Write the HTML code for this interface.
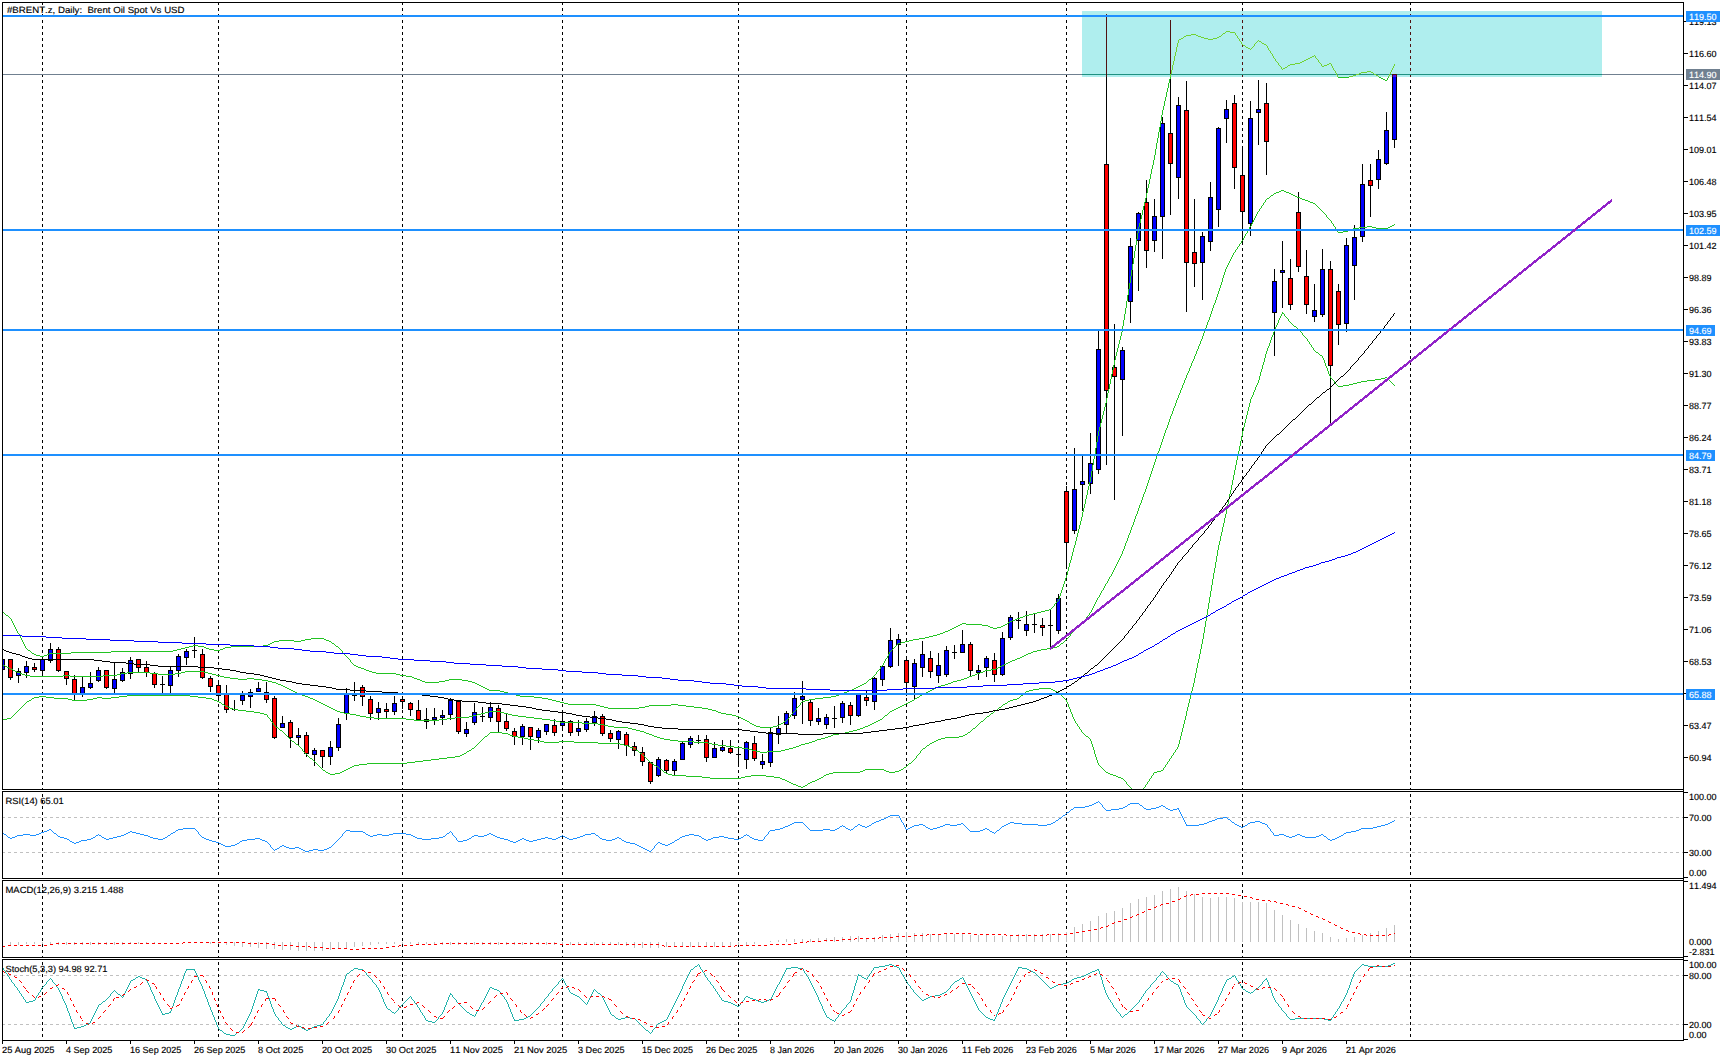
<!DOCTYPE html>
<html lang="en"><head><meta charset="utf-8"><title>#BRENT.z Daily</title>
<style>html,body{margin:0;padding:0;background:#fff;overflow:hidden}svg{display:block}text{white-space:pre}</style></head><body>
<svg width="1731" height="1061" viewBox="0 0 1731 1061" shape-rendering="crispEdges">
<rect x="0" y="0" width="1731" height="1061" fill="#FFFFFF"/>
<defs>
<clipPath id="cm"><rect x="3" y="3" width="1680" height="786"/></clipPath>
<clipPath id="cr"><rect x="1082" y="11" width="520" height="66"/></clipPath>
<clipPath id="c1"><rect x="3" y="792" width="1680" height="86"/></clipPath>
<clipPath id="c2"><rect x="3" y="881" width="1680" height="76"/></clipPath>
<clipPath id="c3"><rect x="3" y="960" width="1680" height="80"/></clipPath>
</defs>
<g clip-path="url(#cm)">
<line x1="42.5" y1="2" x2="42.5" y2="789" stroke="#000000" stroke-width="1" stroke-dasharray="3 3"/>
<line x1="218.5" y1="2" x2="218.5" y2="789" stroke="#000000" stroke-width="1" stroke-dasharray="3 3"/>
<line x1="402.5" y1="2" x2="402.5" y2="789" stroke="#000000" stroke-width="1" stroke-dasharray="3 3"/>
<line x1="562.5" y1="2" x2="562.5" y2="789" stroke="#000000" stroke-width="1" stroke-dasharray="3 3"/>
<line x1="738.5" y1="2" x2="738.5" y2="789" stroke="#000000" stroke-width="1" stroke-dasharray="3 3"/>
<line x1="906.5" y1="2" x2="906.5" y2="789" stroke="#000000" stroke-width="1" stroke-dasharray="3 3"/>
<line x1="1066.5" y1="2" x2="1066.5" y2="789" stroke="#000000" stroke-width="1" stroke-dasharray="3 3"/>
<line x1="1242.5" y1="2" x2="1242.5" y2="789" stroke="#000000" stroke-width="1" stroke-dasharray="3 3"/>
<line x1="1410.5" y1="2" x2="1410.5" y2="789" stroke="#000000" stroke-width="1" stroke-dasharray="3 3"/>
<rect x="3" y="74" width="1680" height="1" fill="#708090"/>
<rect x="2" y="657" width="1" height="16" fill="#000000"/>
<rect x="0" y="659" width="5" height="11" fill="#000000"/>
<rect x="1" y="660" width="3" height="9" fill="#0000FF"/>
<rect x="10" y="659" width="1" height="21" fill="#000000"/>
<rect x="8" y="659" width="5" height="19" fill="#000000"/>
<rect x="9" y="660" width="3" height="17" fill="#FF0000"/>
<rect x="18" y="668" width="1" height="15" fill="#000000"/>
<rect x="16" y="671" width="5" height="5" fill="#000000"/>
<rect x="17" y="672" width="3" height="3" fill="#0000FF"/>
<rect x="26" y="661" width="1" height="17" fill="#000000"/>
<rect x="24" y="666" width="5" height="7" fill="#000000"/>
<rect x="25" y="667" width="3" height="5" fill="#0000FF"/>
<rect x="34" y="663" width="1" height="9" fill="#000000"/>
<rect x="32" y="667" width="5" height="3" fill="#000000"/>
<rect x="33" y="668" width="3" height="1" fill="#FF0000"/>
<rect x="42" y="656" width="1" height="21" fill="#000000"/>
<rect x="40" y="659" width="5" height="12" fill="#000000"/>
<rect x="41" y="660" width="3" height="10" fill="#0000FF"/>
<rect x="50" y="643" width="1" height="20" fill="#000000"/>
<rect x="48" y="649" width="5" height="12" fill="#000000"/>
<rect x="49" y="650" width="3" height="10" fill="#0000FF"/>
<rect x="58" y="647" width="1" height="25" fill="#000000"/>
<rect x="56" y="649" width="5" height="22" fill="#000000"/>
<rect x="57" y="650" width="3" height="20" fill="#FF0000"/>
<rect x="66" y="671" width="1" height="14" fill="#000000"/>
<rect x="64" y="671" width="5" height="8" fill="#000000"/>
<rect x="65" y="672" width="3" height="6" fill="#FF0000"/>
<rect x="74" y="675" width="1" height="26" fill="#000000"/>
<rect x="72" y="679" width="5" height="15" fill="#000000"/>
<rect x="73" y="680" width="3" height="13" fill="#FF0000"/>
<rect x="82" y="676" width="1" height="21" fill="#000000"/>
<rect x="80" y="687" width="5" height="7" fill="#000000"/>
<rect x="81" y="688" width="3" height="5" fill="#0000FF"/>
<rect x="90" y="672" width="1" height="17" fill="#000000"/>
<rect x="88" y="683" width="5" height="5" fill="#000000"/>
<rect x="89" y="684" width="3" height="3" fill="#0000FF"/>
<rect x="98" y="667" width="1" height="15" fill="#000000"/>
<rect x="96" y="670" width="5" height="11" fill="#000000"/>
<rect x="97" y="671" width="3" height="9" fill="#0000FF"/>
<rect x="106" y="670" width="1" height="19" fill="#000000"/>
<rect x="104" y="670" width="5" height="18" fill="#000000"/>
<rect x="105" y="671" width="3" height="16" fill="#FF0000"/>
<rect x="114" y="662" width="1" height="32" fill="#000000"/>
<rect x="112" y="679" width="5" height="10" fill="#000000"/>
<rect x="113" y="680" width="3" height="8" fill="#0000FF"/>
<rect x="122" y="668" width="1" height="14" fill="#000000"/>
<rect x="120" y="672" width="5" height="9" fill="#000000"/>
<rect x="121" y="673" width="3" height="7" fill="#0000FF"/>
<rect x="130" y="657" width="1" height="22" fill="#000000"/>
<rect x="128" y="660" width="5" height="14" fill="#000000"/>
<rect x="129" y="661" width="3" height="12" fill="#0000FF"/>
<rect x="138" y="659" width="1" height="13" fill="#000000"/>
<rect x="136" y="659" width="5" height="9" fill="#000000"/>
<rect x="137" y="660" width="3" height="7" fill="#FF0000"/>
<rect x="146" y="661" width="1" height="16" fill="#000000"/>
<rect x="144" y="667" width="5" height="6" fill="#000000"/>
<rect x="145" y="668" width="3" height="4" fill="#FF0000"/>
<rect x="154" y="672" width="1" height="16" fill="#000000"/>
<rect x="152" y="673" width="5" height="12" fill="#000000"/>
<rect x="153" y="674" width="3" height="10" fill="#FF0000"/>
<rect x="162" y="676" width="1" height="18" fill="#000000"/>
<rect x="160" y="684" width="5" height="1" fill="#000000"/>
<rect x="170" y="666" width="1" height="28" fill="#000000"/>
<rect x="168" y="670" width="5" height="16" fill="#000000"/>
<rect x="169" y="671" width="3" height="14" fill="#0000FF"/>
<rect x="178" y="654" width="1" height="23" fill="#000000"/>
<rect x="176" y="656" width="5" height="15" fill="#000000"/>
<rect x="177" y="657" width="3" height="13" fill="#0000FF"/>
<rect x="186" y="649" width="1" height="16" fill="#000000"/>
<rect x="184" y="651" width="5" height="7" fill="#000000"/>
<rect x="185" y="652" width="3" height="5" fill="#0000FF"/>
<rect x="194" y="637" width="1" height="21" fill="#000000"/>
<rect x="192" y="650" width="5" height="1" fill="#000000"/>
<rect x="202" y="649" width="1" height="30" fill="#000000"/>
<rect x="200" y="654" width="5" height="24" fill="#000000"/>
<rect x="201" y="655" width="3" height="22" fill="#FF0000"/>
<rect x="210" y="676" width="1" height="16" fill="#000000"/>
<rect x="208" y="678" width="5" height="9" fill="#000000"/>
<rect x="209" y="679" width="3" height="7" fill="#FF0000"/>
<rect x="218" y="680" width="1" height="22" fill="#000000"/>
<rect x="216" y="685" width="5" height="11" fill="#000000"/>
<rect x="217" y="686" width="3" height="9" fill="#FF0000"/>
<rect x="226" y="685" width="1" height="28" fill="#000000"/>
<rect x="224" y="694" width="5" height="16" fill="#000000"/>
<rect x="225" y="695" width="3" height="14" fill="#FF0000"/>
<rect x="234" y="700" width="1" height="11" fill="#000000"/>
<rect x="232" y="709" width="5" height="1" fill="#000000"/>
<rect x="242" y="691" width="1" height="14" fill="#000000"/>
<rect x="240" y="695" width="5" height="6" fill="#000000"/>
<rect x="241" y="696" width="3" height="4" fill="#0000FF"/>
<rect x="250" y="689" width="1" height="19" fill="#000000"/>
<rect x="248" y="692" width="5" height="5" fill="#000000"/>
<rect x="249" y="693" width="3" height="3" fill="#0000FF"/>
<rect x="258" y="682" width="1" height="10" fill="#000000"/>
<rect x="256" y="688" width="5" height="4" fill="#000000"/>
<rect x="257" y="689" width="3" height="2" fill="#0000FF"/>
<rect x="266" y="682" width="1" height="21" fill="#000000"/>
<rect x="264" y="692" width="5" height="8" fill="#000000"/>
<rect x="265" y="693" width="3" height="6" fill="#FF0000"/>
<rect x="274" y="696" width="1" height="43" fill="#000000"/>
<rect x="272" y="698" width="5" height="40" fill="#000000"/>
<rect x="273" y="699" width="3" height="38" fill="#FF0000"/>
<rect x="282" y="716" width="1" height="12" fill="#000000"/>
<rect x="280" y="723" width="5" height="5" fill="#000000"/>
<rect x="281" y="724" width="3" height="3" fill="#0000FF"/>
<rect x="290" y="720" width="1" height="28" fill="#000000"/>
<rect x="288" y="722" width="5" height="16" fill="#000000"/>
<rect x="289" y="723" width="3" height="14" fill="#FF0000"/>
<rect x="298" y="728" width="1" height="17" fill="#000000"/>
<rect x="296" y="735" width="5" height="3" fill="#000000"/>
<rect x="297" y="736" width="3" height="1" fill="#0000FF"/>
<rect x="306" y="732" width="1" height="25" fill="#000000"/>
<rect x="304" y="735" width="5" height="19" fill="#000000"/>
<rect x="305" y="736" width="3" height="17" fill="#FF0000"/>
<rect x="314" y="748" width="1" height="18" fill="#000000"/>
<rect x="312" y="750" width="5" height="5" fill="#000000"/>
<rect x="313" y="751" width="3" height="3" fill="#0000FF"/>
<rect x="322" y="750" width="1" height="18" fill="#000000"/>
<rect x="320" y="750" width="5" height="7" fill="#000000"/>
<rect x="321" y="751" width="3" height="5" fill="#FF0000"/>
<rect x="330" y="741" width="1" height="24" fill="#000000"/>
<rect x="328" y="747" width="5" height="10" fill="#000000"/>
<rect x="329" y="748" width="3" height="8" fill="#0000FF"/>
<rect x="338" y="718" width="1" height="33" fill="#000000"/>
<rect x="336" y="724" width="5" height="24" fill="#000000"/>
<rect x="337" y="725" width="3" height="22" fill="#0000FF"/>
<rect x="346" y="688" width="1" height="32" fill="#000000"/>
<rect x="344" y="694" width="5" height="20" fill="#000000"/>
<rect x="345" y="695" width="3" height="18" fill="#0000FF"/>
<rect x="354" y="682" width="1" height="19" fill="#000000"/>
<rect x="352" y="695" width="5" height="1" fill="#000000"/>
<rect x="362" y="685" width="1" height="21" fill="#000000"/>
<rect x="360" y="687" width="5" height="10" fill="#000000"/>
<rect x="361" y="688" width="3" height="8" fill="#FF0000"/>
<rect x="370" y="696" width="1" height="24" fill="#000000"/>
<rect x="368" y="699" width="5" height="15" fill="#000000"/>
<rect x="369" y="700" width="3" height="13" fill="#FF0000"/>
<rect x="378" y="702" width="1" height="18" fill="#000000"/>
<rect x="376" y="708" width="5" height="5" fill="#000000"/>
<rect x="377" y="709" width="3" height="3" fill="#0000FF"/>
<rect x="386" y="703" width="1" height="16" fill="#000000"/>
<rect x="384" y="709" width="5" height="3" fill="#000000"/>
<rect x="385" y="710" width="3" height="1" fill="#FF0000"/>
<rect x="394" y="696" width="1" height="19" fill="#000000"/>
<rect x="392" y="703" width="5" height="9" fill="#000000"/>
<rect x="393" y="704" width="3" height="7" fill="#0000FF"/>
<rect x="402" y="696" width="1" height="13" fill="#000000"/>
<rect x="400" y="699" width="5" height="3" fill="#000000"/>
<rect x="401" y="700" width="3" height="1" fill="#FF0000"/>
<rect x="410" y="702" width="1" height="14" fill="#000000"/>
<rect x="408" y="703" width="5" height="7" fill="#000000"/>
<rect x="409" y="704" width="3" height="5" fill="#FF0000"/>
<rect x="418" y="700" width="1" height="21" fill="#000000"/>
<rect x="416" y="710" width="5" height="10" fill="#000000"/>
<rect x="417" y="711" width="3" height="8" fill="#FF0000"/>
<rect x="426" y="708" width="1" height="21" fill="#000000"/>
<rect x="424" y="719" width="5" height="3" fill="#000000"/>
<rect x="425" y="720" width="3" height="1" fill="#0000FF"/>
<rect x="434" y="708" width="1" height="17" fill="#000000"/>
<rect x="432" y="717" width="5" height="3" fill="#000000"/>
<rect x="433" y="718" width="3" height="1" fill="#0000FF"/>
<rect x="442" y="710" width="1" height="15" fill="#000000"/>
<rect x="440" y="715" width="5" height="3" fill="#000000"/>
<rect x="441" y="716" width="3" height="1" fill="#0000FF"/>
<rect x="450" y="698" width="1" height="22" fill="#000000"/>
<rect x="448" y="700" width="5" height="15" fill="#000000"/>
<rect x="449" y="701" width="3" height="13" fill="#0000FF"/>
<rect x="458" y="700" width="1" height="34" fill="#000000"/>
<rect x="456" y="701" width="5" height="31" fill="#000000"/>
<rect x="457" y="702" width="3" height="29" fill="#FF0000"/>
<rect x="466" y="722" width="1" height="15" fill="#000000"/>
<rect x="464" y="729" width="5" height="5" fill="#000000"/>
<rect x="465" y="730" width="3" height="3" fill="#0000FF"/>
<rect x="474" y="703" width="1" height="22" fill="#000000"/>
<rect x="472" y="712" width="5" height="11" fill="#000000"/>
<rect x="473" y="713" width="3" height="9" fill="#0000FF"/>
<rect x="482" y="707" width="1" height="15" fill="#000000"/>
<rect x="480" y="716" width="5" height="1" fill="#000000"/>
<rect x="490" y="702" width="1" height="20" fill="#000000"/>
<rect x="488" y="707" width="5" height="11" fill="#000000"/>
<rect x="489" y="708" width="3" height="9" fill="#0000FF"/>
<rect x="498" y="705" width="1" height="28" fill="#000000"/>
<rect x="496" y="708" width="5" height="14" fill="#000000"/>
<rect x="497" y="709" width="3" height="12" fill="#FF0000"/>
<rect x="506" y="713" width="1" height="18" fill="#000000"/>
<rect x="504" y="721" width="5" height="8" fill="#000000"/>
<rect x="505" y="722" width="3" height="6" fill="#FF0000"/>
<rect x="514" y="728" width="1" height="17" fill="#000000"/>
<rect x="512" y="731" width="5" height="6" fill="#000000"/>
<rect x="513" y="732" width="3" height="4" fill="#FF0000"/>
<rect x="522" y="724" width="1" height="21" fill="#000000"/>
<rect x="520" y="726" width="5" height="11" fill="#000000"/>
<rect x="521" y="727" width="3" height="9" fill="#0000FF"/>
<rect x="530" y="727" width="1" height="23" fill="#000000"/>
<rect x="528" y="727" width="5" height="10" fill="#000000"/>
<rect x="529" y="728" width="3" height="8" fill="#FF0000"/>
<rect x="538" y="728" width="1" height="15" fill="#000000"/>
<rect x="536" y="730" width="5" height="8" fill="#000000"/>
<rect x="537" y="731" width="3" height="6" fill="#0000FF"/>
<rect x="546" y="724" width="1" height="11" fill="#000000"/>
<rect x="544" y="724" width="5" height="8" fill="#000000"/>
<rect x="545" y="725" width="3" height="6" fill="#0000FF"/>
<rect x="554" y="719" width="1" height="17" fill="#000000"/>
<rect x="552" y="725" width="5" height="8" fill="#000000"/>
<rect x="553" y="726" width="3" height="6" fill="#FF0000"/>
<rect x="562" y="711" width="1" height="20" fill="#000000"/>
<rect x="560" y="721" width="5" height="5" fill="#000000"/>
<rect x="561" y="722" width="3" height="3" fill="#0000FF"/>
<rect x="570" y="720" width="1" height="16" fill="#000000"/>
<rect x="568" y="721" width="5" height="12" fill="#000000"/>
<rect x="569" y="722" width="3" height="10" fill="#FF0000"/>
<rect x="578" y="720" width="1" height="16" fill="#000000"/>
<rect x="576" y="728" width="5" height="4" fill="#000000"/>
<rect x="577" y="729" width="3" height="2" fill="#0000FF"/>
<rect x="586" y="718" width="1" height="14" fill="#000000"/>
<rect x="584" y="721" width="5" height="9" fill="#000000"/>
<rect x="585" y="722" width="3" height="7" fill="#0000FF"/>
<rect x="594" y="711" width="1" height="15" fill="#000000"/>
<rect x="592" y="716" width="5" height="7" fill="#000000"/>
<rect x="593" y="717" width="3" height="5" fill="#0000FF"/>
<rect x="602" y="714" width="1" height="22" fill="#000000"/>
<rect x="600" y="716" width="5" height="18" fill="#000000"/>
<rect x="601" y="717" width="3" height="16" fill="#FF0000"/>
<rect x="610" y="730" width="1" height="12" fill="#000000"/>
<rect x="608" y="733" width="5" height="6" fill="#000000"/>
<rect x="609" y="734" width="3" height="4" fill="#FF0000"/>
<rect x="618" y="730" width="1" height="19" fill="#000000"/>
<rect x="616" y="731" width="5" height="9" fill="#000000"/>
<rect x="617" y="732" width="3" height="7" fill="#0000FF"/>
<rect x="626" y="732" width="1" height="24" fill="#000000"/>
<rect x="624" y="734" width="5" height="12" fill="#000000"/>
<rect x="625" y="735" width="3" height="10" fill="#FF0000"/>
<rect x="634" y="742" width="1" height="14" fill="#000000"/>
<rect x="632" y="746" width="5" height="5" fill="#000000"/>
<rect x="633" y="747" width="3" height="3" fill="#FF0000"/>
<rect x="642" y="747" width="1" height="19" fill="#000000"/>
<rect x="640" y="752" width="5" height="10" fill="#000000"/>
<rect x="641" y="753" width="3" height="8" fill="#FF0000"/>
<rect x="650" y="762" width="1" height="22" fill="#000000"/>
<rect x="648" y="762" width="5" height="20" fill="#000000"/>
<rect x="649" y="763" width="3" height="18" fill="#FF0000"/>
<rect x="658" y="757" width="1" height="20" fill="#000000"/>
<rect x="656" y="759" width="5" height="17" fill="#000000"/>
<rect x="657" y="760" width="3" height="15" fill="#0000FF"/>
<rect x="666" y="759" width="1" height="14" fill="#000000"/>
<rect x="664" y="760" width="5" height="11" fill="#000000"/>
<rect x="665" y="761" width="3" height="9" fill="#FF0000"/>
<rect x="674" y="759" width="1" height="16" fill="#000000"/>
<rect x="672" y="761" width="5" height="10" fill="#000000"/>
<rect x="673" y="762" width="3" height="8" fill="#0000FF"/>
<rect x="682" y="742" width="1" height="18" fill="#000000"/>
<rect x="680" y="743" width="5" height="17" fill="#000000"/>
<rect x="681" y="744" width="3" height="15" fill="#0000FF"/>
<rect x="690" y="736" width="1" height="12" fill="#000000"/>
<rect x="688" y="738" width="5" height="7" fill="#000000"/>
<rect x="689" y="739" width="3" height="5" fill="#0000FF"/>
<rect x="698" y="735" width="1" height="9" fill="#000000"/>
<rect x="696" y="740" width="5" height="1" fill="#000000"/>
<rect x="706" y="735" width="1" height="27" fill="#000000"/>
<rect x="704" y="739" width="5" height="19" fill="#000000"/>
<rect x="705" y="740" width="3" height="17" fill="#FF0000"/>
<rect x="714" y="742" width="1" height="16" fill="#000000"/>
<rect x="712" y="748" width="5" height="10" fill="#000000"/>
<rect x="713" y="749" width="3" height="8" fill="#0000FF"/>
<rect x="722" y="740" width="1" height="12" fill="#000000"/>
<rect x="720" y="747" width="5" height="4" fill="#000000"/>
<rect x="721" y="748" width="3" height="2" fill="#0000FF"/>
<rect x="730" y="740" width="1" height="14" fill="#000000"/>
<rect x="728" y="748" width="5" height="5" fill="#000000"/>
<rect x="729" y="749" width="3" height="3" fill="#FF0000"/>
<rect x="738" y="747" width="1" height="20" fill="#000000"/>
<rect x="736" y="754" width="5" height="1" fill="#000000"/>
<rect x="746" y="741" width="1" height="28" fill="#000000"/>
<rect x="744" y="742" width="5" height="18" fill="#000000"/>
<rect x="745" y="743" width="3" height="16" fill="#0000FF"/>
<rect x="754" y="736" width="1" height="25" fill="#000000"/>
<rect x="752" y="743" width="5" height="16" fill="#000000"/>
<rect x="753" y="744" width="3" height="14" fill="#FF0000"/>
<rect x="762" y="754" width="1" height="15" fill="#000000"/>
<rect x="760" y="761" width="5" height="4" fill="#000000"/>
<rect x="761" y="762" width="3" height="2" fill="#0000FF"/>
<rect x="770" y="728" width="1" height="39" fill="#000000"/>
<rect x="768" y="732" width="5" height="31" fill="#000000"/>
<rect x="769" y="733" width="3" height="29" fill="#0000FF"/>
<rect x="778" y="716" width="1" height="28" fill="#000000"/>
<rect x="776" y="728" width="5" height="7" fill="#000000"/>
<rect x="777" y="729" width="3" height="5" fill="#0000FF"/>
<rect x="786" y="711" width="1" height="23" fill="#000000"/>
<rect x="784" y="713" width="5" height="12" fill="#000000"/>
<rect x="785" y="714" width="3" height="10" fill="#0000FF"/>
<rect x="794" y="692" width="1" height="27" fill="#000000"/>
<rect x="792" y="698" width="5" height="18" fill="#000000"/>
<rect x="793" y="699" width="3" height="16" fill="#0000FF"/>
<rect x="802" y="681" width="1" height="43" fill="#000000"/>
<rect x="800" y="696" width="5" height="4" fill="#000000"/>
<rect x="801" y="697" width="3" height="2" fill="#0000FF"/>
<rect x="810" y="700" width="1" height="26" fill="#000000"/>
<rect x="808" y="702" width="5" height="19" fill="#000000"/>
<rect x="809" y="703" width="3" height="17" fill="#FF0000"/>
<rect x="818" y="708" width="1" height="17" fill="#000000"/>
<rect x="816" y="718" width="5" height="4" fill="#000000"/>
<rect x="817" y="719" width="3" height="2" fill="#0000FF"/>
<rect x="826" y="714" width="1" height="15" fill="#000000"/>
<rect x="824" y="717" width="5" height="8" fill="#000000"/>
<rect x="825" y="718" width="3" height="6" fill="#0000FF"/>
<rect x="834" y="706" width="1" height="22" fill="#000000"/>
<rect x="832" y="718" width="5" height="1" fill="#000000"/>
<rect x="842" y="701" width="1" height="22" fill="#000000"/>
<rect x="840" y="703" width="5" height="15" fill="#000000"/>
<rect x="841" y="704" width="3" height="13" fill="#0000FF"/>
<rect x="850" y="702" width="1" height="23" fill="#000000"/>
<rect x="848" y="705" width="5" height="11" fill="#000000"/>
<rect x="849" y="706" width="3" height="9" fill="#FF0000"/>
<rect x="858" y="694" width="1" height="23" fill="#000000"/>
<rect x="856" y="694" width="5" height="22" fill="#000000"/>
<rect x="857" y="695" width="3" height="20" fill="#0000FF"/>
<rect x="866" y="691" width="1" height="15" fill="#000000"/>
<rect x="864" y="697" width="5" height="4" fill="#000000"/>
<rect x="865" y="698" width="3" height="2" fill="#FF0000"/>
<rect x="874" y="677" width="1" height="33" fill="#000000"/>
<rect x="872" y="678" width="5" height="24" fill="#000000"/>
<rect x="873" y="679" width="3" height="22" fill="#0000FF"/>
<rect x="882" y="665" width="1" height="21" fill="#000000"/>
<rect x="880" y="666" width="5" height="14" fill="#000000"/>
<rect x="881" y="667" width="3" height="12" fill="#0000FF"/>
<rect x="890" y="628" width="1" height="40" fill="#000000"/>
<rect x="888" y="640" width="5" height="27" fill="#000000"/>
<rect x="889" y="641" width="3" height="25" fill="#0000FF"/>
<rect x="898" y="634" width="1" height="32" fill="#000000"/>
<rect x="896" y="639" width="5" height="6" fill="#000000"/>
<rect x="897" y="640" width="3" height="4" fill="#0000FF"/>
<rect x="906" y="659" width="1" height="37" fill="#000000"/>
<rect x="904" y="660" width="5" height="23" fill="#000000"/>
<rect x="905" y="661" width="3" height="21" fill="#FF0000"/>
<rect x="914" y="659" width="1" height="41" fill="#000000"/>
<rect x="912" y="663" width="5" height="24" fill="#000000"/>
<rect x="913" y="664" width="3" height="22" fill="#0000FF"/>
<rect x="922" y="641" width="1" height="36" fill="#000000"/>
<rect x="920" y="654" width="5" height="14" fill="#000000"/>
<rect x="921" y="655" width="3" height="12" fill="#0000FF"/>
<rect x="930" y="651" width="1" height="27" fill="#000000"/>
<rect x="928" y="658" width="5" height="14" fill="#000000"/>
<rect x="929" y="659" width="3" height="12" fill="#FF0000"/>
<rect x="938" y="653" width="1" height="30" fill="#000000"/>
<rect x="936" y="665" width="5" height="11" fill="#000000"/>
<rect x="937" y="666" width="3" height="9" fill="#0000FF"/>
<rect x="946" y="646" width="1" height="31" fill="#000000"/>
<rect x="944" y="650" width="5" height="25" fill="#000000"/>
<rect x="945" y="651" width="3" height="23" fill="#0000FF"/>
<rect x="954" y="645" width="1" height="14" fill="#000000"/>
<rect x="952" y="652" width="5" height="1" fill="#000000"/>
<rect x="962" y="630" width="1" height="23" fill="#000000"/>
<rect x="960" y="644" width="5" height="9" fill="#000000"/>
<rect x="961" y="645" width="3" height="7" fill="#0000FF"/>
<rect x="970" y="642" width="1" height="35" fill="#000000"/>
<rect x="968" y="644" width="5" height="27" fill="#000000"/>
<rect x="969" y="645" width="3" height="25" fill="#FF0000"/>
<rect x="978" y="665" width="1" height="15" fill="#000000"/>
<rect x="976" y="670" width="5" height="3" fill="#000000"/>
<rect x="977" y="671" width="3" height="1" fill="#0000FF"/>
<rect x="986" y="656" width="1" height="21" fill="#000000"/>
<rect x="984" y="658" width="5" height="10" fill="#000000"/>
<rect x="985" y="659" width="3" height="8" fill="#0000FF"/>
<rect x="994" y="653" width="1" height="29" fill="#000000"/>
<rect x="992" y="660" width="5" height="15" fill="#000000"/>
<rect x="993" y="661" width="3" height="13" fill="#FF0000"/>
<rect x="1002" y="632" width="1" height="44" fill="#000000"/>
<rect x="1000" y="638" width="5" height="37" fill="#000000"/>
<rect x="1001" y="639" width="3" height="35" fill="#0000FF"/>
<rect x="1010" y="615" width="1" height="25" fill="#000000"/>
<rect x="1008" y="617" width="5" height="21" fill="#000000"/>
<rect x="1009" y="618" width="3" height="19" fill="#0000FF"/>
<rect x="1018" y="612" width="1" height="17" fill="#000000"/>
<rect x="1016" y="620" width="5" height="1" fill="#000000"/>
<rect x="1026" y="611" width="1" height="25" fill="#000000"/>
<rect x="1024" y="624" width="5" height="7" fill="#000000"/>
<rect x="1025" y="625" width="3" height="5" fill="#0000FF"/>
<rect x="1034" y="613" width="1" height="20" fill="#000000"/>
<rect x="1032" y="624" width="5" height="1" fill="#000000"/>
<rect x="1042" y="618" width="1" height="18" fill="#000000"/>
<rect x="1040" y="625" width="5" height="3" fill="#000000"/>
<rect x="1041" y="626" width="3" height="1" fill="#FF0000"/>
<rect x="1050" y="609" width="1" height="41" fill="#000000"/>
<rect x="1048" y="625" width="5" height="1" fill="#000000"/>
<rect x="1058" y="594" width="1" height="40" fill="#000000"/>
<rect x="1056" y="598" width="5" height="33" fill="#000000"/>
<rect x="1057" y="599" width="3" height="31" fill="#0000FF"/>
<rect x="1066" y="486" width="1" height="83" fill="#000000"/>
<rect x="1064" y="491" width="5" height="52" fill="#000000"/>
<rect x="1065" y="492" width="3" height="50" fill="#FF0000"/>
<rect x="1074" y="448" width="1" height="86" fill="#000000"/>
<rect x="1072" y="489" width="5" height="42" fill="#000000"/>
<rect x="1073" y="490" width="3" height="40" fill="#0000FF"/>
<rect x="1082" y="456" width="1" height="55" fill="#000000"/>
<rect x="1080" y="481" width="5" height="4" fill="#000000"/>
<rect x="1081" y="482" width="3" height="2" fill="#0000FF"/>
<rect x="1090" y="433" width="1" height="61" fill="#000000"/>
<rect x="1088" y="463" width="5" height="21" fill="#000000"/>
<rect x="1089" y="464" width="3" height="19" fill="#0000FF"/>
<rect x="1098" y="331" width="1" height="143" fill="#000000"/>
<rect x="1096" y="349" width="5" height="121" fill="#000000"/>
<rect x="1097" y="350" width="3" height="119" fill="#0000FF"/>
<rect x="1106" y="14" width="1" height="451" fill="#000000"/>
<rect x="1104" y="164" width="5" height="227" fill="#000000"/>
<rect x="1105" y="165" width="3" height="225" fill="#FF0000"/>
<rect x="1114" y="324" width="1" height="176" fill="#000000"/>
<rect x="1112" y="367" width="5" height="10" fill="#000000"/>
<rect x="1113" y="368" width="3" height="8" fill="#FF0000"/>
<rect x="1122" y="347" width="1" height="89" fill="#000000"/>
<rect x="1120" y="350" width="5" height="30" fill="#000000"/>
<rect x="1121" y="351" width="3" height="28" fill="#0000FF"/>
<rect x="1130" y="238" width="1" height="85" fill="#000000"/>
<rect x="1128" y="246" width="5" height="56" fill="#000000"/>
<rect x="1129" y="247" width="3" height="54" fill="#0000FF"/>
<rect x="1138" y="212" width="1" height="79" fill="#000000"/>
<rect x="1136" y="213" width="5" height="28" fill="#000000"/>
<rect x="1137" y="214" width="3" height="26" fill="#0000FF"/>
<rect x="1146" y="180" width="1" height="88" fill="#000000"/>
<rect x="1144" y="202" width="5" height="49" fill="#000000"/>
<rect x="1145" y="203" width="3" height="47" fill="#FF0000"/>
<rect x="1154" y="199" width="1" height="53" fill="#000000"/>
<rect x="1152" y="216" width="5" height="25" fill="#000000"/>
<rect x="1153" y="217" width="3" height="23" fill="#0000FF"/>
<rect x="1162" y="117" width="1" height="142" fill="#000000"/>
<rect x="1160" y="123" width="5" height="94" fill="#000000"/>
<rect x="1161" y="124" width="3" height="92" fill="#0000FF"/>
<rect x="1170" y="20" width="1" height="195" fill="#000000"/>
<rect x="1168" y="133" width="5" height="31" fill="#000000"/>
<rect x="1169" y="134" width="3" height="29" fill="#FF0000"/>
<rect x="1178" y="97" width="1" height="102" fill="#000000"/>
<rect x="1176" y="105" width="5" height="73" fill="#000000"/>
<rect x="1177" y="106" width="3" height="71" fill="#0000FF"/>
<rect x="1186" y="81" width="1" height="231" fill="#000000"/>
<rect x="1184" y="110" width="5" height="153" fill="#000000"/>
<rect x="1185" y="111" width="3" height="151" fill="#FF0000"/>
<rect x="1194" y="199" width="1" height="88" fill="#000000"/>
<rect x="1192" y="252" width="5" height="12" fill="#000000"/>
<rect x="1193" y="253" width="3" height="10" fill="#FF0000"/>
<rect x="1202" y="232" width="1" height="68" fill="#000000"/>
<rect x="1200" y="236" width="5" height="27" fill="#000000"/>
<rect x="1201" y="237" width="3" height="25" fill="#0000FF"/>
<rect x="1210" y="182" width="1" height="69" fill="#000000"/>
<rect x="1208" y="197" width="5" height="45" fill="#000000"/>
<rect x="1209" y="198" width="3" height="43" fill="#0000FF"/>
<rect x="1218" y="127" width="1" height="100" fill="#000000"/>
<rect x="1216" y="128" width="5" height="82" fill="#000000"/>
<rect x="1217" y="129" width="3" height="80" fill="#0000FF"/>
<rect x="1226" y="100" width="1" height="43" fill="#000000"/>
<rect x="1224" y="109" width="5" height="10" fill="#000000"/>
<rect x="1225" y="110" width="3" height="8" fill="#0000FF"/>
<rect x="1234" y="95" width="1" height="94" fill="#000000"/>
<rect x="1232" y="103" width="5" height="65" fill="#000000"/>
<rect x="1233" y="104" width="3" height="63" fill="#FF0000"/>
<rect x="1242" y="146" width="1" height="99" fill="#000000"/>
<rect x="1240" y="175" width="5" height="37" fill="#000000"/>
<rect x="1241" y="176" width="3" height="35" fill="#FF0000"/>
<rect x="1250" y="101" width="1" height="135" fill="#000000"/>
<rect x="1248" y="118" width="5" height="106" fill="#000000"/>
<rect x="1249" y="119" width="3" height="104" fill="#0000FF"/>
<rect x="1258" y="80" width="1" height="65" fill="#000000"/>
<rect x="1256" y="109" width="5" height="4" fill="#000000"/>
<rect x="1257" y="110" width="3" height="2" fill="#0000FF"/>
<rect x="1266" y="83" width="1" height="92" fill="#000000"/>
<rect x="1264" y="103" width="5" height="39" fill="#000000"/>
<rect x="1265" y="104" width="3" height="37" fill="#FF0000"/>
<rect x="1274" y="269" width="1" height="87" fill="#000000"/>
<rect x="1272" y="281" width="5" height="32" fill="#000000"/>
<rect x="1273" y="282" width="3" height="30" fill="#0000FF"/>
<rect x="1282" y="241" width="1" height="67" fill="#000000"/>
<rect x="1280" y="270" width="5" height="3" fill="#000000"/>
<rect x="1281" y="271" width="3" height="1" fill="#0000FF"/>
<rect x="1290" y="259" width="1" height="51" fill="#000000"/>
<rect x="1288" y="278" width="5" height="27" fill="#000000"/>
<rect x="1289" y="279" width="3" height="25" fill="#FF0000"/>
<rect x="1298" y="192" width="1" height="80" fill="#000000"/>
<rect x="1296" y="212" width="5" height="55" fill="#000000"/>
<rect x="1297" y="213" width="3" height="53" fill="#FF0000"/>
<rect x="1306" y="250" width="1" height="64" fill="#000000"/>
<rect x="1304" y="276" width="5" height="29" fill="#000000"/>
<rect x="1305" y="277" width="3" height="27" fill="#FF0000"/>
<rect x="1314" y="284" width="1" height="38" fill="#000000"/>
<rect x="1312" y="310" width="5" height="7" fill="#000000"/>
<rect x="1313" y="311" width="3" height="5" fill="#0000FF"/>
<rect x="1322" y="249" width="1" height="68" fill="#000000"/>
<rect x="1320" y="269" width="5" height="46" fill="#000000"/>
<rect x="1321" y="270" width="3" height="44" fill="#0000FF"/>
<rect x="1330" y="261" width="1" height="163" fill="#000000"/>
<rect x="1328" y="269" width="5" height="97" fill="#000000"/>
<rect x="1329" y="270" width="3" height="95" fill="#FF0000"/>
<rect x="1338" y="284" width="1" height="61" fill="#000000"/>
<rect x="1336" y="291" width="5" height="34" fill="#000000"/>
<rect x="1337" y="292" width="3" height="32" fill="#FF0000"/>
<rect x="1346" y="238" width="1" height="94" fill="#000000"/>
<rect x="1344" y="245" width="5" height="79" fill="#000000"/>
<rect x="1345" y="246" width="3" height="77" fill="#0000FF"/>
<rect x="1354" y="225" width="1" height="75" fill="#000000"/>
<rect x="1352" y="237" width="5" height="29" fill="#000000"/>
<rect x="1353" y="238" width="3" height="27" fill="#0000FF"/>
<rect x="1362" y="164" width="1" height="78" fill="#000000"/>
<rect x="1360" y="184" width="5" height="53" fill="#000000"/>
<rect x="1361" y="185" width="3" height="51" fill="#0000FF"/>
<rect x="1370" y="164" width="1" height="53" fill="#000000"/>
<rect x="1368" y="180" width="5" height="6" fill="#000000"/>
<rect x="1369" y="181" width="3" height="4" fill="#FF0000"/>
<rect x="1378" y="150" width="1" height="39" fill="#000000"/>
<rect x="1376" y="159" width="5" height="21" fill="#000000"/>
<rect x="1377" y="160" width="3" height="19" fill="#0000FF"/>
<rect x="1386" y="112" width="1" height="53" fill="#000000"/>
<rect x="1384" y="130" width="5" height="34" fill="#000000"/>
<rect x="1385" y="131" width="3" height="32" fill="#0000FF"/>
<rect x="1394" y="74" width="1" height="74" fill="#000000"/>
<rect x="1392" y="74" width="5" height="66" fill="#000000"/>
<rect x="1393" y="75" width="3" height="64" fill="#0000FF"/>
<path d="M2 611h1v1h-1zM1041 611h4v1h-4zM3 612h1v1h-1zM1037 612h4v1h-4zM4 613h1v1h-1zM1033 613h4v1h-4zM5 614h1v1h-1zM1029 614h4v1h-4zM6 615h2v1h-2zM1025 615h4v1h-4zM8 616h1v1h-1zM1023 616h2v1h-2zM9 617h1v1h-1zM1020 617h3v1h-3zM10 618h1v1h-1zM1017 618h3v1h-3zM11 619h1v1h-1zM1015 619h2v1h-2zM11 620h1v1h-1zM1012 620h3v1h-3zM12 621h1v1h-1zM1010 621h2v1h-2zM12 622h1v1h-1zM1008 622h2v1h-2zM13 623h1v1h-1zM962 623h4v1h-4zM1007 623h1v1h-1zM13 624h1v1h-1zM960 624h2v1h-2zM966 624h16v1h-16zM1005 624h2v1h-2zM14 625h1v1h-1zM958 625h2v1h-2zM982 625h6v1h-6zM1003 625h2v1h-2zM14 626h1v1h-1zM956 626h2v1h-2zM988 626h2v1h-2zM1001 626h2v1h-2zM15 627h1v1h-1zM954 627h2v1h-2zM990 627h3v1h-3zM997 627h4v1h-4zM15 628h1v1h-1zM952 628h2v1h-2zM993 628h4v1h-4zM16 629h1v1h-1zM950 629h2v1h-2zM16 630h1v1h-1zM948 630h2v1h-2zM17 631h1v1h-1zM945 631h3v1h-3zM17 632h1v1h-1zM943 632h2v1h-2zM18 633h1v1h-1zM940 633h3v1h-3zM19 634h1v1h-1zM937 634h3v1h-3zM19 635h1v1h-1zM933 635h4v1h-4zM20 636h1v1h-1zM929 636h4v1h-4zM20 637h1v1h-1zM925 637h4v1h-4zM21 638h1v1h-1zM311 638h13v1h-13zM919 638h6v1h-6zM21 639h1v1h-1zM305 639h6v1h-6zM324 639h2v1h-2zM913 639h6v1h-6zM22 640h1v1h-1zM279 640h15v1h-15zM301 640h4v1h-4zM326 640h3v1h-3zM909 640h4v1h-4zM22 641h1v1h-1zM274 641h5v1h-5zM294 641h7v1h-7zM329 641h2v1h-2zM905 641h4v1h-4zM23 642h1v1h-1zM272 642h2v1h-2zM331 642h1v1h-1zM901 642h4v1h-4zM23 643h1v1h-1zM270 643h2v1h-2zM332 643h2v1h-2zM898 643h3v1h-3zM24 644h1v1h-1zM268 644h2v1h-2zM334 644h1v1h-1zM897 644h1v1h-1zM24 645h1v1h-1zM193 645h5v1h-5zM263 645h5v1h-5zM335 645h1v1h-1zM896 645h1v1h-1zM25 646h1v1h-1zM189 646h4v1h-4zM198 646h6v1h-6zM231 646h32v1h-32zM336 646h2v1h-2zM895 646h1v1h-1zM25 647h1v1h-1zM185 647h4v1h-4zM204 647h2v1h-2zM225 647h6v1h-6zM338 647h1v1h-1zM894 647h1v1h-1zM26 648h1v1h-1zM181 648h4v1h-4zM206 648h3v1h-3zM223 648h2v1h-2zM339 648h1v1h-1zM893 648h1v1h-1zM27 649h1v1h-1zM177 649h4v1h-4zM209 649h5v1h-5zM220 649h3v1h-3zM340 649h1v1h-1zM892 649h1v1h-1zM28 650h2v1h-2zM173 650h4v1h-4zM214 650h6v1h-6zM341 650h1v1h-1zM891 650h1v1h-1zM30 651h1v1h-1zM111 651h62v1h-62zM342 651h1v1h-1zM890 651h1v1h-1zM31 652h1v1h-1zM71 652h40v1h-40zM342 652h1v1h-1zM889 652h1v1h-1zM32 653h2v1h-2zM49 653h22v1h-22zM343 653h1v1h-1zM889 653h1v1h-1zM34 654h2v1h-2zM47 654h2v1h-2zM344 654h1v1h-1zM888 654h1v1h-1zM36 655h4v1h-4zM44 655h3v1h-3zM345 655h1v1h-1zM888 655h1v1h-1zM40 656h4v1h-4zM346 656h1v1h-1zM887 656h1v1h-1zM347 657h1v1h-1zM887 657h1v1h-1zM348 658h1v1h-1zM886 658h1v1h-1zM349 659h1v1h-1zM885 659h1v1h-1zM350 660h1v1h-1zM885 660h1v1h-1zM350 661h1v1h-1zM884 661h1v1h-1zM351 662h1v1h-1zM884 662h1v1h-1zM352 663h1v1h-1zM883 663h1v1h-1zM353 664h1v1h-1zM883 664h1v1h-1zM354 665h2v1h-2zM882 665h1v1h-1zM356 666h2v1h-2zM881 666h1v1h-1zM358 667h3v1h-3zM880 667h1v1h-1zM361 668h3v1h-3zM880 668h1v1h-1zM364 669h2v1h-2zM879 669h1v1h-1zM366 670h3v1h-3zM878 670h1v1h-1zM369 671h3v1h-3zM877 671h1v1h-1zM372 672h4v1h-4zM876 672h1v1h-1zM376 673h20v1h-20zM876 673h1v1h-1zM396 674h4v1h-4zM875 674h1v1h-1zM400 675h6v1h-6zM874 675h1v1h-1zM406 676h6v1h-6zM873 676h1v1h-1zM412 677h2v1h-2zM872 677h1v1h-1zM414 678h3v1h-3zM871 678h1v1h-1zM417 679h3v1h-3zM449 679h13v1h-13zM869 679h2v1h-2zM420 680h2v1h-2zM445 680h4v1h-4zM462 680h6v1h-6zM868 680h1v1h-1zM422 681h3v1h-3zM439 681h6v1h-6zM468 681h4v1h-4zM867 681h1v1h-1zM425 682h14v1h-14zM472 682h3v1h-3zM866 682h1v1h-1zM475 683h2v1h-2zM864 683h2v1h-2zM477 684h2v1h-2zM862 684h2v1h-2zM479 685h2v1h-2zM860 685h2v1h-2zM481 686h2v1h-2zM858 686h2v1h-2zM483 687h2v1h-2zM856 687h2v1h-2zM485 688h2v1h-2zM854 688h2v1h-2zM487 689h2v1h-2zM852 689h2v1h-2zM489 690h11v1h-11zM849 690h3v1h-3zM500 691h4v1h-4zM847 691h2v1h-2zM504 692h4v1h-4zM844 692h3v1h-3zM508 693h4v1h-4zM841 693h3v1h-3zM512 694h4v1h-4zM839 694h2v1h-2zM516 695h4v1h-4zM836 695h3v1h-3zM520 696h14v1h-14zM831 696h5v1h-5zM534 697h8v1h-8zM823 697h8v1h-8zM542 698h6v1h-6zM815 698h8v1h-8zM548 699h4v1h-4zM809 699h6v1h-6zM552 700h4v1h-4zM805 700h4v1h-4zM556 701h4v1h-4zM802 701h3v1h-3zM560 702h4v1h-4zM801 702h1v1h-1zM564 703h4v1h-4zM800 703h1v1h-1zM568 704h28v1h-28zM671 704h7v1h-7zM800 704h1v1h-1zM596 705h4v1h-4zM649 705h22v1h-22zM678 705h8v1h-8zM799 705h1v1h-1zM600 706h4v1h-4zM645 706h4v1h-4zM686 706h8v1h-8zM798 706h1v1h-1zM604 707h4v1h-4zM639 707h6v1h-6zM694 707h8v1h-8zM797 707h1v1h-1zM608 708h31v1h-31zM702 708h6v1h-6zM796 708h1v1h-1zM708 709h4v1h-4zM796 709h1v1h-1zM712 710h4v1h-4zM795 710h1v1h-1zM716 711h2v1h-2zM794 711h1v1h-1zM718 712h3v1h-3zM793 712h1v1h-1zM721 713h5v1h-5zM792 713h1v1h-1zM726 714h6v1h-6zM791 714h1v1h-1zM732 715h4v1h-4zM790 715h1v1h-1zM736 716h3v1h-3zM790 716h1v1h-1zM739 717h2v1h-2zM789 717h1v1h-1zM741 718h2v1h-2zM788 718h1v1h-1zM743 719h2v1h-2zM787 719h1v1h-1zM745 720h2v1h-2zM786 720h1v1h-1zM747 721h2v1h-2zM784 721h2v1h-2zM749 722h1v1h-1zM783 722h1v1h-1zM750 723h2v1h-2zM781 723h2v1h-2zM752 724h2v1h-2zM779 724h2v1h-2zM754 725h2v1h-2zM777 725h2v1h-2zM756 726h4v1h-4zM773 726h4v1h-4zM760 727h13v1h-13zM1045 610h4v1h-4zM1049 609h2v1h-2zM1051 608h1v1h-1zM1052 607h1v1h-1zM1053 606h1v1h-1zM1054 605h1v1h-1zM1054 604h1v1h-1zM1055 603h1v1h-1zM1056 602h1v1h-1zM1057 601h1v1h-1zM1058 600h1v1h-1zM1058 599h1v1h-1zM1059 598h1v1h-1zM1059 597h1v1h-1zM1059 596h1v1h-1zM1060 595h1v1h-1zM1060 594h1v1h-1zM1060 593h1v1h-1zM1061 592h1v1h-1zM1061 591h1v1h-1zM1061 590h1v1h-1zM1062 589h1v1h-1zM1062 588h1v1h-1zM1062 587h1v1h-1zM1063 586h1v1h-1zM1063 585h1v1h-1zM1063 584h1v1h-1zM1064 583h1v1h-1zM1064 582h1v1h-1zM1064 581h1v1h-1zM1065 580h1v1h-1zM1065 579h1v1h-1zM1065 578h1v1h-1zM1066 577h1v1h-1zM1066 576h1v1h-1zM1066 575h1v1h-1zM1067 574h1v1h-1zM1067 573h1v1h-1zM1067 572h1v1h-1zM1067 571h1v1h-1zM1068 570h1v1h-1zM1068 569h1v1h-1zM1068 568h1v1h-1zM1068 567h1v1h-1zM1069 566h1v1h-1zM1069 565h1v1h-1zM1069 564h1v1h-1zM1069 563h1v1h-1zM1070 562h1v1h-1zM1070 561h1v1h-1zM1070 560h1v1h-1zM1071 559h1v1h-1zM1071 558h1v1h-1zM1071 557h1v1h-1zM1071 556h1v1h-1zM1072 555h1v1h-1zM1072 554h1v1h-1zM1072 553h1v1h-1zM1072 552h1v1h-1zM1073 551h1v1h-1zM1073 550h1v1h-1zM1073 549h1v1h-1zM1073 548h1v1h-1zM1074 547h1v1h-1zM1074 546h1v1h-1zM1074 545h1v1h-1zM1075 544h1v1h-1zM1075 543h1v1h-1zM1075 542h1v1h-1zM1075 541h1v1h-1zM1076 540h1v1h-1zM1076 539h1v1h-1zM1076 538h1v1h-1zM1076 537h1v1h-1zM1077 536h1v1h-1zM1077 535h1v1h-1zM1077 534h1v1h-1zM1077 533h1v1h-1zM1078 532h1v1h-1zM1078 531h1v1h-1zM1078 530h1v1h-1zM1078 529h1v1h-1zM1079 528h1v1h-1zM1079 527h1v1h-1zM1079 526h1v1h-1zM1079 525h1v1h-1zM1080 524h1v1h-1zM1080 523h1v1h-1zM1080 522h1v1h-1zM1080 521h1v1h-1zM1081 520h1v1h-1zM1081 519h1v1h-1zM1081 518h1v1h-1zM1081 517h1v1h-1zM1082 516h1v1h-1zM1082 515h1v1h-1zM1082 514h1v1h-1zM1082 513h1v1h-1zM1082 512h1v1h-1zM1083 511h1v1h-1zM1083 510h1v1h-1zM1083 509h1v1h-1zM1083 508h1v1h-1zM1084 507h1v1h-1zM1084 506h1v1h-1zM1084 505h1v1h-1zM1084 504h1v1h-1zM1085 503h1v1h-1zM1085 502h1v1h-1zM1085 501h1v1h-1zM1085 500h1v1h-1zM1085 499h1v1h-1zM1086 498h1v1h-1zM1086 497h1v1h-1zM1086 496h1v1h-1zM1086 495h1v1h-1zM1087 494h1v1h-1zM1087 493h1v1h-1zM1087 492h1v1h-1zM1087 491h1v1h-1zM1087 490h1v1h-1zM1088 489h1v1h-1zM1088 488h1v1h-1zM1088 487h1v1h-1zM1088 486h1v1h-1zM1089 485h1v1h-1zM1089 484h1v1h-1zM1089 483h1v1h-1zM1089 482h1v1h-1zM1090 481h1v1h-1zM1090 480h1v1h-1zM1090 479h1v1h-1zM1090 478h1v1h-1zM1090 477h1v1h-1zM1091 476h1v1h-1zM1091 475h1v1h-1zM1091 474h1v1h-1zM1091 473h1v1h-1zM1091 472h1v1h-1zM1091 471h1v1h-1zM1092 470h1v1h-1zM1092 469h1v1h-1zM1092 468h1v1h-1zM1092 467h1v1h-1zM1092 466h1v1h-1zM1092 465h1v1h-1zM1093 464h1v1h-1zM1093 463h1v1h-1zM1093 462h1v1h-1zM1093 461h1v1h-1zM1093 460h1v1h-1zM1093 459h1v1h-1zM1094 458h1v1h-1zM1094 457h1v1h-1zM1094 456h1v1h-1zM1094 455h1v1h-1zM1094 454h1v1h-1zM1095 453h1v1h-1zM1095 452h1v1h-1zM1095 451h1v1h-1zM1095 450h1v1h-1zM1095 449h1v1h-1zM1095 448h1v1h-1zM1096 447h1v1h-1zM1096 446h1v1h-1zM1096 445h1v1h-1zM1096 444h1v1h-1zM1096 443h1v1h-1zM1096 442h1v1h-1zM1097 441h1v1h-1zM1097 440h1v1h-1zM1097 439h1v1h-1zM1097 438h1v1h-1zM1097 437h1v1h-1zM1097 436h1v1h-1zM1098 435h1v1h-1zM1098 434h1v1h-1zM1098 433h1v1h-1zM1098 432h1v1h-1zM1098 431h1v1h-1zM1099 430h1v1h-1zM1099 429h1v1h-1zM1099 428h1v1h-1zM1099 427h1v1h-1zM1100 426h1v1h-1zM1100 425h1v1h-1zM1100 424h1v1h-1zM1100 423h1v1h-1zM1101 422h1v1h-1zM1101 421h1v1h-1zM1101 420h1v1h-1zM1101 419h1v1h-1zM1102 418h1v1h-1zM1102 417h1v1h-1zM1102 416h1v1h-1zM1102 415h1v1h-1zM1103 414h1v1h-1zM1103 413h1v1h-1zM1103 412h1v1h-1zM1103 411h1v1h-1zM1104 410h1v1h-1zM1104 409h1v1h-1zM1104 408h1v1h-1zM1104 407h1v1h-1zM1105 406h1v1h-1zM1105 405h1v1h-1zM1105 404h1v1h-1zM1105 403h1v1h-1zM1106 402h1v1h-1zM1106 401h1v1h-1zM1106 400h1v1h-1zM1106 399h1v1h-1zM1106 398h1v1h-1zM1107 397h1v1h-1zM1107 396h1v1h-1zM1107 395h1v1h-1zM1107 394h1v1h-1zM1107 393h1v1h-1zM1108 392h1v1h-1zM1108 391h1v1h-1zM1108 390h1v1h-1zM1108 389h1v1h-1zM1109 388h1v1h-1zM1109 387h1v1h-1zM1109 386h1v1h-1zM1109 385h1v1h-1zM1109 384h1v1h-1zM1110 383h1v1h-1zM1110 382h1v1h-1zM1110 381h1v1h-1zM1110 380h1v1h-1zM1110 379h1v1h-1zM1111 378h1v1h-1zM1111 377h1v1h-1zM1111 376h1v1h-1zM1111 375h1v1h-1zM1111 374h1v1h-1zM1112 373h1v1h-1zM1112 372h1v1h-1zM1112 371h1v1h-1zM1112 370h1v1h-1zM1113 369h1v1h-1zM1113 368h1v1h-1zM1113 367h1v1h-1zM1113 366h1v1h-1zM1113 365h1v1h-1zM1114 364h1v1h-1zM1114 363h1v1h-1zM1114 362h1v1h-1zM1114 361h1v1h-1zM1114 360h1v1h-1zM1115 359h1v1h-1zM1115 358h1v1h-1zM1115 357h1v1h-1zM1115 356h1v1h-1zM1116 355h1v1h-1zM1116 354h1v1h-1zM1116 353h1v1h-1zM1116 352h1v1h-1zM1117 351h1v1h-1zM1117 350h1v1h-1zM1117 349h1v1h-1zM1117 348h1v1h-1zM1118 347h1v1h-1zM1118 346h1v1h-1zM1118 345h1v1h-1zM1118 344h1v1h-1zM1119 343h1v1h-1zM1119 342h1v1h-1zM1119 341h1v1h-1zM1119 340h1v1h-1zM1120 339h1v1h-1zM1120 338h1v1h-1zM1120 337h1v1h-1zM1120 336h1v1h-1zM1121 335h1v1h-1zM1121 334h1v1h-1zM1121 333h1v1h-1zM1121 332h1v1h-1zM1122 331h1v1h-1zM1122 330h1v1h-1zM1122 329h1v1h-1zM1122 328h1v1h-1zM1122 327h1v1h-1zM1122 326h1v1h-1zM1123 325h1v1h-1zM1123 324h1v1h-1zM1123 323h1v1h-1zM1123 322h1v1h-1zM1123 321h1v1h-1zM1123 320h1v1h-1zM1124 319h1v1h-1zM1124 318h1v1h-1zM1124 317h1v1h-1zM1124 316h1v1h-1zM1124 315h1v1h-1zM1124 314h1v1h-1zM1125 313h1v1h-1zM1125 312h1v1h-1zM1125 311h1v1h-1zM1125 310h1v1h-1zM1125 309h1v1h-1zM1125 308h1v1h-1zM1126 307h1v1h-1zM1126 306h1v1h-1zM1126 305h1v1h-1zM1126 304h1v1h-1zM1126 303h1v1h-1zM1126 302h1v1h-1zM1126 301h1v1h-1zM1127 300h1v1h-1zM1127 299h1v1h-1zM1127 298h1v1h-1zM1127 297h1v1h-1zM1127 296h1v1h-1zM1127 295h1v1h-1zM1128 294h1v1h-1zM1128 293h1v1h-1zM1128 292h1v1h-1zM1128 291h1v1h-1zM1128 290h1v1h-1zM1128 289h1v1h-1zM1129 288h1v1h-1zM1129 287h1v1h-1zM1129 286h1v1h-1zM1129 285h1v1h-1zM1129 284h1v1h-1zM1129 283h1v1h-1zM1130 282h1v1h-1zM1130 281h1v1h-1zM1130 280h1v1h-1zM1130 279h1v1h-1zM1130 278h1v1h-1zM1130 277h1v1h-1zM1130 276h1v1h-1zM1131 275h1v1h-1zM1131 274h1v1h-1zM1131 273h1v1h-1zM1131 272h1v1h-1zM1131 271h1v1h-1zM1131 270h1v1h-1zM1132 269h1v1h-1zM1132 268h1v1h-1zM1132 267h1v1h-1zM1132 266h1v1h-1zM1132 265h1v1h-1zM1132 264h1v1h-1zM1133 263h1v1h-1zM1133 262h1v1h-1zM1133 261h1v1h-1zM1133 260h1v1h-1zM1133 259h1v1h-1zM1133 258h1v1h-1zM1134 257h1v1h-1zM1134 256h1v1h-1zM1134 255h1v1h-1zM1134 254h1v1h-1zM1134 253h1v1h-1zM1134 252h1v1h-1zM1134 251h1v1h-1zM1135 250h1v1h-1zM1135 249h1v1h-1zM1135 248h1v1h-1zM1135 247h1v1h-1zM1135 246h1v1h-1zM1135 245h1v1h-1zM1136 244h1v1h-1zM1136 243h1v1h-1zM1136 242h1v1h-1zM1136 241h1v1h-1zM1136 240h1v1h-1zM1136 239h1v1h-1zM1137 238h1v1h-1zM1137 237h1v1h-1zM1137 236h1v1h-1zM1137 235h1v1h-1zM1137 234h1v1h-1zM1137 233h1v1h-1zM1138 232h1v1h-1zM1138 231h1v1h-1zM1138 230h1v1h-1zM1138 229h1v1h-1zM1138 228h1v1h-1zM1138 227h1v1h-1zM1139 226h1v1h-1zM1139 225h1v1h-1zM1139 224h1v1h-1zM1139 223h1v1h-1zM1140 222h1v1h-1zM1140 221h1v1h-1zM1140 220h1v1h-1zM1140 219h1v1h-1zM1141 218h1v1h-1zM1141 217h1v1h-1zM1141 216h1v1h-1zM1141 215h1v1h-1zM1142 214h1v1h-1zM1142 213h1v1h-1zM1142 212h1v1h-1zM1142 211h1v1h-1zM1142 210h1v1h-1zM1143 209h1v1h-1zM1143 208h1v1h-1zM1143 207h1v1h-1zM1143 206h1v1h-1zM1144 205h1v1h-1zM1144 204h1v1h-1zM1144 203h1v1h-1zM1144 202h1v1h-1zM1145 201h1v1h-1zM1145 200h1v1h-1zM1145 199h1v1h-1zM1145 198h1v1h-1zM1146 197h1v1h-1zM1146 196h1v1h-1zM1146 195h1v1h-1zM1146 194h1v1h-1zM1146 193h1v1h-1zM1147 192h1v1h-1zM1147 191h1v1h-1zM1147 190h1v1h-1zM1147 189h1v1h-1zM1147 188h1v1h-1zM1148 187h1v1h-1zM1148 186h1v1h-1zM1148 185h1v1h-1zM1148 184h1v1h-1zM1149 183h1v1h-1zM1149 182h1v1h-1zM1149 181h1v1h-1zM1149 180h1v1h-1zM1149 179h1v1h-1zM1150 178h1v1h-1zM1150 177h1v1h-1zM1150 176h1v1h-1zM1150 175h1v1h-1zM1150 174h1v1h-1zM1151 173h1v1h-1zM1151 172h1v1h-1zM1151 171h1v1h-1zM1151 170h1v1h-1zM1151 169h1v1h-1zM1152 168h1v1h-1zM1152 167h1v1h-1zM1152 166h1v1h-1zM1152 165h1v1h-1zM1153 164h1v1h-1zM1153 163h1v1h-1zM1153 162h1v1h-1zM1153 161h1v1h-1zM1153 160h1v1h-1zM1154 159h1v1h-1zM1154 158h1v1h-1zM1154 157h1v1h-1zM1154 156h1v1h-1zM1154 155h1v1h-1zM1155 154h1v1h-1zM1155 153h1v1h-1zM1155 152h1v1h-1zM1155 151h1v1h-1zM1155 150h1v1h-1zM1155 149h1v1h-1zM1156 148h1v1h-1zM1156 147h1v1h-1zM1156 146h1v1h-1zM1156 145h1v1h-1zM1156 144h1v1h-1zM1156 143h1v1h-1zM1157 142h1v1h-1zM1157 141h1v1h-1zM1157 140h1v1h-1zM1157 139h1v1h-1zM1157 138h1v1h-1zM1158 137h1v1h-1zM1158 136h1v1h-1zM1158 135h1v1h-1zM1158 134h1v1h-1zM1158 133h1v1h-1zM1158 132h1v1h-1zM1159 131h1v1h-1zM1159 130h1v1h-1zM1159 129h1v1h-1zM1159 128h1v1h-1zM1159 127h1v1h-1zM1160 126h1v1h-1zM1160 125h1v1h-1zM1160 124h1v1h-1zM1160 123h1v1h-1zM1160 122h1v1h-1zM1160 121h1v1h-1zM1161 120h1v1h-1zM1161 119h1v1h-1zM1161 118h1v1h-1zM1161 117h1v1h-1zM1161 116h1v1h-1zM1161 115h1v1h-1zM1162 114h1v1h-1zM1162 113h1v1h-1zM1162 112h1v1h-1zM1162 111h1v1h-1zM1162 110h1v1h-1zM1163 109h1v1h-1zM1163 108h1v1h-1zM1163 107h1v1h-1zM1163 106h1v1h-1zM1164 105h1v1h-1zM1164 104h1v1h-1zM1164 103h1v1h-1zM1164 102h1v1h-1zM1164 101h1v1h-1zM1165 100h1v1h-1zM1165 99h1v1h-1zM1165 98h1v1h-1zM1165 97h1v1h-1zM1166 96h1v1h-1zM1166 95h1v1h-1zM1166 94h1v1h-1zM1166 93h1v1h-1zM1166 92h1v1h-1zM1167 91h1v1h-1zM1167 90h1v1h-1zM1167 89h1v1h-1zM1167 88h1v1h-1zM1168 87h1v1h-1zM1168 86h1v1h-1zM1168 85h1v1h-1zM1168 84h1v1h-1zM1168 83h1v1h-1zM1169 82h1v1h-1zM1169 81h1v1h-1zM1169 80h1v1h-1zM1385 80h2v1h-2zM1169 79h1v1h-1zM1383 79h2v1h-2zM1387 79h1v1h-1zM1170 78h1v1h-1zM1381 78h2v1h-2zM1387 78h1v1h-1zM1170 77h1v1h-1zM1338 77h11v1h-11zM1379 77h2v1h-2zM1388 77h1v1h-1zM1170 76h1v1h-1zM1337 76h1v1h-1zM1349 76h4v1h-4zM1378 76h1v1h-1zM1388 76h1v1h-1zM1170 75h1v1h-1zM1337 75h1v1h-1zM1353 75h3v1h-3zM1376 75h2v1h-2zM1389 75h1v1h-1zM1170 74h1v1h-1zM1336 74h1v1h-1zM1356 74h3v1h-3zM1374 74h2v1h-2zM1389 74h1v1h-1zM1171 73h1v1h-1zM1336 73h1v1h-1zM1359 73h2v1h-2zM1373 73h1v1h-1zM1390 73h1v1h-1zM1171 72h1v1h-1zM1335 72h1v1h-1zM1361 72h6v1h-6zM1371 72h2v1h-2zM1390 72h1v1h-1zM1171 71h1v1h-1zM1335 71h1v1h-1zM1367 71h4v1h-4zM1391 71h1v1h-1zM1171 70h1v1h-1zM1334 70h1v1h-1zM1391 70h1v1h-1zM1172 69h1v1h-1zM1282 69h1v1h-1zM1333 69h1v1h-1zM1392 69h1v1h-1zM1172 68h1v1h-1zM1281 68h1v1h-1zM1283 68h2v1h-2zM1333 68h1v1h-1zM1392 68h1v1h-1zM1172 67h1v1h-1zM1281 67h1v1h-1zM1285 67h2v1h-2zM1332 67h1v1h-1zM1393 67h1v1h-1zM1172 66h1v1h-1zM1280 66h1v1h-1zM1287 66h1v1h-1zM1322 66h2v1h-2zM1332 66h1v1h-1zM1393 66h1v1h-1zM1172 65h1v1h-1zM1279 65h1v1h-1zM1288 65h2v1h-2zM1321 65h1v1h-1zM1324 65h3v1h-3zM1331 65h1v1h-1zM1394 65h1v1h-1zM1173 64h1v1h-1zM1278 64h1v1h-1zM1290 64h5v1h-5zM1321 64h1v1h-1zM1327 64h2v1h-2zM1331 64h1v1h-1zM1394 64h1v1h-1zM1173 63h1v1h-1zM1278 63h1v1h-1zM1295 63h5v1h-5zM1320 63h1v1h-1zM1329 63h2v1h-2zM1173 62h1v1h-1zM1277 62h1v1h-1zM1300 62h2v1h-2zM1319 62h1v1h-1zM1173 61h1v1h-1zM1276 61h1v1h-1zM1302 61h2v1h-2zM1318 61h1v1h-1zM1174 60h1v1h-1zM1275 60h1v1h-1zM1304 60h2v1h-2zM1318 60h1v1h-1zM1174 59h1v1h-1zM1275 59h1v1h-1zM1306 59h2v1h-2zM1317 59h1v1h-1zM1174 58h1v1h-1zM1274 58h1v1h-1zM1308 58h2v1h-2zM1316 58h1v1h-1zM1174 57h1v1h-1zM1273 57h1v1h-1zM1310 57h2v1h-2zM1315 57h1v1h-1zM1174 56h1v1h-1zM1273 56h1v1h-1zM1312 56h2v1h-2zM1315 56h1v1h-1zM1175 55h1v1h-1zM1272 55h1v1h-1zM1314 55h1v1h-1zM1175 54h1v1h-1zM1272 54h1v1h-1zM1175 53h1v1h-1zM1271 53h1v1h-1zM1175 52h1v1h-1zM1270 52h1v1h-1zM1176 51h1v1h-1zM1270 51h1v1h-1zM1176 50h1v1h-1zM1269 50h1v1h-1zM1176 49h1v1h-1zM1250 49h1v1h-1zM1268 49h1v1h-1zM1176 48h1v1h-1zM1248 48h2v1h-2zM1251 48h1v1h-1zM1268 48h1v1h-1zM1176 47h1v1h-1zM1246 47h2v1h-2zM1252 47h1v1h-1zM1267 47h1v1h-1zM1177 46h1v1h-1zM1245 46h1v1h-1zM1253 46h1v1h-1zM1267 46h1v1h-1zM1177 45h1v1h-1zM1243 45h2v1h-2zM1254 45h1v1h-1zM1266 45h1v1h-1zM1177 44h1v1h-1zM1242 44h1v1h-1zM1254 44h1v1h-1zM1264 44h2v1h-2zM1177 43h1v1h-1zM1241 43h1v1h-1zM1255 43h1v1h-1zM1262 43h2v1h-2zM1178 42h1v1h-1zM1241 42h1v1h-1zM1256 42h1v1h-1zM1261 42h1v1h-1zM1178 41h1v1h-1zM1240 41h1v1h-1zM1257 41h1v1h-1zM1259 41h2v1h-2zM1178 40h1v1h-1zM1239 40h1v1h-1zM1258 40h1v1h-1zM1179 39h2v1h-2zM1208 39h5v1h-5zM1239 39h1v1h-1zM1181 38h2v1h-2zM1204 38h4v1h-4zM1213 38h4v1h-4zM1238 38h1v1h-1zM1183 37h1v1h-1zM1201 37h3v1h-3zM1217 37h2v1h-2zM1237 37h1v1h-1zM1184 36h2v1h-2zM1198 36h3v1h-3zM1219 36h2v1h-2zM1237 36h1v1h-1zM1186 35h5v1h-5zM1196 35h2v1h-2zM1221 35h1v1h-1zM1236 35h1v1h-1zM1191 34h5v1h-5zM1222 34h1v1h-1zM1235 34h1v1h-1zM1223 33h2v1h-2zM1235 33h1v1h-1zM1225 32h1v1h-1zM1230 32h5v1h-5zM1226 31h4v1h-4z" fill="#22C322"/>
<path d="M2 664h1v1h-1zM1004 664h2v1h-2zM3 665h2v1h-2zM1002 665h2v1h-2zM5 666h2v1h-2zM1000 666h2v1h-2zM7 667h2v1h-2zM998 667h2v1h-2zM9 668h2v1h-2zM996 668h2v1h-2zM11 669h2v1h-2zM991 669h5v1h-5zM13 670h2v1h-2zM985 670h6v1h-6zM15 671h2v1h-2zM185 671h19v1h-19zM983 671h2v1h-2zM17 672h3v1h-3zM127 672h23v1h-23zM181 672h4v1h-4zM204 672h4v1h-4zM980 672h3v1h-3zM20 673h2v1h-2zM121 673h6v1h-6zM150 673h8v1h-8zM175 673h6v1h-6zM208 673h4v1h-4zM977 673h3v1h-3zM22 674h3v1h-3zM117 674h4v1h-4zM158 674h17v1h-17zM212 674h4v1h-4zM975 674h2v1h-2zM25 675h5v1h-5zM63 675h7v1h-7zM103 675h14v1h-14zM216 675h4v1h-4zM972 675h3v1h-3zM30 676h33v1h-33zM70 676h33v1h-33zM220 676h4v1h-4zM969 676h3v1h-3zM224 677h6v1h-6zM967 677h2v1h-2zM230 678h8v1h-8zM247 678h7v1h-7zM964 678h3v1h-3zM238 679h9v1h-9zM254 679h8v1h-8zM961 679h3v1h-3zM262 680h6v1h-6zM957 680h4v1h-4zM268 681h4v1h-4zM953 681h4v1h-4zM272 682h4v1h-4zM951 682h2v1h-2zM276 683h2v1h-2zM948 683h3v1h-3zM278 684h3v1h-3zM945 684h3v1h-3zM281 685h2v1h-2zM941 685h4v1h-4zM283 686h2v1h-2zM938 686h3v1h-3zM285 687h2v1h-2zM936 687h2v1h-2zM287 688h2v1h-2zM934 688h2v1h-2zM289 689h2v1h-2zM932 689h2v1h-2zM291 690h2v1h-2zM930 690h2v1h-2zM293 691h2v1h-2zM928 691h2v1h-2zM295 692h2v1h-2zM926 692h2v1h-2zM297 693h3v1h-3zM924 693h2v1h-2zM300 694h2v1h-2zM922 694h2v1h-2zM302 695h3v1h-3zM920 695h2v1h-2zM305 696h3v1h-3zM919 696h1v1h-1zM308 697h2v1h-2zM917 697h2v1h-2zM310 698h3v1h-3zM915 698h2v1h-2zM313 699h2v1h-2zM914 699h1v1h-1zM315 700h2v1h-2zM912 700h2v1h-2zM317 701h2v1h-2zM910 701h2v1h-2zM319 702h2v1h-2zM908 702h2v1h-2zM321 703h2v1h-2zM906 703h2v1h-2zM323 704h2v1h-2zM904 704h2v1h-2zM325 705h2v1h-2zM902 705h2v1h-2zM327 706h2v1h-2zM900 706h2v1h-2zM329 707h2v1h-2zM898 707h2v1h-2zM331 708h2v1h-2zM896 708h2v1h-2zM333 709h2v1h-2zM894 709h2v1h-2zM335 710h2v1h-2zM892 710h2v1h-2zM337 711h3v1h-3zM489 711h11v1h-11zM890 711h2v1h-2zM340 712h4v1h-4zM485 712h4v1h-4zM500 712h4v1h-4zM889 712h1v1h-1zM344 713h6v1h-6zM481 713h4v1h-4zM504 713h4v1h-4zM888 713h1v1h-1zM350 714h6v1h-6zM477 714h4v1h-4zM508 714h4v1h-4zM887 714h1v1h-1zM356 715h4v1h-4zM473 715h4v1h-4zM512 715h6v1h-6zM885 715h2v1h-2zM360 716h6v1h-6zM469 716h4v1h-4zM518 716h8v1h-8zM884 716h1v1h-1zM366 717h8v1h-8zM455 717h14v1h-14zM526 717h8v1h-8zM883 717h1v1h-1zM374 718h32v1h-32zM447 718h8v1h-8zM534 718h8v1h-8zM882 718h1v1h-1zM406 719h8v1h-8zM439 719h8v1h-8zM542 719h8v1h-8zM880 719h2v1h-2zM414 720h25v1h-25zM550 720h6v1h-6zM878 720h2v1h-2zM556 721h4v1h-4zM876 721h2v1h-2zM560 722h22v1h-22zM874 722h2v1h-2zM582 723h16v1h-16zM872 723h2v1h-2zM598 724h6v1h-6zM870 724h2v1h-2zM604 725h4v1h-4zM868 725h2v1h-2zM608 726h6v1h-6zM865 726h3v1h-3zM614 727h14v1h-14zM863 727h2v1h-2zM628 728h4v1h-4zM860 728h3v1h-3zM632 729h4v1h-4zM857 729h3v1h-3zM636 730h4v1h-4zM853 730h4v1h-4zM640 731h4v1h-4zM849 731h4v1h-4zM644 732h2v1h-2zM845 732h4v1h-4zM646 733h3v1h-3zM839 733h6v1h-6zM649 734h3v1h-3zM833 734h6v1h-6zM652 735h2v1h-2zM831 735h2v1h-2zM654 736h3v1h-3zM828 736h3v1h-3zM657 737h3v1h-3zM825 737h3v1h-3zM660 738h4v1h-4zM821 738h4v1h-4zM664 739h6v1h-6zM817 739h4v1h-4zM670 740h8v1h-8zM815 740h2v1h-2zM678 741h16v1h-16zM812 741h3v1h-3zM694 742h14v1h-14zM809 742h3v1h-3zM708 743h4v1h-4zM805 743h4v1h-4zM712 744h6v1h-6zM801 744h4v1h-4zM718 745h8v1h-8zM799 745h2v1h-2zM726 746h8v1h-8zM796 746h3v1h-3zM734 747h8v1h-8zM793 747h3v1h-3zM742 748h6v1h-6zM789 748h4v1h-4zM748 749h4v1h-4zM785 749h4v1h-4zM752 750h4v1h-4zM781 750h4v1h-4zM756 751h4v1h-4zM767 751h14v1h-14zM760 752h7v1h-7zM1006 663h2v1h-2zM1008 662h2v1h-2zM1010 661h2v1h-2zM1012 660h3v1h-3zM1015 659h2v1h-2zM1017 658h3v1h-3zM1020 657h2v1h-2zM1022 656h2v1h-2zM1024 655h2v1h-2zM1026 654h2v1h-2zM1028 653h3v1h-3zM1031 652h2v1h-2zM1033 651h4v1h-4zM1037 650h4v1h-4zM1041 649h6v1h-6zM1047 648h6v1h-6zM1053 647h4v1h-4zM1057 646h2v1h-2zM1059 645h1v1h-1zM1060 644h1v1h-1zM1061 643h2v1h-2zM1063 642h1v1h-1zM1064 641h1v1h-1zM1065 640h1v1h-1zM1066 639h1v1h-1zM1067 638h1v1h-1zM1068 637h1v1h-1zM1069 636h1v1h-1zM1070 635h1v1h-1zM1070 634h1v1h-1zM1071 633h1v1h-1zM1072 632h1v1h-1zM1073 631h1v1h-1zM1074 630h1v1h-1zM1075 629h1v1h-1zM1076 628h1v1h-1zM1077 627h2v1h-2zM1079 626h1v1h-1zM1080 625h1v1h-1zM1081 624h1v1h-1zM1082 623h1v1h-1zM1083 622h1v1h-1zM1083 621h1v1h-1zM1084 620h1v1h-1zM1085 619h1v1h-1zM1086 618h1v1h-1zM1086 617h1v1h-1zM1087 616h1v1h-1zM1088 615h1v1h-1zM1089 614h1v1h-1zM1089 613h1v1h-1zM1090 612h1v1h-1zM1091 611h1v1h-1zM1091 610h1v1h-1zM1092 609h1v1h-1zM1092 608h1v1h-1zM1093 607h1v1h-1zM1093 606h1v1h-1zM1094 605h1v1h-1zM1094 604h1v1h-1zM1095 603h1v1h-1zM1095 602h1v1h-1zM1096 601h1v1h-1zM1096 600h1v1h-1zM1097 599h1v1h-1zM1097 598h1v1h-1zM1098 597h1v1h-1zM1099 596h1v1h-1zM1099 595h1v1h-1zM1100 594h1v1h-1zM1100 593h1v1h-1zM1101 592h1v1h-1zM1101 591h1v1h-1zM1102 590h1v1h-1zM1103 589h1v1h-1zM1103 588h1v1h-1zM1104 587h1v1h-1zM1104 586h1v1h-1zM1105 585h1v1h-1zM1105 584h1v1h-1zM1106 583h1v1h-1zM1107 582h1v1h-1zM1107 581h1v1h-1zM1108 580h1v1h-1zM1108 579h1v1h-1zM1109 578h1v1h-1zM1109 577h1v1h-1zM1110 576h1v1h-1zM1111 575h1v1h-1zM1111 574h1v1h-1zM1112 573h1v1h-1zM1112 572h1v1h-1zM1113 571h1v1h-1zM1113 570h1v1h-1zM1114 569h1v1h-1zM1114 568h1v1h-1zM1115 567h1v1h-1zM1115 566h1v1h-1zM1116 565h1v1h-1zM1116 564h1v1h-1zM1117 563h1v1h-1zM1117 562h1v1h-1zM1118 561h1v1h-1zM1118 560h1v1h-1zM1119 559h1v1h-1zM1119 558h1v1h-1zM1120 557h1v1h-1zM1120 556h1v1h-1zM1121 555h1v1h-1zM1121 554h1v1h-1zM1122 553h1v1h-1zM1122 552h1v1h-1zM1122 551h1v1h-1zM1123 550h1v1h-1zM1123 549h1v1h-1zM1124 548h1v1h-1zM1124 547h1v1h-1zM1124 546h1v1h-1zM1125 545h1v1h-1zM1125 544h1v1h-1zM1125 543h1v1h-1zM1126 542h1v1h-1zM1126 541h1v1h-1zM1127 540h1v1h-1zM1127 539h1v1h-1zM1127 538h1v1h-1zM1128 537h1v1h-1zM1128 536h1v1h-1zM1128 535h1v1h-1zM1129 534h1v1h-1zM1129 533h1v1h-1zM1130 532h1v1h-1zM1130 531h1v1h-1zM1130 530h1v1h-1zM1131 529h1v1h-1zM1131 528h1v1h-1zM1131 527h1v1h-1zM1132 526h1v1h-1zM1132 525h1v1h-1zM1133 524h1v1h-1zM1133 523h1v1h-1zM1133 522h1v1h-1zM1134 521h1v1h-1zM1134 520h1v1h-1zM1134 519h1v1h-1zM1135 518h1v1h-1zM1135 517h1v1h-1zM1135 516h1v1h-1zM1136 515h1v1h-1zM1136 514h1v1h-1zM1137 513h1v1h-1zM1137 512h1v1h-1zM1137 511h1v1h-1zM1138 510h1v1h-1zM1138 509h1v1h-1zM1138 508h1v1h-1zM1139 507h1v1h-1zM1139 506h1v1h-1zM1139 505h1v1h-1zM1140 504h1v1h-1zM1140 503h1v1h-1zM1141 502h1v1h-1zM1141 501h1v1h-1zM1141 500h1v1h-1zM1142 499h1v1h-1zM1142 498h1v1h-1zM1142 497h1v1h-1zM1143 496h1v1h-1zM1143 495h1v1h-1zM1143 494h1v1h-1zM1144 493h1v1h-1zM1144 492h1v1h-1zM1145 491h1v1h-1zM1145 490h1v1h-1zM1145 489h1v1h-1zM1146 488h1v1h-1zM1146 487h1v1h-1zM1146 486h1v1h-1zM1147 485h1v1h-1zM1147 484h1v1h-1zM1147 483h1v1h-1zM1148 482h1v1h-1zM1148 481h1v1h-1zM1148 480h1v1h-1zM1149 479h1v1h-1zM1149 478h1v1h-1zM1149 477h1v1h-1zM1150 476h1v1h-1zM1150 475h1v1h-1zM1150 474h1v1h-1zM1151 473h1v1h-1zM1151 472h1v1h-1zM1151 471h1v1h-1zM1152 470h1v1h-1zM1152 469h1v1h-1zM1152 468h1v1h-1zM1153 467h1v1h-1zM1153 466h1v1h-1zM1153 465h1v1h-1zM1154 464h1v1h-1zM1154 463h1v1h-1zM1154 462h1v1h-1zM1155 461h1v1h-1zM1155 460h1v1h-1zM1155 459h1v1h-1zM1156 458h1v1h-1zM1156 457h1v1h-1zM1156 456h1v1h-1zM1157 455h1v1h-1zM1157 454h1v1h-1zM1157 453h1v1h-1zM1158 452h1v1h-1zM1158 451h1v1h-1zM1159 450h1v1h-1zM1159 449h1v1h-1zM1159 448h1v1h-1zM1160 447h1v1h-1zM1160 446h1v1h-1zM1160 445h1v1h-1zM1161 444h1v1h-1zM1161 443h1v1h-1zM1161 442h1v1h-1zM1162 441h1v1h-1zM1162 440h1v1h-1zM1162 439h1v1h-1zM1163 438h1v1h-1zM1163 437h1v1h-1zM1163 436h1v1h-1zM1164 435h1v1h-1zM1164 434h1v1h-1zM1164 433h1v1h-1zM1165 432h1v1h-1zM1165 431h1v1h-1zM1165 430h1v1h-1zM1166 429h1v1h-1zM1166 428h1v1h-1zM1167 427h1v1h-1zM1167 426h1v1h-1zM1167 425h1v1h-1zM1168 424h1v1h-1zM1168 423h1v1h-1zM1168 422h1v1h-1zM1169 421h1v1h-1zM1169 420h1v1h-1zM1169 419h1v1h-1zM1170 418h1v1h-1zM1170 417h1v1h-1zM1170 416h1v1h-1zM1171 415h1v1h-1zM1171 414h1v1h-1zM1172 413h1v1h-1zM1172 412h1v1h-1zM1172 411h1v1h-1zM1173 410h1v1h-1zM1173 409h1v1h-1zM1173 408h1v1h-1zM1174 407h1v1h-1zM1174 406h1v1h-1zM1175 405h1v1h-1zM1175 404h1v1h-1zM1175 403h1v1h-1zM1176 402h1v1h-1zM1176 401h1v1h-1zM1176 400h1v1h-1zM1177 399h1v1h-1zM1177 398h1v1h-1zM1178 397h1v1h-1zM1178 396h1v1h-1zM1178 395h1v1h-1zM1179 394h1v1h-1zM1179 393h1v1h-1zM1180 392h1v1h-1zM1180 391h1v1h-1zM1180 390h1v1h-1zM1181 389h1v1h-1zM1181 388h1v1h-1zM1182 387h1v1h-1zM1182 386h1v1h-1zM1182 385h1v1h-1zM1183 384h1v1h-1zM1183 383h1v1h-1zM1184 382h1v1h-1zM1184 381h1v1h-1zM1184 380h1v1h-1zM1185 379h1v1h-1zM1185 378h1v1h-1zM1186 377h1v1h-1zM1186 376h1v1h-1zM1186 375h1v1h-1zM1187 374h1v1h-1zM1187 373h1v1h-1zM1188 372h1v1h-1zM1188 371h1v1h-1zM1189 370h1v1h-1zM1189 369h1v1h-1zM1189 368h1v1h-1zM1190 367h1v1h-1zM1190 366h1v1h-1zM1191 365h1v1h-1zM1191 364h1v1h-1zM1191 363h1v1h-1zM1192 362h1v1h-1zM1192 361h1v1h-1zM1193 360h1v1h-1zM1193 359h1v1h-1zM1194 358h1v1h-1zM1194 357h1v1h-1zM1194 356h1v1h-1zM1195 355h1v1h-1zM1195 354h1v1h-1zM1196 353h1v1h-1zM1196 352h1v1h-1zM1196 351h1v1h-1zM1197 350h1v1h-1zM1197 349h1v1h-1zM1198 348h1v1h-1zM1198 347h1v1h-1zM1198 346h1v1h-1zM1199 345h1v1h-1zM1199 344h1v1h-1zM1200 343h1v1h-1zM1200 342h1v1h-1zM1200 341h1v1h-1zM1201 340h1v1h-1zM1201 339h1v1h-1zM1202 338h1v1h-1zM1202 337h1v1h-1zM1202 336h1v1h-1zM1203 335h1v1h-1zM1203 334h1v1h-1zM1203 333h1v1h-1zM1204 332h1v1h-1zM1204 331h1v1h-1zM1205 330h1v1h-1zM1205 329h1v1h-1zM1205 328h1v1h-1zM1206 327h1v1h-1zM1206 326h1v1h-1zM1206 325h1v1h-1zM1207 324h1v1h-1zM1207 323h1v1h-1zM1207 322h1v1h-1zM1208 321h1v1h-1zM1208 320h1v1h-1zM1209 319h1v1h-1zM1209 318h1v1h-1zM1209 317h1v1h-1zM1210 316h1v1h-1zM1210 315h1v1h-1zM1210 314h1v1h-1zM1211 313h1v1h-1zM1211 312h1v1h-1zM1211 311h1v1h-1zM1212 310h1v1h-1zM1212 309h1v1h-1zM1212 308h1v1h-1zM1213 307h1v1h-1zM1213 306h1v1h-1zM1213 305h1v1h-1zM1214 304h1v1h-1zM1214 303h1v1h-1zM1215 302h1v1h-1zM1215 301h1v1h-1zM1215 300h1v1h-1zM1216 299h1v1h-1zM1216 298h1v1h-1zM1216 297h1v1h-1zM1217 296h1v1h-1zM1217 295h1v1h-1zM1217 294h1v1h-1zM1218 293h1v1h-1zM1218 292h1v1h-1zM1218 291h1v1h-1zM1219 290h1v1h-1zM1219 289h1v1h-1zM1219 288h1v1h-1zM1220 287h1v1h-1zM1220 286h1v1h-1zM1220 285h1v1h-1zM1221 284h1v1h-1zM1221 283h1v1h-1zM1221 282h1v1h-1zM1222 281h1v1h-1zM1222 280h1v1h-1zM1222 279h1v1h-1zM1222 278h1v1h-1zM1223 277h1v1h-1zM1223 276h1v1h-1zM1223 275h1v1h-1zM1224 274h1v1h-1zM1224 273h1v1h-1zM1224 272h1v1h-1zM1225 271h1v1h-1zM1225 270h1v1h-1zM1225 269h1v1h-1zM1226 268h1v1h-1zM1226 267h1v1h-1zM1227 266h1v1h-1zM1227 265h1v1h-1zM1228 264h1v1h-1zM1228 263h1v1h-1zM1229 262h1v1h-1zM1229 261h1v1h-1zM1230 260h1v1h-1zM1230 259h1v1h-1zM1231 258h1v1h-1zM1231 257h1v1h-1zM1232 256h1v1h-1zM1232 255h1v1h-1zM1233 254h1v1h-1zM1233 253h1v1h-1zM1234 252h1v1h-1zM1235 251h1v1h-1zM1235 250h1v1h-1zM1236 249h1v1h-1zM1237 248h1v1h-1zM1237 247h1v1h-1zM1238 246h1v1h-1zM1239 245h1v1h-1zM1239 244h1v1h-1zM1240 243h1v1h-1zM1241 242h1v1h-1zM1241 241h1v1h-1zM1242 240h1v1h-1zM1243 239h1v1h-1zM1243 238h1v1h-1zM1244 237h1v1h-1zM1244 236h1v1h-1zM1245 235h1v1h-1zM1245 234h1v1h-1zM1246 233h1v1h-1zM1247 232h1v1h-1zM1338 232h5v1h-5zM1247 231h1v1h-1zM1337 231h1v1h-1zM1343 231h5v1h-5zM1248 230h1v1h-1zM1337 230h1v1h-1zM1348 230h3v1h-3zM1248 229h1v1h-1zM1336 229h1v1h-1zM1351 229h2v1h-2zM1249 228h1v1h-1zM1335 228h1v1h-1zM1353 228h6v1h-6zM1376 228h12v1h-12zM1249 227h1v1h-1zM1335 227h1v1h-1zM1359 227h8v1h-8zM1372 227h4v1h-4zM1388 227h2v1h-2zM1250 226h1v1h-1zM1334 226h1v1h-1zM1367 226h5v1h-5zM1390 226h2v1h-2zM1251 225h1v1h-1zM1333 225h1v1h-1zM1392 225h2v1h-2zM1251 224h1v1h-1zM1333 224h1v1h-1zM1394 224h1v1h-1zM1252 223h1v1h-1zM1332 223h1v1h-1zM1252 222h1v1h-1zM1331 222h1v1h-1zM1253 221h1v1h-1zM1331 221h1v1h-1zM1253 220h1v1h-1zM1330 220h1v1h-1zM1254 219h1v1h-1zM1329 219h1v1h-1zM1254 218h1v1h-1zM1328 218h1v1h-1zM1255 217h1v1h-1zM1327 217h1v1h-1zM1255 216h1v1h-1zM1326 216h1v1h-1zM1256 215h1v1h-1zM1326 215h1v1h-1zM1256 214h1v1h-1zM1325 214h1v1h-1zM1257 213h1v1h-1zM1324 213h1v1h-1zM1257 212h1v1h-1zM1323 212h1v1h-1zM1258 211h1v1h-1zM1322 211h1v1h-1zM1259 210h1v1h-1zM1321 210h1v1h-1zM1259 209h1v1h-1zM1320 209h1v1h-1zM1260 208h1v1h-1zM1319 208h1v1h-1zM1261 207h1v1h-1zM1318 207h1v1h-1zM1261 206h1v1h-1zM1317 206h1v1h-1zM1262 205h1v1h-1zM1316 205h1v1h-1zM1263 204h1v1h-1zM1315 204h1v1h-1zM1263 203h1v1h-1zM1313 203h2v1h-2zM1264 202h1v1h-1zM1310 202h3v1h-3zM1265 201h1v1h-1zM1308 201h2v1h-2zM1265 200h1v1h-1zM1305 200h3v1h-3zM1266 199h1v1h-1zM1302 199h3v1h-3zM1267 198h2v1h-2zM1300 198h2v1h-2zM1269 197h1v1h-1zM1297 197h3v1h-3zM1270 196h1v1h-1zM1295 196h2v1h-2zM1271 195h2v1h-2zM1293 195h2v1h-2zM1273 194h1v1h-1zM1291 194h2v1h-2zM1274 193h2v1h-2zM1289 193h2v1h-2zM1276 192h3v1h-3zM1286 192h3v1h-3zM1279 191h2v1h-2zM1284 191h2v1h-2zM1281 190h3v1h-3z" fill="#22C322"/>
<path d="M2 719h5v1h-5zM270 719h1v1h-1zM984 719h1v1h-1zM1074 719h1v1h-1zM1185 719h1v1h-1zM7 718h4v1h-4zM269 718h1v1h-1zM985 718h1v1h-1zM1073 718h1v1h-1zM1185 718h1v1h-1zM11 717h1v1h-1zM268 717h1v1h-1zM986 717h1v1h-1zM1073 717h1v1h-1zM1185 717h1v1h-1zM12 716h1v1h-1zM267 716h1v1h-1zM987 716h2v1h-2zM1072 716h1v1h-1zM1185 716h1v1h-1zM13 715h1v1h-1zM267 715h1v1h-1zM989 715h1v1h-1zM1072 715h1v1h-1zM1186 715h1v1h-1zM14 714h1v1h-1zM264 714h3v1h-3zM990 714h1v1h-1zM1072 714h1v1h-1zM1186 714h1v1h-1zM15 713h1v1h-1zM260 713h4v1h-4zM991 713h2v1h-2zM1071 713h1v1h-1zM1186 713h1v1h-1zM16 712h1v1h-1zM254 712h6v1h-6zM993 712h1v1h-1zM1071 712h1v1h-1zM1186 712h1v1h-1zM17 711h1v1h-1zM246 711h8v1h-8zM994 711h1v1h-1zM1070 711h1v1h-1zM1186 711h1v1h-1zM18 710h1v1h-1zM238 710h8v1h-8zM995 710h2v1h-2zM1070 710h1v1h-1zM1187 710h1v1h-1zM19 709h1v1h-1zM233 709h5v1h-5zM997 709h1v1h-1zM1070 709h1v1h-1zM1187 709h1v1h-1zM20 708h1v1h-1zM230 708h3v1h-3zM998 708h1v1h-1zM1069 708h1v1h-1zM1187 708h1v1h-1zM21 707h1v1h-1zM228 707h2v1h-2zM999 707h2v1h-2zM1069 707h1v1h-1zM1187 707h1v1h-1zM22 706h1v1h-1zM226 706h2v1h-2zM1001 706h1v1h-1zM1068 706h1v1h-1zM1188 706h1v1h-1zM23 705h1v1h-1zM224 705h2v1h-2zM1002 705h1v1h-1zM1068 705h1v1h-1zM1188 705h1v1h-1zM24 704h1v1h-1zM222 704h2v1h-2zM1003 704h2v1h-2zM1068 704h1v1h-1zM1188 704h1v1h-1zM25 703h1v1h-1zM221 703h1v1h-1zM1005 703h2v1h-2zM1067 703h1v1h-1zM1188 703h1v1h-1zM26 702h1v1h-1zM219 702h2v1h-2zM1007 702h1v1h-1zM1067 702h1v1h-1zM1189 702h1v1h-1zM27 701h2v1h-2zM217 701h2v1h-2zM1008 701h2v1h-2zM1066 701h1v1h-1zM1189 701h1v1h-1zM29 700h2v1h-2zM72 700h15v1h-15zM214 700h3v1h-3zM1010 700h3v1h-3zM1066 700h1v1h-1zM1189 700h1v1h-1zM31 699h1v1h-1zM68 699h4v1h-4zM87 699h6v1h-6zM212 699h2v1h-2zM1013 699h4v1h-4zM1065 699h1v1h-1zM1189 699h1v1h-1zM32 698h2v1h-2zM54 698h14v1h-14zM93 698h4v1h-4zM102 698h9v1h-9zM206 698h6v1h-6zM1017 698h2v1h-2zM1064 698h1v1h-1zM1190 698h1v1h-1zM34 697h5v1h-5zM46 697h8v1h-8zM97 697h5v1h-5zM111 697h8v1h-8zM198 697h8v1h-8zM1019 697h1v1h-1zM1063 697h1v1h-1zM1190 697h1v1h-1zM39 696h7v1h-7zM119 696h8v1h-8zM190 696h8v1h-8zM1020 696h1v1h-1zM1062 696h1v1h-1zM1190 696h1v1h-1zM127 695h63v1h-63zM1021 695h2v1h-2zM1061 695h1v1h-1zM1190 695h1v1h-1zM270 720h1v1h-1zM983 720h1v1h-1zM1074 720h1v1h-1zM1184 720h1v1h-1zM271 721h1v1h-1zM981 721h2v1h-2zM1075 721h1v1h-1zM1184 721h1v1h-1zM272 722h1v1h-1zM980 722h1v1h-1zM1075 722h1v1h-1zM1184 722h1v1h-1zM273 723h1v1h-1zM979 723h1v1h-1zM1076 723h1v1h-1zM1184 723h1v1h-1zM273 724h1v1h-1zM978 724h1v1h-1zM1077 724h1v1h-1zM1183 724h1v1h-1zM274 725h1v1h-1zM977 725h1v1h-1zM1077 725h1v1h-1zM1183 725h1v1h-1zM275 726h1v1h-1zM976 726h1v1h-1zM1078 726h1v1h-1zM1183 726h1v1h-1zM276 727h2v1h-2zM975 727h1v1h-1zM1079 727h1v1h-1zM1183 727h1v1h-1zM278 728h1v1h-1zM973 728h2v1h-2zM1079 728h1v1h-1zM1182 728h1v1h-1zM279 729h1v1h-1zM972 729h1v1h-1zM1080 729h1v1h-1zM1182 729h1v1h-1zM280 730h2v1h-2zM971 730h1v1h-1zM1081 730h1v1h-1zM1182 730h1v1h-1zM282 731h1v1h-1zM970 731h1v1h-1zM1081 731h1v1h-1zM1182 731h1v1h-1zM283 732h1v1h-1zM490 732h12v1h-12zM968 732h2v1h-2zM1082 732h1v1h-1zM1181 732h1v1h-1zM284 733h1v1h-1zM489 733h1v1h-1zM502 733h6v1h-6zM967 733h1v1h-1zM1083 733h1v1h-1zM1181 733h1v1h-1zM285 734h1v1h-1zM488 734h1v1h-1zM508 734h2v1h-2zM965 734h2v1h-2zM1084 734h1v1h-1zM1181 734h1v1h-1zM286 735h1v1h-1zM487 735h1v1h-1zM510 735h3v1h-3zM963 735h2v1h-2zM1085 735h1v1h-1zM1181 735h1v1h-1zM287 736h1v1h-1zM485 736h2v1h-2zM513 736h5v1h-5zM959 736h4v1h-4zM1086 736h2v1h-2zM1180 736h1v1h-1zM288 737h1v1h-1zM484 737h1v1h-1zM518 737h6v1h-6zM945 737h14v1h-14zM1088 737h1v1h-1zM1180 737h1v1h-1zM289 738h1v1h-1zM483 738h1v1h-1zM524 738h4v1h-4zM941 738h4v1h-4zM1089 738h1v1h-1zM1180 738h1v1h-1zM290 739h1v1h-1zM482 739h1v1h-1zM528 739h6v1h-6zM938 739h3v1h-3zM1090 739h1v1h-1zM1180 739h1v1h-1zM291 740h1v1h-1zM481 740h1v1h-1zM534 740h6v1h-6zM936 740h2v1h-2zM1090 740h1v1h-1zM1179 740h1v1h-1zM292 741h2v1h-2zM480 741h1v1h-1zM540 741h4v1h-4zM559 741h15v1h-15zM934 741h2v1h-2zM1091 741h1v1h-1zM1179 741h1v1h-1zM294 742h1v1h-1zM479 742h1v1h-1zM544 742h15v1h-15zM574 742h24v1h-24zM932 742h2v1h-2zM1091 742h1v1h-1zM1179 742h1v1h-1zM295 743h1v1h-1zM478 743h1v1h-1zM598 743h22v1h-22zM930 743h2v1h-2zM1091 743h1v1h-1zM1179 743h1v1h-1zM296 744h2v1h-2zM477 744h1v1h-1zM620 744h4v1h-4zM929 744h1v1h-1zM1092 744h1v1h-1zM1178 744h1v1h-1zM298 745h1v1h-1zM476 745h1v1h-1zM624 745h4v1h-4zM927 745h2v1h-2zM1092 745h1v1h-1zM1178 745h1v1h-1zM299 746h1v1h-1zM475 746h1v1h-1zM628 746h2v1h-2zM926 746h1v1h-1zM1092 746h1v1h-1zM1178 746h1v1h-1zM300 747h1v1h-1zM474 747h1v1h-1zM630 747h3v1h-3zM925 747h1v1h-1zM1093 747h1v1h-1zM1177 747h1v1h-1zM301 748h1v1h-1zM472 748h2v1h-2zM633 748h2v1h-2zM923 748h2v1h-2zM1093 748h1v1h-1zM1177 748h1v1h-1zM302 749h1v1h-1zM471 749h1v1h-1zM635 749h1v1h-1zM922 749h1v1h-1zM1093 749h1v1h-1zM1176 749h1v1h-1zM302 750h1v1h-1zM469 750h2v1h-2zM636 750h2v1h-2zM921 750h1v1h-1zM1094 750h1v1h-1zM1175 750h1v1h-1zM303 751h1v1h-1zM467 751h2v1h-2zM638 751h1v1h-1zM920 751h1v1h-1zM1094 751h1v1h-1zM1175 751h1v1h-1zM304 752h1v1h-1zM466 752h1v1h-1zM639 752h1v1h-1zM920 752h1v1h-1zM1094 752h1v1h-1zM1174 752h1v1h-1zM305 753h1v1h-1zM464 753h2v1h-2zM640 753h2v1h-2zM919 753h1v1h-1zM1094 753h1v1h-1zM1173 753h1v1h-1zM306 754h1v1h-1zM462 754h2v1h-2zM642 754h1v1h-1zM918 754h1v1h-1zM1095 754h1v1h-1zM1173 754h1v1h-1zM307 755h1v1h-1zM460 755h2v1h-2zM643 755h1v1h-1zM917 755h1v1h-1zM1095 755h1v1h-1zM1172 755h1v1h-1zM308 756h1v1h-1zM455 756h5v1h-5zM644 756h1v1h-1zM916 756h1v1h-1zM1095 756h1v1h-1zM1171 756h1v1h-1zM309 757h1v1h-1zM447 757h8v1h-8zM645 757h1v1h-1zM916 757h1v1h-1zM1096 757h1v1h-1zM1171 757h1v1h-1zM310 758h2v1h-2zM439 758h8v1h-8zM646 758h1v1h-1zM915 758h1v1h-1zM1096 758h1v1h-1zM1170 758h1v1h-1zM312 759h1v1h-1zM431 759h8v1h-8zM647 759h1v1h-1zM914 759h1v1h-1zM1096 759h1v1h-1zM1169 759h1v1h-1zM313 760h1v1h-1zM423 760h8v1h-8zM648 760h1v1h-1zM913 760h1v1h-1zM1097 760h1v1h-1zM1169 760h1v1h-1zM314 761h1v1h-1zM415 761h8v1h-8zM649 761h1v1h-1zM912 761h1v1h-1zM1097 761h1v1h-1zM1168 761h1v1h-1zM315 762h1v1h-1zM407 762h8v1h-8zM650 762h1v1h-1zM911 762h1v1h-1zM1097 762h1v1h-1zM1167 762h1v1h-1zM316 763h1v1h-1zM367 763h40v1h-40zM651 763h2v1h-2zM909 763h2v1h-2zM1098 763h1v1h-1zM1167 763h1v1h-1zM317 764h1v1h-1zM359 764h8v1h-8zM653 764h1v1h-1zM908 764h1v1h-1zM1098 764h1v1h-1zM1166 764h1v1h-1zM318 765h1v1h-1zM354 765h5v1h-5zM654 765h2v1h-2zM907 765h1v1h-1zM1099 765h1v1h-1zM1165 765h1v1h-1zM319 766h1v1h-1zM352 766h2v1h-2zM656 766h2v1h-2zM906 766h1v1h-1zM1100 766h1v1h-1zM1165 766h1v1h-1zM320 767h1v1h-1zM350 767h2v1h-2zM658 767h1v1h-1zM904 767h2v1h-2zM1101 767h1v1h-1zM1164 767h1v1h-1zM321 768h1v1h-1zM348 768h2v1h-2zM659 768h1v1h-1zM903 768h1v1h-1zM1102 768h1v1h-1zM1163 768h1v1h-1zM322 769h1v1h-1zM346 769h2v1h-2zM660 769h2v1h-2zM865 769h19v1h-19zM901 769h2v1h-2zM1103 769h1v1h-1zM1163 769h1v1h-1zM323 770h2v1h-2zM344 770h2v1h-2zM662 770h1v1h-1zM863 770h2v1h-2zM884 770h2v1h-2zM899 770h2v1h-2zM1104 770h1v1h-1zM1161 770h2v1h-2zM325 771h1v1h-1zM342 771h2v1h-2zM663 771h1v1h-1zM860 771h3v1h-3zM886 771h3v1h-3zM895 771h4v1h-4zM1105 771h1v1h-1zM1157 771h4v1h-4zM326 772h2v1h-2zM340 772h2v1h-2zM664 772h2v1h-2zM833 772h27v1h-27zM889 772h6v1h-6zM1106 772h2v1h-2zM1154 772h3v1h-3zM328 773h2v1h-2zM335 773h5v1h-5zM666 773h2v1h-2zM829 773h4v1h-4zM1108 773h2v1h-2zM1153 773h1v1h-1zM330 774h5v1h-5zM668 774h4v1h-4zM826 774h3v1h-3zM1110 774h3v1h-3zM1153 774h1v1h-1zM672 775h14v1h-14zM751 775h15v1h-15zM824 775h2v1h-2zM1113 775h3v1h-3zM1152 775h1v1h-1zM686 776h16v1h-16zM745 776h6v1h-6zM766 776h8v1h-8zM823 776h1v1h-1zM1116 776h2v1h-2zM1151 776h1v1h-1zM702 777h8v1h-8zM741 777h4v1h-4zM774 777h6v1h-6zM821 777h2v1h-2zM1118 777h3v1h-3zM1151 777h1v1h-1zM710 778h31v1h-31zM780 778h2v1h-2zM819 778h2v1h-2zM1121 778h2v1h-2zM1150 778h1v1h-1zM782 779h3v1h-3zM817 779h2v1h-2zM1123 779h1v1h-1zM1149 779h1v1h-1zM785 780h2v1h-2zM815 780h2v1h-2zM1124 780h1v1h-1zM1149 780h1v1h-1zM787 781h2v1h-2zM812 781h3v1h-3zM1125 781h1v1h-1zM1148 781h1v1h-1zM789 782h2v1h-2zM810 782h2v1h-2zM1126 782h1v1h-1zM1147 782h1v1h-1zM791 783h2v1h-2zM808 783h2v1h-2zM1126 783h1v1h-1zM1147 783h1v1h-1zM793 784h3v1h-3zM807 784h1v1h-1zM1127 784h1v1h-1zM1146 784h1v1h-1zM796 785h2v1h-2zM805 785h2v1h-2zM1128 785h1v1h-1zM1145 785h1v1h-1zM798 786h3v1h-3zM803 786h2v1h-2zM1129 786h1v1h-1zM1145 786h1v1h-1zM801 787h2v1h-2zM1130 787h1v1h-1zM1144 787h1v1h-1zM1023 694h1v1h-1zM1060 694h1v1h-1zM1191 694h1v1h-1zM1024 693h1v1h-1zM1059 693h1v1h-1zM1191 693h1v1h-1zM1025 692h1v1h-1zM1057 692h2v1h-2zM1191 692h1v1h-1zM1026 691h3v1h-3zM1055 691h2v1h-2zM1191 691h1v1h-1zM1029 690h4v1h-4zM1053 690h2v1h-2zM1192 690h1v1h-1zM1033 689h6v1h-6zM1051 689h2v1h-2zM1192 689h1v1h-1zM1039 688h12v1h-12zM1192 688h1v1h-1zM1131 788h1v1h-1zM1143 788h1v1h-1zM1132 789h1v1h-1zM1142 789h1v1h-1zM1133 790h1v1h-1zM1142 790h1v1h-1zM1134 791h1v1h-1zM1141 791h1v1h-1zM1135 792h1v1h-1zM1140 792h1v1h-1zM1136 793h1v1h-1zM1139 793h1v1h-1zM1137 794h1v1h-1zM1139 794h1v1h-1zM1138 795h1v1h-1zM1192 687h1v1h-1zM1193 686h1v1h-1zM1193 685h1v1h-1zM1193 684h1v1h-1zM1193 683h1v1h-1zM1194 682h1v1h-1zM1194 681h1v1h-1zM1194 680h1v1h-1zM1194 679h1v1h-1zM1194 678h1v1h-1zM1195 677h1v1h-1zM1195 676h1v1h-1zM1195 675h1v1h-1zM1195 674h1v1h-1zM1195 673h1v1h-1zM1196 672h1v1h-1zM1196 671h1v1h-1zM1196 670h1v1h-1zM1196 669h1v1h-1zM1196 668h1v1h-1zM1197 667h1v1h-1zM1197 666h1v1h-1zM1197 665h1v1h-1zM1197 664h1v1h-1zM1197 663h1v1h-1zM1198 662h1v1h-1zM1198 661h1v1h-1zM1198 660h1v1h-1zM1198 659h1v1h-1zM1199 658h1v1h-1zM1199 657h1v1h-1zM1199 656h1v1h-1zM1199 655h1v1h-1zM1199 654h1v1h-1zM1200 653h1v1h-1zM1200 652h1v1h-1zM1200 651h1v1h-1zM1200 650h1v1h-1zM1200 649h1v1h-1zM1201 648h1v1h-1zM1201 647h1v1h-1zM1201 646h1v1h-1zM1201 645h1v1h-1zM1201 644h1v1h-1zM1202 643h1v1h-1zM1202 642h1v1h-1zM1202 641h1v1h-1zM1202 640h1v1h-1zM1202 639h1v1h-1zM1203 638h1v1h-1zM1203 637h1v1h-1zM1203 636h1v1h-1zM1203 635h1v1h-1zM1203 634h1v1h-1zM1203 633h1v1h-1zM1204 632h1v1h-1zM1204 631h1v1h-1zM1204 630h1v1h-1zM1204 629h1v1h-1zM1204 628h1v1h-1zM1204 627h1v1h-1zM1205 626h1v1h-1zM1205 625h1v1h-1zM1205 624h1v1h-1zM1205 623h1v1h-1zM1205 622h1v1h-1zM1205 621h1v1h-1zM1206 620h1v1h-1zM1206 619h1v1h-1zM1206 618h1v1h-1zM1206 617h1v1h-1zM1206 616h1v1h-1zM1206 615h1v1h-1zM1207 614h1v1h-1zM1207 613h1v1h-1zM1207 612h1v1h-1zM1207 611h1v1h-1zM1207 610h1v1h-1zM1207 609h1v1h-1zM1208 608h1v1h-1zM1208 607h1v1h-1zM1208 606h1v1h-1zM1208 605h1v1h-1zM1208 604h1v1h-1zM1208 603h1v1h-1zM1209 602h1v1h-1zM1209 601h1v1h-1zM1209 600h1v1h-1zM1209 599h1v1h-1zM1209 598h1v1h-1zM1209 597h1v1h-1zM1210 596h1v1h-1zM1210 595h1v1h-1zM1210 594h1v1h-1zM1210 593h1v1h-1zM1210 592h1v1h-1zM1210 591h1v1h-1zM1211 590h1v1h-1zM1211 589h1v1h-1zM1211 588h1v1h-1zM1211 587h1v1h-1zM1211 586h1v1h-1zM1211 585h1v1h-1zM1212 584h1v1h-1zM1212 583h1v1h-1zM1212 582h1v1h-1zM1212 581h1v1h-1zM1212 580h1v1h-1zM1212 579h1v1h-1zM1213 578h1v1h-1zM1213 577h1v1h-1zM1213 576h1v1h-1zM1213 575h1v1h-1zM1213 574h1v1h-1zM1213 573h1v1h-1zM1214 572h1v1h-1zM1214 571h1v1h-1zM1214 570h1v1h-1zM1214 569h1v1h-1zM1214 568h1v1h-1zM1215 567h1v1h-1zM1215 566h1v1h-1zM1215 565h1v1h-1zM1215 564h1v1h-1zM1215 563h1v1h-1zM1215 562h1v1h-1zM1216 561h1v1h-1zM1216 560h1v1h-1zM1216 559h1v1h-1zM1216 558h1v1h-1zM1216 557h1v1h-1zM1216 556h1v1h-1zM1217 555h1v1h-1zM1217 554h1v1h-1zM1217 553h1v1h-1zM1217 552h1v1h-1zM1217 551h1v1h-1zM1217 550h1v1h-1zM1218 549h1v1h-1zM1218 548h1v1h-1zM1218 547h1v1h-1zM1218 546h1v1h-1zM1218 545h1v1h-1zM1219 544h1v1h-1zM1219 543h1v1h-1zM1219 542h1v1h-1zM1219 541h1v1h-1zM1220 540h1v1h-1zM1220 539h1v1h-1zM1220 538h1v1h-1zM1220 537h1v1h-1zM1220 536h1v1h-1zM1221 535h1v1h-1zM1221 534h1v1h-1zM1221 533h1v1h-1zM1221 532h1v1h-1zM1222 531h1v1h-1zM1222 530h1v1h-1zM1222 529h1v1h-1zM1222 528h1v1h-1zM1222 527h1v1h-1zM1223 526h1v1h-1zM1223 525h1v1h-1zM1223 524h1v1h-1zM1223 523h1v1h-1zM1224 522h1v1h-1zM1224 521h1v1h-1zM1224 520h1v1h-1zM1224 519h1v1h-1zM1224 518h1v1h-1zM1225 517h1v1h-1zM1225 516h1v1h-1zM1225 515h1v1h-1zM1225 514h1v1h-1zM1226 513h1v1h-1zM1226 512h1v1h-1zM1226 511h1v1h-1zM1226 510h1v1h-1zM1226 509h1v1h-1zM1227 508h1v1h-1zM1227 507h1v1h-1zM1227 506h1v1h-1zM1227 505h1v1h-1zM1227 504h1v1h-1zM1228 503h1v1h-1zM1228 502h1v1h-1zM1228 501h1v1h-1zM1228 500h1v1h-1zM1228 499h1v1h-1zM1229 498h1v1h-1zM1229 497h1v1h-1zM1229 496h1v1h-1zM1229 495h1v1h-1zM1229 494h1v1h-1zM1230 493h1v1h-1zM1230 492h1v1h-1zM1230 491h1v1h-1zM1230 490h1v1h-1zM1231 489h1v1h-1zM1231 488h1v1h-1zM1231 487h1v1h-1zM1231 486h1v1h-1zM1231 485h1v1h-1zM1232 484h1v1h-1zM1232 483h1v1h-1zM1232 482h1v1h-1zM1232 481h1v1h-1zM1232 480h1v1h-1zM1233 479h1v1h-1zM1233 478h1v1h-1zM1233 477h1v1h-1zM1233 476h1v1h-1zM1233 475h1v1h-1zM1234 474h1v1h-1zM1234 473h1v1h-1zM1234 472h1v1h-1zM1234 471h1v1h-1zM1234 470h1v1h-1zM1235 469h1v1h-1zM1235 468h1v1h-1zM1235 467h1v1h-1zM1235 466h1v1h-1zM1235 465h1v1h-1zM1236 464h1v1h-1zM1236 463h1v1h-1zM1236 462h1v1h-1zM1236 461h1v1h-1zM1236 460h1v1h-1zM1237 459h1v1h-1zM1237 458h1v1h-1zM1237 457h1v1h-1zM1237 456h1v1h-1zM1237 455h1v1h-1zM1238 454h1v1h-1zM1238 453h1v1h-1zM1238 452h1v1h-1zM1238 451h1v1h-1zM1239 450h1v1h-1zM1239 449h1v1h-1zM1239 448h1v1h-1zM1239 447h1v1h-1zM1239 446h1v1h-1zM1240 445h1v1h-1zM1240 444h1v1h-1zM1240 443h1v1h-1zM1240 442h1v1h-1zM1240 441h1v1h-1zM1241 440h1v1h-1zM1241 439h1v1h-1zM1241 438h1v1h-1zM1241 437h1v1h-1zM1241 436h1v1h-1zM1242 435h1v1h-1zM1242 434h1v1h-1zM1242 433h1v1h-1zM1242 432h1v1h-1zM1242 431h1v1h-1zM1243 430h1v1h-1zM1243 429h1v1h-1zM1243 428h1v1h-1zM1243 427h1v1h-1zM1244 426h1v1h-1zM1244 425h1v1h-1zM1244 424h1v1h-1zM1244 423h1v1h-1zM1245 422h1v1h-1zM1245 421h1v1h-1zM1245 420h1v1h-1zM1245 419h1v1h-1zM1246 418h1v1h-1zM1246 417h1v1h-1zM1246 416h1v1h-1zM1246 415h1v1h-1zM1247 414h1v1h-1zM1247 413h1v1h-1zM1247 412h1v1h-1zM1247 411h1v1h-1zM1248 410h1v1h-1zM1248 409h1v1h-1zM1248 408h1v1h-1zM1248 407h1v1h-1zM1249 406h1v1h-1zM1249 405h1v1h-1zM1249 404h1v1h-1zM1249 403h1v1h-1zM1250 402h1v1h-1zM1250 401h1v1h-1zM1250 400h1v1h-1zM1250 399h1v1h-1zM1251 398h1v1h-1zM1251 397h1v1h-1zM1252 396h1v1h-1zM1252 395h1v1h-1zM1253 394h1v1h-1zM1253 393h1v1h-1zM1253 392h1v1h-1zM1254 391h1v1h-1zM1254 390h1v1h-1zM1255 389h1v1h-1zM1255 388h1v1h-1zM1255 387h1v1h-1zM1256 386h1v1h-1zM1338 386h5v1h-5zM1256 385h1v1h-1zM1337 385h1v1h-1zM1343 385h6v1h-6zM1394 385h1v1h-1zM1257 384h1v1h-1zM1336 384h1v1h-1zM1349 384h4v1h-4zM1393 384h1v1h-1zM1257 383h1v1h-1zM1335 383h1v1h-1zM1353 383h4v1h-4zM1392 383h1v1h-1zM1258 382h1v1h-1zM1334 382h1v1h-1zM1357 382h4v1h-4zM1391 382h1v1h-1zM1258 381h1v1h-1zM1334 381h1v1h-1zM1361 381h6v1h-6zM1390 381h1v1h-1zM1258 380h1v1h-1zM1333 380h1v1h-1zM1367 380h8v1h-8zM1389 380h1v1h-1zM1259 379h1v1h-1zM1332 379h1v1h-1zM1375 379h6v1h-6zM1388 379h1v1h-1zM1259 378h1v1h-1zM1331 378h1v1h-1zM1381 378h4v1h-4zM1387 378h1v1h-1zM1259 377h1v1h-1zM1330 377h1v1h-1zM1385 377h2v1h-2zM1259 376h1v1h-1zM1330 376h1v1h-1zM1260 375h1v1h-1zM1329 375h1v1h-1zM1260 374h1v1h-1zM1329 374h1v1h-1zM1260 373h1v1h-1zM1328 373h1v1h-1zM1260 372h1v1h-1zM1328 372h1v1h-1zM1261 371h1v1h-1zM1328 371h1v1h-1zM1261 370h1v1h-1zM1327 370h1v1h-1zM1261 369h1v1h-1zM1327 369h1v1h-1zM1262 368h1v1h-1zM1327 368h1v1h-1zM1262 367h1v1h-1zM1326 367h1v1h-1zM1262 366h1v1h-1zM1326 366h1v1h-1zM1262 365h1v1h-1zM1325 365h1v1h-1zM1263 364h1v1h-1zM1325 364h1v1h-1zM1263 363h1v1h-1zM1325 363h1v1h-1zM1263 362h1v1h-1zM1324 362h1v1h-1zM1264 361h1v1h-1zM1324 361h1v1h-1zM1264 360h1v1h-1zM1324 360h1v1h-1zM1264 359h1v1h-1zM1323 359h1v1h-1zM1264 358h1v1h-1zM1323 358h1v1h-1zM1265 357h1v1h-1zM1322 357h1v1h-1zM1265 356h1v1h-1zM1322 356h1v1h-1zM1265 355h1v1h-1zM1320 355h2v1h-2zM1265 354h1v1h-1zM1319 354h1v1h-1zM1266 353h1v1h-1zM1318 353h1v1h-1zM1266 352h1v1h-1zM1316 352h2v1h-2zM1266 351h1v1h-1zM1315 351h1v1h-1zM1267 350h1v1h-1zM1314 350h1v1h-1zM1267 349h1v1h-1zM1313 349h1v1h-1zM1267 348h1v1h-1zM1313 348h1v1h-1zM1268 347h1v1h-1zM1312 347h1v1h-1zM1268 346h1v1h-1zM1311 346h1v1h-1zM1269 345h1v1h-1zM1311 345h1v1h-1zM1269 344h1v1h-1zM1310 344h1v1h-1zM1269 343h1v1h-1zM1309 343h1v1h-1zM1270 342h1v1h-1zM1309 342h1v1h-1zM1270 341h1v1h-1zM1308 341h1v1h-1zM1270 340h1v1h-1zM1307 340h1v1h-1zM1271 339h1v1h-1zM1307 339h1v1h-1zM1271 338h1v1h-1zM1306 338h1v1h-1zM1271 337h1v1h-1zM1305 337h1v1h-1zM1272 336h1v1h-1zM1304 336h1v1h-1zM1272 335h1v1h-1zM1303 335h1v1h-1zM1273 334h1v1h-1zM1302 334h1v1h-1zM1273 333h1v1h-1zM1302 333h1v1h-1zM1273 332h1v1h-1zM1301 332h1v1h-1zM1274 331h1v1h-1zM1300 331h1v1h-1zM1274 330h1v1h-1zM1299 330h1v1h-1zM1274 329h1v1h-1zM1298 329h1v1h-1zM1275 328h1v1h-1zM1297 328h1v1h-1zM1275 327h1v1h-1zM1296 327h1v1h-1zM1276 326h1v1h-1zM1294 326h2v1h-2zM1276 325h1v1h-1zM1293 325h1v1h-1zM1277 324h1v1h-1zM1292 324h1v1h-1zM1277 323h1v1h-1zM1291 323h1v1h-1zM1278 322h1v1h-1zM1290 322h1v1h-1zM1278 321h1v1h-1zM1289 321h1v1h-1zM1278 320h1v1h-1zM1288 320h1v1h-1zM1279 319h1v1h-1zM1288 319h1v1h-1zM1279 318h1v1h-1zM1287 318h1v1h-1zM1280 317h1v1h-1zM1286 317h1v1h-1zM1280 316h1v1h-1zM1285 316h1v1h-1zM1281 315h1v1h-1zM1284 315h1v1h-1zM1281 314h1v1h-1zM1284 314h1v1h-1zM1282 313h2v1h-2zM1282 312h1v1h-1z" fill="#22C322"/>
<path d="M2 649h2v1h-2zM1112 649h1v1h-1zM4 650h2v1h-2zM1111 650h1v1h-1zM6 651h3v1h-3zM1110 651h1v1h-1zM9 652h3v1h-3zM1109 652h1v1h-1zM12 653h4v1h-4zM1108 653h1v1h-1zM16 654h4v1h-4zM1107 654h1v1h-1zM20 655h2v1h-2zM1106 655h1v1h-1zM22 656h3v1h-3zM1105 656h1v1h-1zM25 657h3v1h-3zM1104 657h1v1h-1zM28 658h4v1h-4zM1103 658h1v1h-1zM32 659h62v1h-62zM1102 659h1v1h-1zM94 660h8v1h-8zM1101 660h1v1h-1zM102 661h8v1h-8zM1100 661h1v1h-1zM110 662h16v1h-16zM1099 662h1v1h-1zM126 663h8v1h-8zM1098 663h1v1h-1zM134 664h16v1h-16zM1097 664h1v1h-1zM150 665h8v1h-8zM1095 665h2v1h-2zM158 666h40v1h-40zM1094 666h1v1h-1zM198 667h16v1h-16zM1093 667h1v1h-1zM214 668h8v1h-8zM1091 668h2v1h-2zM222 669h8v1h-8zM1090 669h1v1h-1zM230 670h6v1h-6zM1089 670h1v1h-1zM236 671h4v1h-4zM1088 671h1v1h-1zM240 672h6v1h-6zM1087 672h1v1h-1zM246 673h8v1h-8zM1085 673h2v1h-2zM254 674h6v1h-6zM1084 674h1v1h-1zM260 675h4v1h-4zM1083 675h1v1h-1zM264 676h4v1h-4zM1082 676h1v1h-1zM268 677h4v1h-4zM1081 677h1v1h-1zM272 678h4v1h-4zM1079 678h2v1h-2zM276 679h4v1h-4zM1078 679h1v1h-1zM280 680h6v1h-6zM1077 680h1v1h-1zM286 681h6v1h-6zM1075 681h2v1h-2zM292 682h4v1h-4zM1074 682h1v1h-1zM296 683h6v1h-6zM1072 683h2v1h-2zM302 684h8v1h-8zM1071 684h1v1h-1zM310 685h8v1h-8zM1069 685h2v1h-2zM318 686h8v1h-8zM1067 686h2v1h-2zM326 687h6v1h-6zM1066 687h1v1h-1zM332 688h4v1h-4zM1064 688h2v1h-2zM336 689h14v1h-14zM1062 689h2v1h-2zM350 690h16v1h-16zM1060 690h2v1h-2zM366 691h16v1h-16zM1058 691h2v1h-2zM382 692h16v1h-16zM1056 692h2v1h-2zM398 693h16v1h-16zM1054 693h2v1h-2zM414 694h8v1h-8zM1052 694h2v1h-2zM422 695h8v1h-8zM1049 695h3v1h-3zM430 696h8v1h-8zM1047 696h2v1h-2zM438 697h6v1h-6zM1044 697h3v1h-3zM444 698h4v1h-4zM1041 698h3v1h-3zM448 699h6v1h-6zM1039 699h2v1h-2zM454 700h8v1h-8zM1036 700h3v1h-3zM462 701h16v1h-16zM1033 701h3v1h-3zM478 702h8v1h-8zM1029 702h4v1h-4zM486 703h16v1h-16zM1025 703h4v1h-4zM502 704h8v1h-8zM1021 704h4v1h-4zM510 705h8v1h-8zM1017 705h4v1h-4zM518 706h8v1h-8zM1013 706h4v1h-4zM526 707h6v1h-6zM1009 707h4v1h-4zM532 708h4v1h-4zM1005 708h4v1h-4zM536 709h6v1h-6zM999 709h6v1h-6zM542 710h8v1h-8zM993 710h6v1h-6zM550 711h8v1h-8zM989 711h4v1h-4zM558 712h8v1h-8zM983 712h6v1h-6zM566 713h6v1h-6zM975 713h8v1h-8zM572 714h4v1h-4zM969 714h6v1h-6zM576 715h6v1h-6zM965 715h4v1h-4zM582 716h8v1h-8zM961 716h4v1h-4zM590 717h8v1h-8zM957 717h4v1h-4zM598 718h8v1h-8zM951 718h6v1h-6zM606 719h6v1h-6zM945 719h6v1h-6zM612 720h4v1h-4zM941 720h4v1h-4zM616 721h6v1h-6zM935 721h6v1h-6zM622 722h8v1h-8zM929 722h6v1h-6zM630 723h8v1h-8zM925 723h4v1h-4zM638 724h6v1h-6zM919 724h6v1h-6zM644 725h4v1h-4zM913 725h6v1h-6zM648 726h6v1h-6zM909 726h4v1h-4zM654 727h8v1h-8zM903 727h6v1h-6zM662 728h16v1h-16zM895 728h8v1h-8zM678 729h64v1h-64zM887 729h8v1h-8zM742 730h8v1h-8zM879 730h8v1h-8zM750 731h8v1h-8zM871 731h8v1h-8zM758 732h8v1h-8zM863 732h8v1h-8zM766 733h32v1h-32zM823 733h40v1h-40zM798 734h25v1h-25zM1113 648h1v1h-1zM1114 647h1v1h-1zM1115 646h1v1h-1zM1116 645h1v1h-1zM1117 644h1v1h-1zM1118 643h1v1h-1zM1119 642h1v1h-1zM1120 641h1v1h-1zM1121 640h1v1h-1zM1122 639h1v1h-1zM1123 638h1v1h-1zM1124 637h1v1h-1zM1124 636h1v1h-1zM1125 635h1v1h-1zM1126 634h1v1h-1zM1127 633h1v1h-1zM1128 632h1v1h-1zM1128 631h1v1h-1zM1129 630h1v1h-1zM1130 629h1v1h-1zM1131 628h1v1h-1zM1132 627h1v1h-1zM1132 626h1v1h-1zM1133 625h1v1h-1zM1134 624h1v1h-1zM1135 623h1v1h-1zM1136 622h1v1h-1zM1136 621h1v1h-1zM1137 620h1v1h-1zM1138 619h1v1h-1zM1139 618h1v1h-1zM1139 617h1v1h-1zM1140 616h1v1h-1zM1141 615h1v1h-1zM1142 614h1v1h-1zM1142 613h1v1h-1zM1143 612h1v1h-1zM1144 611h1v1h-1zM1145 610h1v1h-1zM1145 609h1v1h-1zM1146 608h1v1h-1zM1147 607h1v1h-1zM1147 606h1v1h-1zM1148 605h1v1h-1zM1149 604h1v1h-1zM1150 603h1v1h-1zM1150 602h1v1h-1zM1151 601h1v1h-1zM1152 600h1v1h-1zM1153 599h1v1h-1zM1153 598h1v1h-1zM1154 597h1v1h-1zM1155 596h1v1h-1zM1155 595h1v1h-1zM1156 594h1v1h-1zM1157 593h1v1h-1zM1157 592h1v1h-1zM1158 591h1v1h-1zM1159 590h1v1h-1zM1159 589h1v1h-1zM1160 588h1v1h-1zM1161 587h1v1h-1zM1161 586h1v1h-1zM1162 585h1v1h-1zM1163 584h1v1h-1zM1163 583h1v1h-1zM1164 582h1v1h-1zM1165 581h1v1h-1zM1166 580h1v1h-1zM1166 579h1v1h-1zM1167 578h1v1h-1zM1168 577h1v1h-1zM1169 576h1v1h-1zM1169 575h1v1h-1zM1170 574h1v1h-1zM1171 573h1v1h-1zM1171 572h1v1h-1zM1172 571h1v1h-1zM1173 570h1v1h-1zM1173 569h1v1h-1zM1174 568h1v1h-1zM1175 567h1v1h-1zM1175 566h1v1h-1zM1176 565h1v1h-1zM1177 564h1v1h-1zM1177 563h1v1h-1zM1178 562h1v1h-1zM1179 561h1v1h-1zM1180 560h1v1h-1zM1181 559h1v1h-1zM1182 558h1v1h-1zM1182 557h1v1h-1zM1183 556h1v1h-1zM1184 555h1v1h-1zM1185 554h1v1h-1zM1186 553h1v1h-1zM1187 552h1v1h-1zM1188 551h1v1h-1zM1188 550h1v1h-1zM1189 549h1v1h-1zM1190 548h1v1h-1zM1191 547h1v1h-1zM1192 546h1v1h-1zM1192 545h1v1h-1zM1193 544h1v1h-1zM1194 543h1v1h-1zM1195 542h1v1h-1zM1196 541h1v1h-1zM1197 540h1v1h-1zM1198 539h1v1h-1zM1198 538h1v1h-1zM1199 537h1v1h-1zM1200 536h1v1h-1zM1201 535h1v1h-1zM1202 534h1v1h-1zM1203 533h1v1h-1zM1204 532h1v1h-1zM1204 531h1v1h-1zM1205 530h1v1h-1zM1206 529h1v1h-1zM1207 528h1v1h-1zM1208 527h1v1h-1zM1208 526h1v1h-1zM1209 525h1v1h-1zM1210 524h1v1h-1zM1211 523h1v1h-1zM1211 522h1v1h-1zM1212 521h1v1h-1zM1213 520h1v1h-1zM1214 519h1v1h-1zM1214 518h1v1h-1zM1215 517h1v1h-1zM1216 516h1v1h-1zM1217 515h1v1h-1zM1217 514h1v1h-1zM1218 513h1v1h-1zM1219 512h1v1h-1zM1219 511h1v1h-1zM1220 510h1v1h-1zM1221 509h1v1h-1zM1222 508h1v1h-1zM1222 507h1v1h-1zM1223 506h1v1h-1zM1224 505h1v1h-1zM1225 504h1v1h-1zM1225 503h1v1h-1zM1226 502h1v1h-1zM1227 501h1v1h-1zM1227 500h1v1h-1zM1228 499h1v1h-1zM1229 498h1v1h-1zM1229 497h1v1h-1zM1230 496h1v1h-1zM1231 495h1v1h-1zM1231 494h1v1h-1zM1232 493h1v1h-1zM1233 492h1v1h-1zM1233 491h1v1h-1zM1234 490h1v1h-1zM1235 489h1v1h-1zM1235 488h1v1h-1zM1236 487h1v1h-1zM1237 486h1v1h-1zM1238 485h1v1h-1zM1238 484h1v1h-1zM1239 483h1v1h-1zM1240 482h1v1h-1zM1241 481h1v1h-1zM1241 480h1v1h-1zM1242 479h1v1h-1zM1243 478h1v1h-1zM1243 477h1v1h-1zM1244 476h1v1h-1zM1245 475h1v1h-1zM1246 474h1v1h-1zM1246 473h1v1h-1zM1247 472h1v1h-1zM1248 471h1v1h-1zM1249 470h1v1h-1zM1249 469h1v1h-1zM1250 468h1v1h-1zM1251 467h1v1h-1zM1251 466h1v1h-1zM1252 465h1v1h-1zM1253 464h1v1h-1zM1254 463h1v1h-1zM1254 462h1v1h-1zM1255 461h1v1h-1zM1256 460h1v1h-1zM1257 459h1v1h-1zM1257 458h1v1h-1zM1258 457h1v1h-1zM1259 456h1v1h-1zM1259 455h1v1h-1zM1260 454h1v1h-1zM1261 453h1v1h-1zM1261 452h1v1h-1zM1262 451h1v1h-1zM1263 450h1v1h-1zM1263 449h1v1h-1zM1264 448h1v1h-1zM1265 447h1v1h-1zM1265 446h1v1h-1zM1266 445h1v1h-1zM1267 444h1v1h-1zM1268 443h1v1h-1zM1269 442h1v1h-1zM1270 441h1v1h-1zM1271 440h1v1h-1zM1272 439h1v1h-1zM1273 438h1v1h-1zM1274 437h1v1h-1zM1275 436h1v1h-1zM1276 435h1v1h-1zM1277 434h2v1h-2zM1279 433h1v1h-1zM1280 432h1v1h-1zM1281 431h1v1h-1zM1282 430h1v1h-1zM1283 429h1v1h-1zM1284 428h1v1h-1zM1285 427h1v1h-1zM1286 426h1v1h-1zM1287 425h1v1h-1zM1288 424h1v1h-1zM1289 423h1v1h-1zM1290 422h1v1h-1zM1291 421h1v1h-1zM1292 420h1v1h-1zM1293 419h2v1h-2zM1295 418h1v1h-1zM1296 417h1v1h-1zM1297 416h1v1h-1zM1298 415h1v1h-1zM1299 414h1v1h-1zM1300 413h1v1h-1zM1301 412h1v1h-1zM1302 411h1v1h-1zM1303 410h1v1h-1zM1304 409h1v1h-1zM1305 408h1v1h-1zM1306 407h1v1h-1zM1307 406h1v1h-1zM1308 405h1v1h-1zM1309 404h2v1h-2zM1311 403h1v1h-1zM1312 402h1v1h-1zM1313 401h1v1h-1zM1314 400h1v1h-1zM1315 399h1v1h-1zM1316 398h1v1h-1zM1317 397h2v1h-2zM1319 396h1v1h-1zM1320 395h1v1h-1zM1321 394h1v1h-1zM1322 393h1v1h-1zM1323 392h2v1h-2zM1325 391h1v1h-1zM1326 390h1v1h-1zM1327 389h2v1h-2zM1329 388h1v1h-1zM1330 387h1v1h-1zM1331 386h1v1h-1zM1332 385h1v1h-1zM1333 384h1v1h-1zM1334 383h1v1h-1zM1335 382h1v1h-1zM1336 381h1v1h-1zM1337 380h1v1h-1zM1338 379h1v1h-1zM1339 378h1v1h-1zM1340 377h1v1h-1zM1341 376h2v1h-2zM1343 375h1v1h-1zM1344 374h1v1h-1zM1345 373h1v1h-1zM1346 372h1v1h-1zM1347 371h1v1h-1zM1348 370h1v1h-1zM1349 369h1v1h-1zM1350 368h1v1h-1zM1350 367h1v1h-1zM1351 366h1v1h-1zM1352 365h1v1h-1zM1353 364h1v1h-1zM1354 363h1v1h-1zM1355 362h1v1h-1zM1356 361h1v1h-1zM1357 360h1v1h-1zM1358 359h1v1h-1zM1358 358h1v1h-1zM1359 357h1v1h-1zM1360 356h1v1h-1zM1361 355h1v1h-1zM1362 354h1v1h-1zM1363 353h1v1h-1zM1364 352h1v1h-1zM1364 351h1v1h-1zM1365 350h1v1h-1zM1366 349h1v1h-1zM1367 348h1v1h-1zM1368 347h1v1h-1zM1368 346h1v1h-1zM1369 345h1v1h-1zM1370 344h1v1h-1zM1371 343h1v1h-1zM1372 342h1v1h-1zM1372 341h1v1h-1zM1373 340h1v1h-1zM1374 339h1v1h-1zM1375 338h1v1h-1zM1376 337h1v1h-1zM1376 336h1v1h-1zM1377 335h1v1h-1zM1378 334h1v1h-1zM1379 333h1v1h-1zM1380 332h1v1h-1zM1380 331h1v1h-1zM1381 330h1v1h-1zM1382 329h1v1h-1zM1383 328h1v1h-1zM1384 327h1v1h-1zM1384 326h1v1h-1zM1385 325h1v1h-1zM1386 324h1v1h-1zM1387 323h1v1h-1zM1387 322h1v1h-1zM1388 321h1v1h-1zM1389 320h1v1h-1zM1390 319h1v1h-1zM1390 318h1v1h-1zM1391 317h1v1h-1zM1392 316h1v1h-1zM1393 315h1v1h-1zM1393 314h1v1h-1zM1394 313h1v1h-1z" fill="#000000"/>
<path d="M2 635h20v1h-20zM1170 635h1v1h-1zM22 636h24v1h-24zM1168 636h2v1h-2zM46 637h16v1h-16zM1167 637h1v1h-1zM62 638h24v1h-24zM1165 638h2v1h-2zM86 639h24v1h-24zM1163 639h2v1h-2zM110 640h24v1h-24zM1162 640h1v1h-1zM134 641h24v1h-24zM1160 641h2v1h-2zM158 642h24v1h-24zM1159 642h1v1h-1zM182 643h24v1h-24zM1157 643h2v1h-2zM206 644h24v1h-24zM1155 644h2v1h-2zM230 645h24v1h-24zM1154 645h1v1h-1zM254 646h16v1h-16zM1152 646h2v1h-2zM270 647h8v1h-8zM1150 647h2v1h-2zM278 648h16v1h-16zM1148 648h2v1h-2zM294 649h8v1h-8zM1146 649h2v1h-2zM302 650h8v1h-8zM1144 650h2v1h-2zM310 651h16v1h-16zM1143 651h1v1h-1zM326 652h8v1h-8zM1141 652h2v1h-2zM334 653h16v1h-16zM1139 653h2v1h-2zM350 654h8v1h-8zM1138 654h1v1h-1zM358 655h8v1h-8zM1136 655h2v1h-2zM366 656h16v1h-16zM1134 656h2v1h-2zM382 657h8v1h-8zM1132 657h2v1h-2zM390 658h8v1h-8zM1129 658h3v1h-3zM398 659h16v1h-16zM1127 659h2v1h-2zM414 660h16v1h-16zM1124 660h3v1h-3zM430 661h16v1h-16zM1122 661h2v1h-2zM446 662h8v1h-8zM1120 662h2v1h-2zM454 663h16v1h-16zM1118 663h2v1h-2zM470 664h16v1h-16zM1116 664h2v1h-2zM486 665h16v1h-16zM1113 665h3v1h-3zM502 666h16v1h-16zM1111 666h2v1h-2zM518 667h8v1h-8zM1108 667h3v1h-3zM526 668h16v1h-16zM1105 668h3v1h-3zM542 669h16v1h-16zM1103 669h2v1h-2zM558 670h8v1h-8zM1100 670h3v1h-3zM566 671h16v1h-16zM1097 671h3v1h-3zM582 672h16v1h-16zM1095 672h2v1h-2zM598 673h8v1h-8zM1092 673h3v1h-3zM606 674h16v1h-16zM1089 674h3v1h-3zM622 675h16v1h-16zM1085 675h4v1h-4zM638 676h8v1h-8zM1081 676h4v1h-4zM646 677h16v1h-16zM1077 677h4v1h-4zM662 678h8v1h-8zM1073 678h4v1h-4zM670 679h8v1h-8zM1069 679h4v1h-4zM678 680h16v1h-16zM1063 680h6v1h-6zM694 681h8v1h-8zM1055 681h8v1h-8zM702 682h8v1h-8zM1039 682h16v1h-16zM710 683h16v1h-16zM1023 683h16v1h-16zM726 684h8v1h-8zM1007 684h16v1h-16zM734 685h8v1h-8zM983 685h24v1h-24zM742 686h16v1h-16zM967 686h16v1h-16zM758 687h8v1h-8zM935 687h32v1h-32zM766 688h40v1h-40zM903 688h32v1h-32zM806 689h24v1h-24zM887 689h16v1h-16zM830 690h57v1h-57zM1171 634h2v1h-2zM1173 633h2v1h-2zM1175 632h1v1h-1zM1176 631h2v1h-2zM1178 630h2v1h-2zM1180 629h2v1h-2zM1182 628h2v1h-2zM1184 627h2v1h-2zM1186 626h2v1h-2zM1188 625h2v1h-2zM1190 624h2v1h-2zM1192 623h2v1h-2zM1194 622h2v1h-2zM1196 621h2v1h-2zM1198 620h2v1h-2zM1200 619h2v1h-2zM1202 618h2v1h-2zM1204 617h2v1h-2zM1206 616h2v1h-2zM1208 615h2v1h-2zM1210 614h1v1h-1zM1211 613h2v1h-2zM1213 612h2v1h-2zM1215 611h1v1h-1zM1216 610h2v1h-2zM1218 609h2v1h-2zM1220 608h2v1h-2zM1222 607h2v1h-2zM1224 606h2v1h-2zM1226 605h1v1h-1zM1227 604h2v1h-2zM1229 603h2v1h-2zM1231 602h1v1h-1zM1232 601h2v1h-2zM1234 600h2v1h-2zM1236 599h2v1h-2zM1238 598h2v1h-2zM1240 597h2v1h-2zM1242 596h1v1h-1zM1243 595h2v1h-2zM1245 594h2v1h-2zM1247 593h1v1h-1zM1248 592h2v1h-2zM1250 591h2v1h-2zM1252 590h2v1h-2zM1254 589h2v1h-2zM1256 588h2v1h-2zM1258 587h2v1h-2zM1260 586h2v1h-2zM1262 585h2v1h-2zM1264 584h2v1h-2zM1266 583h2v1h-2zM1268 582h2v1h-2zM1270 581h2v1h-2zM1272 580h2v1h-2zM1274 579h2v1h-2zM1276 578h3v1h-3zM1279 577h2v1h-2zM1281 576h3v1h-3zM1284 575h3v1h-3zM1287 574h2v1h-2zM1289 573h3v1h-3zM1292 572h3v1h-3zM1295 571h2v1h-2zM1297 570h3v1h-3zM1300 569h3v1h-3zM1303 568h2v1h-2zM1305 567h4v1h-4zM1309 566h4v1h-4zM1313 565h3v1h-3zM1316 564h3v1h-3zM1319 563h2v1h-2zM1321 562h4v1h-4zM1325 561h4v1h-4zM1329 560h3v1h-3zM1332 559h3v1h-3zM1335 558h2v1h-2zM1337 557h4v1h-4zM1341 556h4v1h-4zM1345 555h3v1h-3zM1348 554h3v1h-3zM1351 553h2v1h-2zM1353 552h3v1h-3zM1356 551h2v1h-2zM1358 550h2v1h-2zM1360 549h2v1h-2zM1362 548h2v1h-2zM1364 547h2v1h-2zM1366 546h2v1h-2zM1368 545h2v1h-2zM1370 544h2v1h-2zM1372 543h2v1h-2zM1374 542h2v1h-2zM1376 541h2v1h-2zM1378 540h2v1h-2zM1380 539h2v1h-2zM1382 538h2v1h-2zM1384 537h2v1h-2zM1386 536h2v1h-2zM1388 535h2v1h-2zM1390 534h2v1h-2zM1392 533h2v1h-2zM1394 532h1v1h-1z" fill="#0000FF"/>
</g>
<g clip-path="url(#cr)">
<rect x="1082" y="11" width="520" height="66" fill="#AFEEEE"/>
<line x1="1242.5" y1="2" x2="1242.5" y2="789" stroke="#501111" stroke-width="1" stroke-dasharray="3 3"/>
<line x1="1410.5" y1="2" x2="1410.5" y2="789" stroke="#501111" stroke-width="1" stroke-dasharray="3 3"/>
<rect x="3" y="74" width="1680" height="1" fill="#209181"/>
<rect x="1106" y="14" width="1" height="451" fill="#501111"/>
<rect x="1104" y="164" width="5" height="227" fill="#501111"/>
<rect x="1105" y="165" width="3" height="225" fill="#AF1111"/>
<rect x="1170" y="20" width="1" height="195" fill="#501111"/>
<rect x="1168" y="133" width="5" height="31" fill="#501111"/>
<rect x="1169" y="134" width="3" height="29" fill="#AF1111"/>
<rect x="1394" y="74" width="1" height="74" fill="#501111"/>
<rect x="1392" y="74" width="5" height="66" fill="#501111"/>
<rect x="1393" y="75" width="3" height="64" fill="#5011EE"/>
<path d="M2 611h1v1h-1zM1041 611h4v1h-4zM3 612h1v1h-1zM1037 612h4v1h-4zM4 613h1v1h-1zM1033 613h4v1h-4zM5 614h1v1h-1zM1029 614h4v1h-4zM6 615h2v1h-2zM1025 615h4v1h-4zM8 616h1v1h-1zM1023 616h2v1h-2zM9 617h1v1h-1zM1020 617h3v1h-3zM10 618h1v1h-1zM1017 618h3v1h-3zM11 619h1v1h-1zM1015 619h2v1h-2zM11 620h1v1h-1zM1012 620h3v1h-3zM12 621h1v1h-1zM1010 621h2v1h-2zM12 622h1v1h-1zM1008 622h2v1h-2zM13 623h1v1h-1zM962 623h4v1h-4zM1007 623h1v1h-1zM13 624h1v1h-1zM960 624h2v1h-2zM966 624h16v1h-16zM1005 624h2v1h-2zM14 625h1v1h-1zM958 625h2v1h-2zM982 625h6v1h-6zM1003 625h2v1h-2zM14 626h1v1h-1zM956 626h2v1h-2zM988 626h2v1h-2zM1001 626h2v1h-2zM15 627h1v1h-1zM954 627h2v1h-2zM990 627h3v1h-3zM997 627h4v1h-4zM15 628h1v1h-1zM952 628h2v1h-2zM993 628h4v1h-4zM16 629h1v1h-1zM950 629h2v1h-2zM16 630h1v1h-1zM948 630h2v1h-2zM17 631h1v1h-1zM945 631h3v1h-3zM17 632h1v1h-1zM943 632h2v1h-2zM18 633h1v1h-1zM940 633h3v1h-3zM19 634h1v1h-1zM937 634h3v1h-3zM19 635h1v1h-1zM933 635h4v1h-4zM20 636h1v1h-1zM929 636h4v1h-4zM20 637h1v1h-1zM925 637h4v1h-4zM21 638h1v1h-1zM311 638h13v1h-13zM919 638h6v1h-6zM21 639h1v1h-1zM305 639h6v1h-6zM324 639h2v1h-2zM913 639h6v1h-6zM22 640h1v1h-1zM279 640h15v1h-15zM301 640h4v1h-4zM326 640h3v1h-3zM909 640h4v1h-4zM22 641h1v1h-1zM274 641h5v1h-5zM294 641h7v1h-7zM329 641h2v1h-2zM905 641h4v1h-4zM23 642h1v1h-1zM272 642h2v1h-2zM331 642h1v1h-1zM901 642h4v1h-4zM23 643h1v1h-1zM270 643h2v1h-2zM332 643h2v1h-2zM898 643h3v1h-3zM24 644h1v1h-1zM268 644h2v1h-2zM334 644h1v1h-1zM897 644h1v1h-1zM24 645h1v1h-1zM193 645h5v1h-5zM263 645h5v1h-5zM335 645h1v1h-1zM896 645h1v1h-1zM25 646h1v1h-1zM189 646h4v1h-4zM198 646h6v1h-6zM231 646h32v1h-32zM336 646h2v1h-2zM895 646h1v1h-1zM25 647h1v1h-1zM185 647h4v1h-4zM204 647h2v1h-2zM225 647h6v1h-6zM338 647h1v1h-1zM894 647h1v1h-1zM26 648h1v1h-1zM181 648h4v1h-4zM206 648h3v1h-3zM223 648h2v1h-2zM339 648h1v1h-1zM893 648h1v1h-1zM27 649h1v1h-1zM177 649h4v1h-4zM209 649h5v1h-5zM220 649h3v1h-3zM340 649h1v1h-1zM892 649h1v1h-1zM28 650h2v1h-2zM173 650h4v1h-4zM214 650h6v1h-6zM341 650h1v1h-1zM891 650h1v1h-1zM30 651h1v1h-1zM111 651h62v1h-62zM342 651h1v1h-1zM890 651h1v1h-1zM31 652h1v1h-1zM71 652h40v1h-40zM342 652h1v1h-1zM889 652h1v1h-1zM32 653h2v1h-2zM49 653h22v1h-22zM343 653h1v1h-1zM889 653h1v1h-1zM34 654h2v1h-2zM47 654h2v1h-2zM344 654h1v1h-1zM888 654h1v1h-1zM36 655h4v1h-4zM44 655h3v1h-3zM345 655h1v1h-1zM888 655h1v1h-1zM40 656h4v1h-4zM346 656h1v1h-1zM887 656h1v1h-1zM347 657h1v1h-1zM887 657h1v1h-1zM348 658h1v1h-1zM886 658h1v1h-1zM349 659h1v1h-1zM885 659h1v1h-1zM350 660h1v1h-1zM885 660h1v1h-1zM350 661h1v1h-1zM884 661h1v1h-1zM351 662h1v1h-1zM884 662h1v1h-1zM352 663h1v1h-1zM883 663h1v1h-1zM353 664h1v1h-1zM883 664h1v1h-1zM354 665h2v1h-2zM882 665h1v1h-1zM356 666h2v1h-2zM881 666h1v1h-1zM358 667h3v1h-3zM880 667h1v1h-1zM361 668h3v1h-3zM880 668h1v1h-1zM364 669h2v1h-2zM879 669h1v1h-1zM366 670h3v1h-3zM878 670h1v1h-1zM369 671h3v1h-3zM877 671h1v1h-1zM372 672h4v1h-4zM876 672h1v1h-1zM376 673h20v1h-20zM876 673h1v1h-1zM396 674h4v1h-4zM875 674h1v1h-1zM400 675h6v1h-6zM874 675h1v1h-1zM406 676h6v1h-6zM873 676h1v1h-1zM412 677h2v1h-2zM872 677h1v1h-1zM414 678h3v1h-3zM871 678h1v1h-1zM417 679h3v1h-3zM449 679h13v1h-13zM869 679h2v1h-2zM420 680h2v1h-2zM445 680h4v1h-4zM462 680h6v1h-6zM868 680h1v1h-1zM422 681h3v1h-3zM439 681h6v1h-6zM468 681h4v1h-4zM867 681h1v1h-1zM425 682h14v1h-14zM472 682h3v1h-3zM866 682h1v1h-1zM475 683h2v1h-2zM864 683h2v1h-2zM477 684h2v1h-2zM862 684h2v1h-2zM479 685h2v1h-2zM860 685h2v1h-2zM481 686h2v1h-2zM858 686h2v1h-2zM483 687h2v1h-2zM856 687h2v1h-2zM485 688h2v1h-2zM854 688h2v1h-2zM487 689h2v1h-2zM852 689h2v1h-2zM489 690h11v1h-11zM849 690h3v1h-3zM500 691h4v1h-4zM847 691h2v1h-2zM504 692h4v1h-4zM844 692h3v1h-3zM508 693h4v1h-4zM841 693h3v1h-3zM512 694h4v1h-4zM839 694h2v1h-2zM516 695h4v1h-4zM836 695h3v1h-3zM520 696h14v1h-14zM831 696h5v1h-5zM534 697h8v1h-8zM823 697h8v1h-8zM542 698h6v1h-6zM815 698h8v1h-8zM548 699h4v1h-4zM809 699h6v1h-6zM552 700h4v1h-4zM805 700h4v1h-4zM556 701h4v1h-4zM802 701h3v1h-3zM560 702h4v1h-4zM801 702h1v1h-1zM564 703h4v1h-4zM800 703h1v1h-1zM568 704h28v1h-28zM671 704h7v1h-7zM800 704h1v1h-1zM596 705h4v1h-4zM649 705h22v1h-22zM678 705h8v1h-8zM799 705h1v1h-1zM600 706h4v1h-4zM645 706h4v1h-4zM686 706h8v1h-8zM798 706h1v1h-1zM604 707h4v1h-4zM639 707h6v1h-6zM694 707h8v1h-8zM797 707h1v1h-1zM608 708h31v1h-31zM702 708h6v1h-6zM796 708h1v1h-1zM708 709h4v1h-4zM796 709h1v1h-1zM712 710h4v1h-4zM795 710h1v1h-1zM716 711h2v1h-2zM794 711h1v1h-1zM718 712h3v1h-3zM793 712h1v1h-1zM721 713h5v1h-5zM792 713h1v1h-1zM726 714h6v1h-6zM791 714h1v1h-1zM732 715h4v1h-4zM790 715h1v1h-1zM736 716h3v1h-3zM790 716h1v1h-1zM739 717h2v1h-2zM789 717h1v1h-1zM741 718h2v1h-2zM788 718h1v1h-1zM743 719h2v1h-2zM787 719h1v1h-1zM745 720h2v1h-2zM786 720h1v1h-1zM747 721h2v1h-2zM784 721h2v1h-2zM749 722h1v1h-1zM783 722h1v1h-1zM750 723h2v1h-2zM781 723h2v1h-2zM752 724h2v1h-2zM779 724h2v1h-2zM754 725h2v1h-2zM777 725h2v1h-2zM756 726h4v1h-4zM773 726h4v1h-4zM760 727h13v1h-13zM1045 610h4v1h-4zM1049 609h2v1h-2zM1051 608h1v1h-1zM1052 607h1v1h-1zM1053 606h1v1h-1zM1054 605h1v1h-1zM1054 604h1v1h-1zM1055 603h1v1h-1zM1056 602h1v1h-1zM1057 601h1v1h-1zM1058 600h1v1h-1zM1058 599h1v1h-1zM1059 598h1v1h-1zM1059 597h1v1h-1zM1059 596h1v1h-1zM1060 595h1v1h-1zM1060 594h1v1h-1zM1060 593h1v1h-1zM1061 592h1v1h-1zM1061 591h1v1h-1zM1061 590h1v1h-1zM1062 589h1v1h-1zM1062 588h1v1h-1zM1062 587h1v1h-1zM1063 586h1v1h-1zM1063 585h1v1h-1zM1063 584h1v1h-1zM1064 583h1v1h-1zM1064 582h1v1h-1zM1064 581h1v1h-1zM1065 580h1v1h-1zM1065 579h1v1h-1zM1065 578h1v1h-1zM1066 577h1v1h-1zM1066 576h1v1h-1zM1066 575h1v1h-1zM1067 574h1v1h-1zM1067 573h1v1h-1zM1067 572h1v1h-1zM1067 571h1v1h-1zM1068 570h1v1h-1zM1068 569h1v1h-1zM1068 568h1v1h-1zM1068 567h1v1h-1zM1069 566h1v1h-1zM1069 565h1v1h-1zM1069 564h1v1h-1zM1069 563h1v1h-1zM1070 562h1v1h-1zM1070 561h1v1h-1zM1070 560h1v1h-1zM1071 559h1v1h-1zM1071 558h1v1h-1zM1071 557h1v1h-1zM1071 556h1v1h-1zM1072 555h1v1h-1zM1072 554h1v1h-1zM1072 553h1v1h-1zM1072 552h1v1h-1zM1073 551h1v1h-1zM1073 550h1v1h-1zM1073 549h1v1h-1zM1073 548h1v1h-1zM1074 547h1v1h-1zM1074 546h1v1h-1zM1074 545h1v1h-1zM1075 544h1v1h-1zM1075 543h1v1h-1zM1075 542h1v1h-1zM1075 541h1v1h-1zM1076 540h1v1h-1zM1076 539h1v1h-1zM1076 538h1v1h-1zM1076 537h1v1h-1zM1077 536h1v1h-1zM1077 535h1v1h-1zM1077 534h1v1h-1zM1077 533h1v1h-1zM1078 532h1v1h-1zM1078 531h1v1h-1zM1078 530h1v1h-1zM1078 529h1v1h-1zM1079 528h1v1h-1zM1079 527h1v1h-1zM1079 526h1v1h-1zM1079 525h1v1h-1zM1080 524h1v1h-1zM1080 523h1v1h-1zM1080 522h1v1h-1zM1080 521h1v1h-1zM1081 520h1v1h-1zM1081 519h1v1h-1zM1081 518h1v1h-1zM1081 517h1v1h-1zM1082 516h1v1h-1zM1082 515h1v1h-1zM1082 514h1v1h-1zM1082 513h1v1h-1zM1082 512h1v1h-1zM1083 511h1v1h-1zM1083 510h1v1h-1zM1083 509h1v1h-1zM1083 508h1v1h-1zM1084 507h1v1h-1zM1084 506h1v1h-1zM1084 505h1v1h-1zM1084 504h1v1h-1zM1085 503h1v1h-1zM1085 502h1v1h-1zM1085 501h1v1h-1zM1085 500h1v1h-1zM1085 499h1v1h-1zM1086 498h1v1h-1zM1086 497h1v1h-1zM1086 496h1v1h-1zM1086 495h1v1h-1zM1087 494h1v1h-1zM1087 493h1v1h-1zM1087 492h1v1h-1zM1087 491h1v1h-1zM1087 490h1v1h-1zM1088 489h1v1h-1zM1088 488h1v1h-1zM1088 487h1v1h-1zM1088 486h1v1h-1zM1089 485h1v1h-1zM1089 484h1v1h-1zM1089 483h1v1h-1zM1089 482h1v1h-1zM1090 481h1v1h-1zM1090 480h1v1h-1zM1090 479h1v1h-1zM1090 478h1v1h-1zM1090 477h1v1h-1zM1091 476h1v1h-1zM1091 475h1v1h-1zM1091 474h1v1h-1zM1091 473h1v1h-1zM1091 472h1v1h-1zM1091 471h1v1h-1zM1092 470h1v1h-1zM1092 469h1v1h-1zM1092 468h1v1h-1zM1092 467h1v1h-1zM1092 466h1v1h-1zM1092 465h1v1h-1zM1093 464h1v1h-1zM1093 463h1v1h-1zM1093 462h1v1h-1zM1093 461h1v1h-1zM1093 460h1v1h-1zM1093 459h1v1h-1zM1094 458h1v1h-1zM1094 457h1v1h-1zM1094 456h1v1h-1zM1094 455h1v1h-1zM1094 454h1v1h-1zM1095 453h1v1h-1zM1095 452h1v1h-1zM1095 451h1v1h-1zM1095 450h1v1h-1zM1095 449h1v1h-1zM1095 448h1v1h-1zM1096 447h1v1h-1zM1096 446h1v1h-1zM1096 445h1v1h-1zM1096 444h1v1h-1zM1096 443h1v1h-1zM1096 442h1v1h-1zM1097 441h1v1h-1zM1097 440h1v1h-1zM1097 439h1v1h-1zM1097 438h1v1h-1zM1097 437h1v1h-1zM1097 436h1v1h-1zM1098 435h1v1h-1zM1098 434h1v1h-1zM1098 433h1v1h-1zM1098 432h1v1h-1zM1098 431h1v1h-1zM1099 430h1v1h-1zM1099 429h1v1h-1zM1099 428h1v1h-1zM1099 427h1v1h-1zM1100 426h1v1h-1zM1100 425h1v1h-1zM1100 424h1v1h-1zM1100 423h1v1h-1zM1101 422h1v1h-1zM1101 421h1v1h-1zM1101 420h1v1h-1zM1101 419h1v1h-1zM1102 418h1v1h-1zM1102 417h1v1h-1zM1102 416h1v1h-1zM1102 415h1v1h-1zM1103 414h1v1h-1zM1103 413h1v1h-1zM1103 412h1v1h-1zM1103 411h1v1h-1zM1104 410h1v1h-1zM1104 409h1v1h-1zM1104 408h1v1h-1zM1104 407h1v1h-1zM1105 406h1v1h-1zM1105 405h1v1h-1zM1105 404h1v1h-1zM1105 403h1v1h-1zM1106 402h1v1h-1zM1106 401h1v1h-1zM1106 400h1v1h-1zM1106 399h1v1h-1zM1106 398h1v1h-1zM1107 397h1v1h-1zM1107 396h1v1h-1zM1107 395h1v1h-1zM1107 394h1v1h-1zM1107 393h1v1h-1zM1108 392h1v1h-1zM1108 391h1v1h-1zM1108 390h1v1h-1zM1108 389h1v1h-1zM1109 388h1v1h-1zM1109 387h1v1h-1zM1109 386h1v1h-1zM1109 385h1v1h-1zM1109 384h1v1h-1zM1110 383h1v1h-1zM1110 382h1v1h-1zM1110 381h1v1h-1zM1110 380h1v1h-1zM1110 379h1v1h-1zM1111 378h1v1h-1zM1111 377h1v1h-1zM1111 376h1v1h-1zM1111 375h1v1h-1zM1111 374h1v1h-1zM1112 373h1v1h-1zM1112 372h1v1h-1zM1112 371h1v1h-1zM1112 370h1v1h-1zM1113 369h1v1h-1zM1113 368h1v1h-1zM1113 367h1v1h-1zM1113 366h1v1h-1zM1113 365h1v1h-1zM1114 364h1v1h-1zM1114 363h1v1h-1zM1114 362h1v1h-1zM1114 361h1v1h-1zM1114 360h1v1h-1zM1115 359h1v1h-1zM1115 358h1v1h-1zM1115 357h1v1h-1zM1115 356h1v1h-1zM1116 355h1v1h-1zM1116 354h1v1h-1zM1116 353h1v1h-1zM1116 352h1v1h-1zM1117 351h1v1h-1zM1117 350h1v1h-1zM1117 349h1v1h-1zM1117 348h1v1h-1zM1118 347h1v1h-1zM1118 346h1v1h-1zM1118 345h1v1h-1zM1118 344h1v1h-1zM1119 343h1v1h-1zM1119 342h1v1h-1zM1119 341h1v1h-1zM1119 340h1v1h-1zM1120 339h1v1h-1zM1120 338h1v1h-1zM1120 337h1v1h-1zM1120 336h1v1h-1zM1121 335h1v1h-1zM1121 334h1v1h-1zM1121 333h1v1h-1zM1121 332h1v1h-1zM1122 331h1v1h-1zM1122 330h1v1h-1zM1122 329h1v1h-1zM1122 328h1v1h-1zM1122 327h1v1h-1zM1122 326h1v1h-1zM1123 325h1v1h-1zM1123 324h1v1h-1zM1123 323h1v1h-1zM1123 322h1v1h-1zM1123 321h1v1h-1zM1123 320h1v1h-1zM1124 319h1v1h-1zM1124 318h1v1h-1zM1124 317h1v1h-1zM1124 316h1v1h-1zM1124 315h1v1h-1zM1124 314h1v1h-1zM1125 313h1v1h-1zM1125 312h1v1h-1zM1125 311h1v1h-1zM1125 310h1v1h-1zM1125 309h1v1h-1zM1125 308h1v1h-1zM1126 307h1v1h-1zM1126 306h1v1h-1zM1126 305h1v1h-1zM1126 304h1v1h-1zM1126 303h1v1h-1zM1126 302h1v1h-1zM1126 301h1v1h-1zM1127 300h1v1h-1zM1127 299h1v1h-1zM1127 298h1v1h-1zM1127 297h1v1h-1zM1127 296h1v1h-1zM1127 295h1v1h-1zM1128 294h1v1h-1zM1128 293h1v1h-1zM1128 292h1v1h-1zM1128 291h1v1h-1zM1128 290h1v1h-1zM1128 289h1v1h-1zM1129 288h1v1h-1zM1129 287h1v1h-1zM1129 286h1v1h-1zM1129 285h1v1h-1zM1129 284h1v1h-1zM1129 283h1v1h-1zM1130 282h1v1h-1zM1130 281h1v1h-1zM1130 280h1v1h-1zM1130 279h1v1h-1zM1130 278h1v1h-1zM1130 277h1v1h-1zM1130 276h1v1h-1zM1131 275h1v1h-1zM1131 274h1v1h-1zM1131 273h1v1h-1zM1131 272h1v1h-1zM1131 271h1v1h-1zM1131 270h1v1h-1zM1132 269h1v1h-1zM1132 268h1v1h-1zM1132 267h1v1h-1zM1132 266h1v1h-1zM1132 265h1v1h-1zM1132 264h1v1h-1zM1133 263h1v1h-1zM1133 262h1v1h-1zM1133 261h1v1h-1zM1133 260h1v1h-1zM1133 259h1v1h-1zM1133 258h1v1h-1zM1134 257h1v1h-1zM1134 256h1v1h-1zM1134 255h1v1h-1zM1134 254h1v1h-1zM1134 253h1v1h-1zM1134 252h1v1h-1zM1134 251h1v1h-1zM1135 250h1v1h-1zM1135 249h1v1h-1zM1135 248h1v1h-1zM1135 247h1v1h-1zM1135 246h1v1h-1zM1135 245h1v1h-1zM1136 244h1v1h-1zM1136 243h1v1h-1zM1136 242h1v1h-1zM1136 241h1v1h-1zM1136 240h1v1h-1zM1136 239h1v1h-1zM1137 238h1v1h-1zM1137 237h1v1h-1zM1137 236h1v1h-1zM1137 235h1v1h-1zM1137 234h1v1h-1zM1137 233h1v1h-1zM1138 232h1v1h-1zM1138 231h1v1h-1zM1138 230h1v1h-1zM1138 229h1v1h-1zM1138 228h1v1h-1zM1138 227h1v1h-1zM1139 226h1v1h-1zM1139 225h1v1h-1zM1139 224h1v1h-1zM1139 223h1v1h-1zM1140 222h1v1h-1zM1140 221h1v1h-1zM1140 220h1v1h-1zM1140 219h1v1h-1zM1141 218h1v1h-1zM1141 217h1v1h-1zM1141 216h1v1h-1zM1141 215h1v1h-1zM1142 214h1v1h-1zM1142 213h1v1h-1zM1142 212h1v1h-1zM1142 211h1v1h-1zM1142 210h1v1h-1zM1143 209h1v1h-1zM1143 208h1v1h-1zM1143 207h1v1h-1zM1143 206h1v1h-1zM1144 205h1v1h-1zM1144 204h1v1h-1zM1144 203h1v1h-1zM1144 202h1v1h-1zM1145 201h1v1h-1zM1145 200h1v1h-1zM1145 199h1v1h-1zM1145 198h1v1h-1zM1146 197h1v1h-1zM1146 196h1v1h-1zM1146 195h1v1h-1zM1146 194h1v1h-1zM1146 193h1v1h-1zM1147 192h1v1h-1zM1147 191h1v1h-1zM1147 190h1v1h-1zM1147 189h1v1h-1zM1147 188h1v1h-1zM1148 187h1v1h-1zM1148 186h1v1h-1zM1148 185h1v1h-1zM1148 184h1v1h-1zM1149 183h1v1h-1zM1149 182h1v1h-1zM1149 181h1v1h-1zM1149 180h1v1h-1zM1149 179h1v1h-1zM1150 178h1v1h-1zM1150 177h1v1h-1zM1150 176h1v1h-1zM1150 175h1v1h-1zM1150 174h1v1h-1zM1151 173h1v1h-1zM1151 172h1v1h-1zM1151 171h1v1h-1zM1151 170h1v1h-1zM1151 169h1v1h-1zM1152 168h1v1h-1zM1152 167h1v1h-1zM1152 166h1v1h-1zM1152 165h1v1h-1zM1153 164h1v1h-1zM1153 163h1v1h-1zM1153 162h1v1h-1zM1153 161h1v1h-1zM1153 160h1v1h-1zM1154 159h1v1h-1zM1154 158h1v1h-1zM1154 157h1v1h-1zM1154 156h1v1h-1zM1154 155h1v1h-1zM1155 154h1v1h-1zM1155 153h1v1h-1zM1155 152h1v1h-1zM1155 151h1v1h-1zM1155 150h1v1h-1zM1155 149h1v1h-1zM1156 148h1v1h-1zM1156 147h1v1h-1zM1156 146h1v1h-1zM1156 145h1v1h-1zM1156 144h1v1h-1zM1156 143h1v1h-1zM1157 142h1v1h-1zM1157 141h1v1h-1zM1157 140h1v1h-1zM1157 139h1v1h-1zM1157 138h1v1h-1zM1158 137h1v1h-1zM1158 136h1v1h-1zM1158 135h1v1h-1zM1158 134h1v1h-1zM1158 133h1v1h-1zM1158 132h1v1h-1zM1159 131h1v1h-1zM1159 130h1v1h-1zM1159 129h1v1h-1zM1159 128h1v1h-1zM1159 127h1v1h-1zM1160 126h1v1h-1zM1160 125h1v1h-1zM1160 124h1v1h-1zM1160 123h1v1h-1zM1160 122h1v1h-1zM1160 121h1v1h-1zM1161 120h1v1h-1zM1161 119h1v1h-1zM1161 118h1v1h-1zM1161 117h1v1h-1zM1161 116h1v1h-1zM1161 115h1v1h-1zM1162 114h1v1h-1zM1162 113h1v1h-1zM1162 112h1v1h-1zM1162 111h1v1h-1zM1162 110h1v1h-1zM1163 109h1v1h-1zM1163 108h1v1h-1zM1163 107h1v1h-1zM1163 106h1v1h-1zM1164 105h1v1h-1zM1164 104h1v1h-1zM1164 103h1v1h-1zM1164 102h1v1h-1zM1164 101h1v1h-1zM1165 100h1v1h-1zM1165 99h1v1h-1zM1165 98h1v1h-1zM1165 97h1v1h-1zM1166 96h1v1h-1zM1166 95h1v1h-1zM1166 94h1v1h-1zM1166 93h1v1h-1zM1166 92h1v1h-1zM1167 91h1v1h-1zM1167 90h1v1h-1zM1167 89h1v1h-1zM1167 88h1v1h-1zM1168 87h1v1h-1zM1168 86h1v1h-1zM1168 85h1v1h-1zM1168 84h1v1h-1zM1168 83h1v1h-1zM1169 82h1v1h-1zM1169 81h1v1h-1zM1169 80h1v1h-1zM1385 80h2v1h-2zM1169 79h1v1h-1zM1383 79h2v1h-2zM1387 79h1v1h-1zM1170 78h1v1h-1zM1381 78h2v1h-2zM1387 78h1v1h-1zM1170 77h1v1h-1zM1338 77h11v1h-11zM1379 77h2v1h-2zM1388 77h1v1h-1zM1170 76h1v1h-1zM1337 76h1v1h-1zM1349 76h4v1h-4zM1378 76h1v1h-1zM1388 76h1v1h-1zM1170 75h1v1h-1zM1337 75h1v1h-1zM1353 75h3v1h-3zM1376 75h2v1h-2zM1389 75h1v1h-1zM1170 74h1v1h-1zM1336 74h1v1h-1zM1356 74h3v1h-3zM1374 74h2v1h-2zM1389 74h1v1h-1zM1171 73h1v1h-1zM1336 73h1v1h-1zM1359 73h2v1h-2zM1373 73h1v1h-1zM1390 73h1v1h-1zM1171 72h1v1h-1zM1335 72h1v1h-1zM1361 72h6v1h-6zM1371 72h2v1h-2zM1390 72h1v1h-1zM1171 71h1v1h-1zM1335 71h1v1h-1zM1367 71h4v1h-4zM1391 71h1v1h-1zM1171 70h1v1h-1zM1334 70h1v1h-1zM1391 70h1v1h-1zM1172 69h1v1h-1zM1282 69h1v1h-1zM1333 69h1v1h-1zM1392 69h1v1h-1zM1172 68h1v1h-1zM1281 68h1v1h-1zM1283 68h2v1h-2zM1333 68h1v1h-1zM1392 68h1v1h-1zM1172 67h1v1h-1zM1281 67h1v1h-1zM1285 67h2v1h-2zM1332 67h1v1h-1zM1393 67h1v1h-1zM1172 66h1v1h-1zM1280 66h1v1h-1zM1287 66h1v1h-1zM1322 66h2v1h-2zM1332 66h1v1h-1zM1393 66h1v1h-1zM1172 65h1v1h-1zM1279 65h1v1h-1zM1288 65h2v1h-2zM1321 65h1v1h-1zM1324 65h3v1h-3zM1331 65h1v1h-1zM1394 65h1v1h-1zM1173 64h1v1h-1zM1278 64h1v1h-1zM1290 64h5v1h-5zM1321 64h1v1h-1zM1327 64h2v1h-2zM1331 64h1v1h-1zM1394 64h1v1h-1zM1173 63h1v1h-1zM1278 63h1v1h-1zM1295 63h5v1h-5zM1320 63h1v1h-1zM1329 63h2v1h-2zM1173 62h1v1h-1zM1277 62h1v1h-1zM1300 62h2v1h-2zM1319 62h1v1h-1zM1173 61h1v1h-1zM1276 61h1v1h-1zM1302 61h2v1h-2zM1318 61h1v1h-1zM1174 60h1v1h-1zM1275 60h1v1h-1zM1304 60h2v1h-2zM1318 60h1v1h-1zM1174 59h1v1h-1zM1275 59h1v1h-1zM1306 59h2v1h-2zM1317 59h1v1h-1zM1174 58h1v1h-1zM1274 58h1v1h-1zM1308 58h2v1h-2zM1316 58h1v1h-1zM1174 57h1v1h-1zM1273 57h1v1h-1zM1310 57h2v1h-2zM1315 57h1v1h-1zM1174 56h1v1h-1zM1273 56h1v1h-1zM1312 56h2v1h-2zM1315 56h1v1h-1zM1175 55h1v1h-1zM1272 55h1v1h-1zM1314 55h1v1h-1zM1175 54h1v1h-1zM1272 54h1v1h-1zM1175 53h1v1h-1zM1271 53h1v1h-1zM1175 52h1v1h-1zM1270 52h1v1h-1zM1176 51h1v1h-1zM1270 51h1v1h-1zM1176 50h1v1h-1zM1269 50h1v1h-1zM1176 49h1v1h-1zM1250 49h1v1h-1zM1268 49h1v1h-1zM1176 48h1v1h-1zM1248 48h2v1h-2zM1251 48h1v1h-1zM1268 48h1v1h-1zM1176 47h1v1h-1zM1246 47h2v1h-2zM1252 47h1v1h-1zM1267 47h1v1h-1zM1177 46h1v1h-1zM1245 46h1v1h-1zM1253 46h1v1h-1zM1267 46h1v1h-1zM1177 45h1v1h-1zM1243 45h2v1h-2zM1254 45h1v1h-1zM1266 45h1v1h-1zM1177 44h1v1h-1zM1242 44h1v1h-1zM1254 44h1v1h-1zM1264 44h2v1h-2zM1177 43h1v1h-1zM1241 43h1v1h-1zM1255 43h1v1h-1zM1262 43h2v1h-2zM1178 42h1v1h-1zM1241 42h1v1h-1zM1256 42h1v1h-1zM1261 42h1v1h-1zM1178 41h1v1h-1zM1240 41h1v1h-1zM1257 41h1v1h-1zM1259 41h2v1h-2zM1178 40h1v1h-1zM1239 40h1v1h-1zM1258 40h1v1h-1zM1179 39h2v1h-2zM1208 39h5v1h-5zM1239 39h1v1h-1zM1181 38h2v1h-2zM1204 38h4v1h-4zM1213 38h4v1h-4zM1238 38h1v1h-1zM1183 37h1v1h-1zM1201 37h3v1h-3zM1217 37h2v1h-2zM1237 37h1v1h-1zM1184 36h2v1h-2zM1198 36h3v1h-3zM1219 36h2v1h-2zM1237 36h1v1h-1zM1186 35h5v1h-5zM1196 35h2v1h-2zM1221 35h1v1h-1zM1236 35h1v1h-1zM1191 34h5v1h-5zM1222 34h1v1h-1zM1235 34h1v1h-1zM1223 33h2v1h-2zM1235 33h1v1h-1zM1225 32h1v1h-1zM1230 32h5v1h-5zM1226 31h4v1h-4z" fill="#72D233"/>
</g>
<g clip-path="url(#cm)">
<rect x="3" y="15" width="1680" height="2" fill="#1E90FF"/>
<rect x="3" y="229" width="1680" height="2" fill="#1E90FF"/>
<rect x="3" y="329" width="1680" height="2" fill="#1E90FF"/>
<rect x="3" y="454" width="1680" height="2" fill="#1E90FF"/>
<rect x="3" y="693" width="1680" height="2" fill="#1E90FF"/>
<path d="M1050 647h1v1h-1zM1051 646h1v1h-1zM1052 645h2v1h-2zM1054 644h1v1h-1zM1055 643h1v1h-1zM1056 642h1v1h-1zM1057 641h2v1h-2zM1059 640h1v1h-1zM1060 639h1v1h-1zM1061 638h1v1h-1zM1062 637h2v1h-2zM1064 636h1v1h-1zM1065 635h1v1h-1zM1066 634h1v1h-1zM1067 633h2v1h-2zM1069 632h1v1h-1zM1070 631h1v1h-1zM1071 630h1v1h-1zM1072 629h2v1h-2zM1074 628h1v1h-1zM1075 627h1v1h-1zM1076 626h1v1h-1zM1077 625h2v1h-2zM1079 624h1v1h-1zM1080 623h1v1h-1zM1081 622h1v1h-1zM1082 621h2v1h-2zM1084 620h1v1h-1zM1085 619h1v1h-1zM1086 618h1v1h-1zM1087 617h2v1h-2zM1089 616h1v1h-1zM1090 615h1v1h-1zM1091 614h1v1h-1zM1092 613h2v1h-2zM1094 612h1v1h-1zM1095 611h1v1h-1zM1096 610h1v1h-1zM1097 609h2v1h-2zM1099 608h1v1h-1zM1100 607h1v1h-1zM1101 606h1v1h-1zM1102 605h2v1h-2zM1104 604h1v1h-1zM1105 603h1v1h-1zM1106 602h1v1h-1zM1107 601h2v1h-2zM1109 600h1v1h-1zM1110 599h1v1h-1zM1111 598h1v1h-1zM1112 597h2v1h-2zM1114 596h1v1h-1zM1115 595h1v1h-1zM1116 594h1v1h-1zM1117 593h2v1h-2zM1119 592h1v1h-1zM1120 591h1v1h-1zM1121 590h2v1h-2zM1123 589h1v1h-1zM1124 588h1v1h-1zM1125 587h1v1h-1zM1126 586h2v1h-2zM1128 585h1v1h-1zM1129 584h1v1h-1zM1130 583h1v1h-1zM1131 582h2v1h-2zM1133 581h1v1h-1zM1134 580h1v1h-1zM1135 579h1v1h-1zM1136 578h2v1h-2zM1138 577h1v1h-1zM1139 576h1v1h-1zM1140 575h1v1h-1zM1141 574h2v1h-2zM1143 573h1v1h-1zM1144 572h1v1h-1zM1145 571h1v1h-1zM1146 570h2v1h-2zM1148 569h1v1h-1zM1149 568h1v1h-1zM1150 567h1v1h-1zM1151 566h2v1h-2zM1153 565h1v1h-1zM1154 564h1v1h-1zM1155 563h1v1h-1zM1156 562h2v1h-2zM1158 561h1v1h-1zM1159 560h1v1h-1zM1160 559h1v1h-1zM1161 558h2v1h-2zM1163 557h1v1h-1zM1164 556h1v1h-1zM1165 555h1v1h-1zM1166 554h2v1h-2zM1168 553h1v1h-1zM1169 552h1v1h-1zM1170 551h1v1h-1zM1171 550h2v1h-2zM1173 549h1v1h-1zM1174 548h1v1h-1zM1175 547h1v1h-1zM1176 546h2v1h-2zM1178 545h1v1h-1zM1179 544h1v1h-1zM1180 543h1v1h-1zM1181 542h2v1h-2zM1183 541h1v1h-1zM1184 540h1v1h-1zM1185 539h1v1h-1zM1186 538h2v1h-2zM1188 537h1v1h-1zM1189 536h1v1h-1zM1190 535h1v1h-1zM1191 534h2v1h-2zM1193 533h1v1h-1zM1194 532h1v1h-1zM1195 531h1v1h-1zM1196 530h2v1h-2zM1198 529h1v1h-1zM1199 528h1v1h-1zM1200 527h1v1h-1zM1201 526h2v1h-2zM1203 525h1v1h-1zM1204 524h1v1h-1zM1205 523h1v1h-1zM1206 522h2v1h-2zM1208 521h1v1h-1zM1209 520h1v1h-1zM1210 519h1v1h-1zM1211 518h2v1h-2zM1213 517h1v1h-1zM1214 516h1v1h-1zM1215 515h1v1h-1zM1216 514h2v1h-2zM1218 513h1v1h-1zM1219 512h1v1h-1zM1220 511h1v1h-1zM1221 510h2v1h-2zM1223 509h1v1h-1zM1224 508h1v1h-1zM1225 507h1v1h-1zM1226 506h2v1h-2zM1228 505h1v1h-1zM1229 504h1v1h-1zM1230 503h1v1h-1zM1231 502h2v1h-2zM1233 501h1v1h-1zM1234 500h1v1h-1zM1235 499h1v1h-1zM1236 498h2v1h-2zM1238 497h1v1h-1zM1239 496h1v1h-1zM1240 495h1v1h-1zM1241 494h2v1h-2zM1243 493h1v1h-1zM1244 492h1v1h-1zM1245 491h1v1h-1zM1246 490h2v1h-2zM1248 489h1v1h-1zM1249 488h1v1h-1zM1250 487h1v1h-1zM1251 486h2v1h-2zM1253 485h1v1h-1zM1254 484h1v1h-1zM1255 483h1v1h-1zM1256 482h2v1h-2zM1258 481h1v1h-1zM1259 480h1v1h-1zM1260 479h2v1h-2zM1262 478h1v1h-1zM1263 477h1v1h-1zM1264 476h1v1h-1zM1265 475h2v1h-2zM1267 474h1v1h-1zM1268 473h1v1h-1zM1269 472h1v1h-1zM1270 471h2v1h-2zM1272 470h1v1h-1zM1273 469h1v1h-1zM1274 468h1v1h-1zM1275 467h2v1h-2zM1277 466h1v1h-1zM1278 465h1v1h-1zM1279 464h1v1h-1zM1280 463h2v1h-2zM1282 462h1v1h-1zM1283 461h1v1h-1zM1284 460h1v1h-1zM1285 459h2v1h-2zM1287 458h1v1h-1zM1288 457h1v1h-1zM1289 456h1v1h-1zM1290 455h2v1h-2zM1292 454h1v1h-1zM1293 453h1v1h-1zM1294 452h1v1h-1zM1295 451h2v1h-2zM1297 450h1v1h-1zM1298 449h1v1h-1zM1299 448h1v1h-1zM1300 447h2v1h-2zM1302 446h1v1h-1zM1303 445h1v1h-1zM1304 444h1v1h-1zM1305 443h2v1h-2zM1307 442h1v1h-1zM1308 441h1v1h-1zM1309 440h1v1h-1zM1310 439h2v1h-2zM1312 438h1v1h-1zM1313 437h1v1h-1zM1314 436h1v1h-1zM1315 435h2v1h-2zM1317 434h1v1h-1zM1318 433h1v1h-1zM1319 432h1v1h-1zM1320 431h2v1h-2zM1322 430h1v1h-1zM1323 429h1v1h-1zM1324 428h1v1h-1zM1325 427h2v1h-2zM1327 426h1v1h-1zM1328 425h1v1h-1zM1329 424h1v1h-1zM1330 423h2v1h-2zM1332 422h1v1h-1zM1333 421h1v1h-1zM1334 420h1v1h-1zM1335 419h2v1h-2zM1337 418h1v1h-1zM1338 417h1v1h-1zM1339 416h1v1h-1zM1340 415h2v1h-2zM1342 414h1v1h-1zM1343 413h1v1h-1zM1344 412h1v1h-1zM1345 411h2v1h-2zM1347 410h1v1h-1zM1348 409h1v1h-1zM1349 408h1v1h-1zM1350 407h2v1h-2zM1352 406h1v1h-1zM1353 405h1v1h-1zM1354 404h1v1h-1zM1355 403h2v1h-2zM1357 402h1v1h-1zM1358 401h1v1h-1zM1359 400h1v1h-1zM1360 399h2v1h-2zM1362 398h1v1h-1zM1363 397h1v1h-1zM1364 396h1v1h-1zM1365 395h2v1h-2zM1367 394h1v1h-1zM1368 393h1v1h-1zM1369 392h1v1h-1zM1370 391h2v1h-2zM1372 390h1v1h-1zM1373 389h1v1h-1zM1374 388h1v1h-1zM1375 387h2v1h-2zM1377 386h1v1h-1zM1378 385h1v1h-1zM1379 384h1v1h-1zM1380 383h2v1h-2zM1382 382h1v1h-1zM1383 381h1v1h-1zM1384 380h1v1h-1zM1385 379h2v1h-2zM1387 378h1v1h-1zM1388 377h1v1h-1zM1389 376h1v1h-1zM1390 375h2v1h-2zM1392 374h1v1h-1zM1393 373h1v1h-1zM1394 372h1v1h-1zM1395 371h2v1h-2zM1397 370h1v1h-1zM1398 369h1v1h-1zM1399 368h1v1h-1zM1400 367h2v1h-2zM1402 366h1v1h-1zM1403 365h1v1h-1zM1404 364h2v1h-2zM1406 363h1v1h-1zM1407 362h1v1h-1zM1408 361h1v1h-1zM1409 360h2v1h-2zM1411 359h1v1h-1zM1412 358h1v1h-1zM1413 357h1v1h-1zM1414 356h2v1h-2zM1416 355h1v1h-1zM1417 354h1v1h-1zM1418 353h1v1h-1zM1419 352h2v1h-2zM1421 351h1v1h-1zM1422 350h1v1h-1zM1423 349h1v1h-1zM1424 348h2v1h-2zM1426 347h1v1h-1zM1427 346h1v1h-1zM1428 345h1v1h-1zM1429 344h2v1h-2zM1431 343h1v1h-1zM1432 342h1v1h-1zM1433 341h1v1h-1zM1434 340h2v1h-2zM1436 339h1v1h-1zM1437 338h1v1h-1zM1438 337h1v1h-1zM1439 336h2v1h-2zM1441 335h1v1h-1zM1442 334h1v1h-1zM1443 333h1v1h-1zM1444 332h2v1h-2zM1446 331h1v1h-1zM1447 330h1v1h-1zM1448 329h1v1h-1zM1449 328h2v1h-2zM1451 327h1v1h-1zM1452 326h1v1h-1zM1453 325h1v1h-1zM1454 324h2v1h-2zM1456 323h1v1h-1zM1457 322h1v1h-1zM1458 321h1v1h-1zM1459 320h2v1h-2zM1461 319h1v1h-1zM1462 318h1v1h-1zM1463 317h1v1h-1zM1464 316h2v1h-2zM1466 315h1v1h-1zM1467 314h1v1h-1zM1468 313h1v1h-1zM1469 312h2v1h-2zM1471 311h1v1h-1zM1472 310h1v1h-1zM1473 309h1v1h-1zM1474 308h2v1h-2zM1476 307h1v1h-1zM1477 306h1v1h-1zM1478 305h1v1h-1zM1479 304h2v1h-2zM1481 303h1v1h-1zM1482 302h1v1h-1zM1483 301h1v1h-1zM1484 300h2v1h-2zM1486 299h1v1h-1zM1487 298h1v1h-1zM1488 297h1v1h-1zM1489 296h2v1h-2zM1491 295h1v1h-1zM1492 294h1v1h-1zM1493 293h1v1h-1zM1494 292h2v1h-2zM1496 291h1v1h-1zM1497 290h1v1h-1zM1498 289h1v1h-1zM1499 288h2v1h-2zM1501 287h1v1h-1zM1502 286h1v1h-1zM1503 285h1v1h-1zM1504 284h2v1h-2zM1506 283h1v1h-1zM1507 282h1v1h-1zM1508 281h1v1h-1zM1509 280h2v1h-2zM1511 279h1v1h-1zM1512 278h1v1h-1zM1513 277h1v1h-1zM1514 276h2v1h-2zM1516 275h1v1h-1zM1517 274h1v1h-1zM1518 273h1v1h-1zM1519 272h2v1h-2zM1521 271h1v1h-1zM1522 270h1v1h-1zM1523 269h1v1h-1zM1524 268h2v1h-2zM1526 267h1v1h-1zM1527 266h1v1h-1zM1528 265h1v1h-1zM1529 264h2v1h-2zM1531 263h1v1h-1zM1532 262h1v1h-1zM1533 261h1v1h-1zM1534 260h2v1h-2zM1536 259h1v1h-1zM1537 258h1v1h-1zM1538 257h1v1h-1zM1539 256h2v1h-2zM1541 255h1v1h-1zM1542 254h1v1h-1zM1543 253h2v1h-2zM1545 252h1v1h-1zM1546 251h1v1h-1zM1547 250h1v1h-1zM1548 249h2v1h-2zM1550 248h1v1h-1zM1551 247h1v1h-1zM1552 246h1v1h-1zM1553 245h2v1h-2zM1555 244h1v1h-1zM1556 243h1v1h-1zM1557 242h1v1h-1zM1558 241h2v1h-2zM1560 240h1v1h-1zM1561 239h1v1h-1zM1562 238h1v1h-1zM1563 237h2v1h-2zM1565 236h1v1h-1zM1566 235h1v1h-1zM1567 234h1v1h-1zM1568 233h2v1h-2zM1570 232h1v1h-1zM1571 231h1v1h-1zM1572 230h1v1h-1zM1573 229h2v1h-2zM1575 228h1v1h-1zM1576 227h1v1h-1zM1577 226h1v1h-1zM1578 225h2v1h-2zM1580 224h1v1h-1zM1581 223h1v1h-1zM1582 222h1v1h-1zM1583 221h2v1h-2zM1585 220h1v1h-1zM1586 219h1v1h-1zM1587 218h1v1h-1zM1588 217h2v1h-2zM1590 216h1v1h-1zM1591 215h1v1h-1zM1592 214h1v1h-1zM1593 213h2v1h-2zM1595 212h1v1h-1zM1596 211h1v1h-1zM1597 210h1v1h-1zM1598 209h2v1h-2zM1600 208h1v1h-1zM1601 207h1v1h-1zM1602 206h1v1h-1zM1603 205h2v1h-2zM1605 204h1v1h-1zM1606 203h1v1h-1zM1607 202h1v1h-1zM1608 201h2v1h-2zM1610 200h1v1h-1zM1611 199h1v1h-1z" fill="#9122C8"/>
<path d="M1050 648h1v1h-1zM1051 647h1v1h-1zM1052 646h2v1h-2zM1054 645h1v1h-1zM1055 644h1v1h-1zM1056 643h1v1h-1zM1057 642h2v1h-2zM1059 641h1v1h-1zM1060 640h1v1h-1zM1061 639h1v1h-1zM1062 638h2v1h-2zM1064 637h1v1h-1zM1065 636h1v1h-1zM1066 635h1v1h-1zM1067 634h2v1h-2zM1069 633h1v1h-1zM1070 632h1v1h-1zM1071 631h1v1h-1zM1072 630h2v1h-2zM1074 629h1v1h-1zM1075 628h1v1h-1zM1076 627h1v1h-1zM1077 626h2v1h-2zM1079 625h1v1h-1zM1080 624h1v1h-1zM1081 623h1v1h-1zM1082 622h2v1h-2zM1084 621h1v1h-1zM1085 620h1v1h-1zM1086 619h1v1h-1zM1087 618h2v1h-2zM1089 617h1v1h-1zM1090 616h1v1h-1zM1091 615h1v1h-1zM1092 614h2v1h-2zM1094 613h1v1h-1zM1095 612h1v1h-1zM1096 611h1v1h-1zM1097 610h2v1h-2zM1099 609h1v1h-1zM1100 608h1v1h-1zM1101 607h1v1h-1zM1102 606h2v1h-2zM1104 605h1v1h-1zM1105 604h1v1h-1zM1106 603h1v1h-1zM1107 602h2v1h-2zM1109 601h1v1h-1zM1110 600h1v1h-1zM1111 599h1v1h-1zM1112 598h2v1h-2zM1114 597h1v1h-1zM1115 596h1v1h-1zM1116 595h1v1h-1zM1117 594h2v1h-2zM1119 593h1v1h-1zM1120 592h1v1h-1zM1121 591h2v1h-2zM1123 590h1v1h-1zM1124 589h1v1h-1zM1125 588h1v1h-1zM1126 587h2v1h-2zM1128 586h1v1h-1zM1129 585h1v1h-1zM1130 584h1v1h-1zM1131 583h2v1h-2zM1133 582h1v1h-1zM1134 581h1v1h-1zM1135 580h1v1h-1zM1136 579h2v1h-2zM1138 578h1v1h-1zM1139 577h1v1h-1zM1140 576h1v1h-1zM1141 575h2v1h-2zM1143 574h1v1h-1zM1144 573h1v1h-1zM1145 572h1v1h-1zM1146 571h2v1h-2zM1148 570h1v1h-1zM1149 569h1v1h-1zM1150 568h1v1h-1zM1151 567h2v1h-2zM1153 566h1v1h-1zM1154 565h1v1h-1zM1155 564h1v1h-1zM1156 563h2v1h-2zM1158 562h1v1h-1zM1159 561h1v1h-1zM1160 560h1v1h-1zM1161 559h2v1h-2zM1163 558h1v1h-1zM1164 557h1v1h-1zM1165 556h1v1h-1zM1166 555h2v1h-2zM1168 554h1v1h-1zM1169 553h1v1h-1zM1170 552h1v1h-1zM1171 551h2v1h-2zM1173 550h1v1h-1zM1174 549h1v1h-1zM1175 548h1v1h-1zM1176 547h2v1h-2zM1178 546h1v1h-1zM1179 545h1v1h-1zM1180 544h1v1h-1zM1181 543h2v1h-2zM1183 542h1v1h-1zM1184 541h1v1h-1zM1185 540h1v1h-1zM1186 539h2v1h-2zM1188 538h1v1h-1zM1189 537h1v1h-1zM1190 536h1v1h-1zM1191 535h2v1h-2zM1193 534h1v1h-1zM1194 533h1v1h-1zM1195 532h1v1h-1zM1196 531h2v1h-2zM1198 530h1v1h-1zM1199 529h1v1h-1zM1200 528h1v1h-1zM1201 527h2v1h-2zM1203 526h1v1h-1zM1204 525h1v1h-1zM1205 524h1v1h-1zM1206 523h2v1h-2zM1208 522h1v1h-1zM1209 521h1v1h-1zM1210 520h1v1h-1zM1211 519h2v1h-2zM1213 518h1v1h-1zM1214 517h1v1h-1zM1215 516h1v1h-1zM1216 515h2v1h-2zM1218 514h1v1h-1zM1219 513h1v1h-1zM1220 512h1v1h-1zM1221 511h2v1h-2zM1223 510h1v1h-1zM1224 509h1v1h-1zM1225 508h1v1h-1zM1226 507h2v1h-2zM1228 506h1v1h-1zM1229 505h1v1h-1zM1230 504h1v1h-1zM1231 503h2v1h-2zM1233 502h1v1h-1zM1234 501h1v1h-1zM1235 500h1v1h-1zM1236 499h2v1h-2zM1238 498h1v1h-1zM1239 497h1v1h-1zM1240 496h1v1h-1zM1241 495h2v1h-2zM1243 494h1v1h-1zM1244 493h1v1h-1zM1245 492h1v1h-1zM1246 491h2v1h-2zM1248 490h1v1h-1zM1249 489h1v1h-1zM1250 488h1v1h-1zM1251 487h2v1h-2zM1253 486h1v1h-1zM1254 485h1v1h-1zM1255 484h1v1h-1zM1256 483h2v1h-2zM1258 482h1v1h-1zM1259 481h1v1h-1zM1260 480h2v1h-2zM1262 479h1v1h-1zM1263 478h1v1h-1zM1264 477h1v1h-1zM1265 476h2v1h-2zM1267 475h1v1h-1zM1268 474h1v1h-1zM1269 473h1v1h-1zM1270 472h2v1h-2zM1272 471h1v1h-1zM1273 470h1v1h-1zM1274 469h1v1h-1zM1275 468h2v1h-2zM1277 467h1v1h-1zM1278 466h1v1h-1zM1279 465h1v1h-1zM1280 464h2v1h-2zM1282 463h1v1h-1zM1283 462h1v1h-1zM1284 461h1v1h-1zM1285 460h2v1h-2zM1287 459h1v1h-1zM1288 458h1v1h-1zM1289 457h1v1h-1zM1290 456h2v1h-2zM1292 455h1v1h-1zM1293 454h1v1h-1zM1294 453h1v1h-1zM1295 452h2v1h-2zM1297 451h1v1h-1zM1298 450h1v1h-1zM1299 449h1v1h-1zM1300 448h2v1h-2zM1302 447h1v1h-1zM1303 446h1v1h-1zM1304 445h1v1h-1zM1305 444h2v1h-2zM1307 443h1v1h-1zM1308 442h1v1h-1zM1309 441h1v1h-1zM1310 440h2v1h-2zM1312 439h1v1h-1zM1313 438h1v1h-1zM1314 437h1v1h-1zM1315 436h2v1h-2zM1317 435h1v1h-1zM1318 434h1v1h-1zM1319 433h1v1h-1zM1320 432h2v1h-2zM1322 431h1v1h-1zM1323 430h1v1h-1zM1324 429h1v1h-1zM1325 428h2v1h-2zM1327 427h1v1h-1zM1328 426h1v1h-1zM1329 425h1v1h-1zM1330 424h2v1h-2zM1332 423h1v1h-1zM1333 422h1v1h-1zM1334 421h1v1h-1zM1335 420h2v1h-2zM1337 419h1v1h-1zM1338 418h1v1h-1zM1339 417h1v1h-1zM1340 416h2v1h-2zM1342 415h1v1h-1zM1343 414h1v1h-1zM1344 413h1v1h-1zM1345 412h2v1h-2zM1347 411h1v1h-1zM1348 410h1v1h-1zM1349 409h1v1h-1zM1350 408h2v1h-2zM1352 407h1v1h-1zM1353 406h1v1h-1zM1354 405h1v1h-1zM1355 404h2v1h-2zM1357 403h1v1h-1zM1358 402h1v1h-1zM1359 401h1v1h-1zM1360 400h2v1h-2zM1362 399h1v1h-1zM1363 398h1v1h-1zM1364 397h1v1h-1zM1365 396h2v1h-2zM1367 395h1v1h-1zM1368 394h1v1h-1zM1369 393h1v1h-1zM1370 392h2v1h-2zM1372 391h1v1h-1zM1373 390h1v1h-1zM1374 389h1v1h-1zM1375 388h2v1h-2zM1377 387h1v1h-1zM1378 386h1v1h-1zM1379 385h1v1h-1zM1380 384h2v1h-2zM1382 383h1v1h-1zM1383 382h1v1h-1zM1384 381h1v1h-1zM1385 380h2v1h-2zM1387 379h1v1h-1zM1388 378h1v1h-1zM1389 377h1v1h-1zM1390 376h2v1h-2zM1392 375h1v1h-1zM1393 374h1v1h-1zM1394 373h1v1h-1zM1395 372h2v1h-2zM1397 371h1v1h-1zM1398 370h1v1h-1zM1399 369h1v1h-1zM1400 368h2v1h-2zM1402 367h1v1h-1zM1403 366h1v1h-1zM1404 365h2v1h-2zM1406 364h1v1h-1zM1407 363h1v1h-1zM1408 362h1v1h-1zM1409 361h2v1h-2zM1411 360h1v1h-1zM1412 359h1v1h-1zM1413 358h1v1h-1zM1414 357h2v1h-2zM1416 356h1v1h-1zM1417 355h1v1h-1zM1418 354h1v1h-1zM1419 353h2v1h-2zM1421 352h1v1h-1zM1422 351h1v1h-1zM1423 350h1v1h-1zM1424 349h2v1h-2zM1426 348h1v1h-1zM1427 347h1v1h-1zM1428 346h1v1h-1zM1429 345h2v1h-2zM1431 344h1v1h-1zM1432 343h1v1h-1zM1433 342h1v1h-1zM1434 341h2v1h-2zM1436 340h1v1h-1zM1437 339h1v1h-1zM1438 338h1v1h-1zM1439 337h2v1h-2zM1441 336h1v1h-1zM1442 335h1v1h-1zM1443 334h1v1h-1zM1444 333h2v1h-2zM1446 332h1v1h-1zM1447 331h1v1h-1zM1448 330h1v1h-1zM1449 329h2v1h-2zM1451 328h1v1h-1zM1452 327h1v1h-1zM1453 326h1v1h-1zM1454 325h2v1h-2zM1456 324h1v1h-1zM1457 323h1v1h-1zM1458 322h1v1h-1zM1459 321h2v1h-2zM1461 320h1v1h-1zM1462 319h1v1h-1zM1463 318h1v1h-1zM1464 317h2v1h-2zM1466 316h1v1h-1zM1467 315h1v1h-1zM1468 314h1v1h-1zM1469 313h2v1h-2zM1471 312h1v1h-1zM1472 311h1v1h-1zM1473 310h1v1h-1zM1474 309h2v1h-2zM1476 308h1v1h-1zM1477 307h1v1h-1zM1478 306h1v1h-1zM1479 305h2v1h-2zM1481 304h1v1h-1zM1482 303h1v1h-1zM1483 302h1v1h-1zM1484 301h2v1h-2zM1486 300h1v1h-1zM1487 299h1v1h-1zM1488 298h1v1h-1zM1489 297h2v1h-2zM1491 296h1v1h-1zM1492 295h1v1h-1zM1493 294h1v1h-1zM1494 293h2v1h-2zM1496 292h1v1h-1zM1497 291h1v1h-1zM1498 290h1v1h-1zM1499 289h2v1h-2zM1501 288h1v1h-1zM1502 287h1v1h-1zM1503 286h1v1h-1zM1504 285h2v1h-2zM1506 284h1v1h-1zM1507 283h1v1h-1zM1508 282h1v1h-1zM1509 281h2v1h-2zM1511 280h1v1h-1zM1512 279h1v1h-1zM1513 278h1v1h-1zM1514 277h2v1h-2zM1516 276h1v1h-1zM1517 275h1v1h-1zM1518 274h1v1h-1zM1519 273h2v1h-2zM1521 272h1v1h-1zM1522 271h1v1h-1zM1523 270h1v1h-1zM1524 269h2v1h-2zM1526 268h1v1h-1zM1527 267h1v1h-1zM1528 266h1v1h-1zM1529 265h2v1h-2zM1531 264h1v1h-1zM1532 263h1v1h-1zM1533 262h1v1h-1zM1534 261h2v1h-2zM1536 260h1v1h-1zM1537 259h1v1h-1zM1538 258h1v1h-1zM1539 257h2v1h-2zM1541 256h1v1h-1zM1542 255h1v1h-1zM1543 254h2v1h-2zM1545 253h1v1h-1zM1546 252h1v1h-1zM1547 251h1v1h-1zM1548 250h2v1h-2zM1550 249h1v1h-1zM1551 248h1v1h-1zM1552 247h1v1h-1zM1553 246h2v1h-2zM1555 245h1v1h-1zM1556 244h1v1h-1zM1557 243h1v1h-1zM1558 242h2v1h-2zM1560 241h1v1h-1zM1561 240h1v1h-1zM1562 239h1v1h-1zM1563 238h2v1h-2zM1565 237h1v1h-1zM1566 236h1v1h-1zM1567 235h1v1h-1zM1568 234h2v1h-2zM1570 233h1v1h-1zM1571 232h1v1h-1zM1572 231h1v1h-1zM1573 230h2v1h-2zM1575 229h1v1h-1zM1576 228h1v1h-1zM1577 227h1v1h-1zM1578 226h2v1h-2zM1580 225h1v1h-1zM1581 224h1v1h-1zM1582 223h1v1h-1zM1583 222h2v1h-2zM1585 221h1v1h-1zM1586 220h1v1h-1zM1587 219h1v1h-1zM1588 218h2v1h-2zM1590 217h1v1h-1zM1591 216h1v1h-1zM1592 215h1v1h-1zM1593 214h2v1h-2zM1595 213h1v1h-1zM1596 212h1v1h-1zM1597 211h1v1h-1zM1598 210h2v1h-2zM1600 209h1v1h-1zM1601 208h1v1h-1zM1602 207h1v1h-1zM1603 206h2v1h-2zM1605 205h1v1h-1zM1606 204h1v1h-1zM1607 203h1v1h-1zM1608 202h2v1h-2zM1610 201h1v1h-1zM1611 200h1v1h-1z" fill="#9122C8"/>
<path d="M1050 649h1v1h-1zM1051 648h1v1h-1zM1052 647h2v1h-2zM1054 646h1v1h-1zM1055 645h1v1h-1zM1056 644h1v1h-1zM1057 643h2v1h-2zM1059 642h1v1h-1zM1060 641h1v1h-1zM1061 640h1v1h-1zM1062 639h2v1h-2zM1064 638h1v1h-1zM1065 637h1v1h-1zM1066 636h1v1h-1zM1067 635h2v1h-2zM1069 634h1v1h-1zM1070 633h1v1h-1zM1071 632h1v1h-1zM1072 631h2v1h-2zM1074 630h1v1h-1zM1075 629h1v1h-1zM1076 628h1v1h-1zM1077 627h2v1h-2zM1079 626h1v1h-1zM1080 625h1v1h-1zM1081 624h1v1h-1zM1082 623h2v1h-2zM1084 622h1v1h-1zM1085 621h1v1h-1zM1086 620h1v1h-1zM1087 619h2v1h-2zM1089 618h1v1h-1zM1090 617h1v1h-1zM1091 616h1v1h-1zM1092 615h2v1h-2zM1094 614h1v1h-1zM1095 613h1v1h-1zM1096 612h1v1h-1zM1097 611h2v1h-2zM1099 610h1v1h-1zM1100 609h1v1h-1zM1101 608h1v1h-1zM1102 607h2v1h-2zM1104 606h1v1h-1zM1105 605h1v1h-1zM1106 604h1v1h-1zM1107 603h2v1h-2zM1109 602h1v1h-1zM1110 601h1v1h-1zM1111 600h1v1h-1zM1112 599h2v1h-2zM1114 598h1v1h-1zM1115 597h1v1h-1zM1116 596h1v1h-1zM1117 595h2v1h-2zM1119 594h1v1h-1zM1120 593h1v1h-1zM1121 592h2v1h-2zM1123 591h1v1h-1zM1124 590h1v1h-1zM1125 589h1v1h-1zM1126 588h2v1h-2zM1128 587h1v1h-1zM1129 586h1v1h-1zM1130 585h1v1h-1zM1131 584h2v1h-2zM1133 583h1v1h-1zM1134 582h1v1h-1zM1135 581h1v1h-1zM1136 580h2v1h-2zM1138 579h1v1h-1zM1139 578h1v1h-1zM1140 577h1v1h-1zM1141 576h2v1h-2zM1143 575h1v1h-1zM1144 574h1v1h-1zM1145 573h1v1h-1zM1146 572h2v1h-2zM1148 571h1v1h-1zM1149 570h1v1h-1zM1150 569h1v1h-1zM1151 568h2v1h-2zM1153 567h1v1h-1zM1154 566h1v1h-1zM1155 565h1v1h-1zM1156 564h2v1h-2zM1158 563h1v1h-1zM1159 562h1v1h-1zM1160 561h1v1h-1zM1161 560h2v1h-2zM1163 559h1v1h-1zM1164 558h1v1h-1zM1165 557h1v1h-1zM1166 556h2v1h-2zM1168 555h1v1h-1zM1169 554h1v1h-1zM1170 553h1v1h-1zM1171 552h2v1h-2zM1173 551h1v1h-1zM1174 550h1v1h-1zM1175 549h1v1h-1zM1176 548h2v1h-2zM1178 547h1v1h-1zM1179 546h1v1h-1zM1180 545h1v1h-1zM1181 544h2v1h-2zM1183 543h1v1h-1zM1184 542h1v1h-1zM1185 541h1v1h-1zM1186 540h2v1h-2zM1188 539h1v1h-1zM1189 538h1v1h-1zM1190 537h1v1h-1zM1191 536h2v1h-2zM1193 535h1v1h-1zM1194 534h1v1h-1zM1195 533h1v1h-1zM1196 532h2v1h-2zM1198 531h1v1h-1zM1199 530h1v1h-1zM1200 529h1v1h-1zM1201 528h2v1h-2zM1203 527h1v1h-1zM1204 526h1v1h-1zM1205 525h1v1h-1zM1206 524h2v1h-2zM1208 523h1v1h-1zM1209 522h1v1h-1zM1210 521h1v1h-1zM1211 520h2v1h-2zM1213 519h1v1h-1zM1214 518h1v1h-1zM1215 517h1v1h-1zM1216 516h2v1h-2zM1218 515h1v1h-1zM1219 514h1v1h-1zM1220 513h1v1h-1zM1221 512h2v1h-2zM1223 511h1v1h-1zM1224 510h1v1h-1zM1225 509h1v1h-1zM1226 508h2v1h-2zM1228 507h1v1h-1zM1229 506h1v1h-1zM1230 505h1v1h-1zM1231 504h2v1h-2zM1233 503h1v1h-1zM1234 502h1v1h-1zM1235 501h1v1h-1zM1236 500h2v1h-2zM1238 499h1v1h-1zM1239 498h1v1h-1zM1240 497h1v1h-1zM1241 496h2v1h-2zM1243 495h1v1h-1zM1244 494h1v1h-1zM1245 493h1v1h-1zM1246 492h2v1h-2zM1248 491h1v1h-1zM1249 490h1v1h-1zM1250 489h1v1h-1zM1251 488h2v1h-2zM1253 487h1v1h-1zM1254 486h1v1h-1zM1255 485h1v1h-1zM1256 484h2v1h-2zM1258 483h1v1h-1zM1259 482h1v1h-1zM1260 481h2v1h-2zM1262 480h1v1h-1zM1263 479h1v1h-1zM1264 478h1v1h-1zM1265 477h2v1h-2zM1267 476h1v1h-1zM1268 475h1v1h-1zM1269 474h1v1h-1zM1270 473h2v1h-2zM1272 472h1v1h-1zM1273 471h1v1h-1zM1274 470h1v1h-1zM1275 469h2v1h-2zM1277 468h1v1h-1zM1278 467h1v1h-1zM1279 466h1v1h-1zM1280 465h2v1h-2zM1282 464h1v1h-1zM1283 463h1v1h-1zM1284 462h1v1h-1zM1285 461h2v1h-2zM1287 460h1v1h-1zM1288 459h1v1h-1zM1289 458h1v1h-1zM1290 457h2v1h-2zM1292 456h1v1h-1zM1293 455h1v1h-1zM1294 454h1v1h-1zM1295 453h2v1h-2zM1297 452h1v1h-1zM1298 451h1v1h-1zM1299 450h1v1h-1zM1300 449h2v1h-2zM1302 448h1v1h-1zM1303 447h1v1h-1zM1304 446h1v1h-1zM1305 445h2v1h-2zM1307 444h1v1h-1zM1308 443h1v1h-1zM1309 442h1v1h-1zM1310 441h2v1h-2zM1312 440h1v1h-1zM1313 439h1v1h-1zM1314 438h1v1h-1zM1315 437h2v1h-2zM1317 436h1v1h-1zM1318 435h1v1h-1zM1319 434h1v1h-1zM1320 433h2v1h-2zM1322 432h1v1h-1zM1323 431h1v1h-1zM1324 430h1v1h-1zM1325 429h2v1h-2zM1327 428h1v1h-1zM1328 427h1v1h-1zM1329 426h1v1h-1zM1330 425h2v1h-2zM1332 424h1v1h-1zM1333 423h1v1h-1zM1334 422h1v1h-1zM1335 421h2v1h-2zM1337 420h1v1h-1zM1338 419h1v1h-1zM1339 418h1v1h-1zM1340 417h2v1h-2zM1342 416h1v1h-1zM1343 415h1v1h-1zM1344 414h1v1h-1zM1345 413h2v1h-2zM1347 412h1v1h-1zM1348 411h1v1h-1zM1349 410h1v1h-1zM1350 409h2v1h-2zM1352 408h1v1h-1zM1353 407h1v1h-1zM1354 406h1v1h-1zM1355 405h2v1h-2zM1357 404h1v1h-1zM1358 403h1v1h-1zM1359 402h1v1h-1zM1360 401h2v1h-2zM1362 400h1v1h-1zM1363 399h1v1h-1zM1364 398h1v1h-1zM1365 397h2v1h-2zM1367 396h1v1h-1zM1368 395h1v1h-1zM1369 394h1v1h-1zM1370 393h2v1h-2zM1372 392h1v1h-1zM1373 391h1v1h-1zM1374 390h1v1h-1zM1375 389h2v1h-2zM1377 388h1v1h-1zM1378 387h1v1h-1zM1379 386h1v1h-1zM1380 385h2v1h-2zM1382 384h1v1h-1zM1383 383h1v1h-1zM1384 382h1v1h-1zM1385 381h2v1h-2zM1387 380h1v1h-1zM1388 379h1v1h-1zM1389 378h1v1h-1zM1390 377h2v1h-2zM1392 376h1v1h-1zM1393 375h1v1h-1zM1394 374h1v1h-1zM1395 373h2v1h-2zM1397 372h1v1h-1zM1398 371h1v1h-1zM1399 370h1v1h-1zM1400 369h2v1h-2zM1402 368h1v1h-1zM1403 367h1v1h-1zM1404 366h2v1h-2zM1406 365h1v1h-1zM1407 364h1v1h-1zM1408 363h1v1h-1zM1409 362h2v1h-2zM1411 361h1v1h-1zM1412 360h1v1h-1zM1413 359h1v1h-1zM1414 358h2v1h-2zM1416 357h1v1h-1zM1417 356h1v1h-1zM1418 355h1v1h-1zM1419 354h2v1h-2zM1421 353h1v1h-1zM1422 352h1v1h-1zM1423 351h1v1h-1zM1424 350h2v1h-2zM1426 349h1v1h-1zM1427 348h1v1h-1zM1428 347h1v1h-1zM1429 346h2v1h-2zM1431 345h1v1h-1zM1432 344h1v1h-1zM1433 343h1v1h-1zM1434 342h2v1h-2zM1436 341h1v1h-1zM1437 340h1v1h-1zM1438 339h1v1h-1zM1439 338h2v1h-2zM1441 337h1v1h-1zM1442 336h1v1h-1zM1443 335h1v1h-1zM1444 334h2v1h-2zM1446 333h1v1h-1zM1447 332h1v1h-1zM1448 331h1v1h-1zM1449 330h2v1h-2zM1451 329h1v1h-1zM1452 328h1v1h-1zM1453 327h1v1h-1zM1454 326h2v1h-2zM1456 325h1v1h-1zM1457 324h1v1h-1zM1458 323h1v1h-1zM1459 322h2v1h-2zM1461 321h1v1h-1zM1462 320h1v1h-1zM1463 319h1v1h-1zM1464 318h2v1h-2zM1466 317h1v1h-1zM1467 316h1v1h-1zM1468 315h1v1h-1zM1469 314h2v1h-2zM1471 313h1v1h-1zM1472 312h1v1h-1zM1473 311h1v1h-1zM1474 310h2v1h-2zM1476 309h1v1h-1zM1477 308h1v1h-1zM1478 307h1v1h-1zM1479 306h2v1h-2zM1481 305h1v1h-1zM1482 304h1v1h-1zM1483 303h1v1h-1zM1484 302h2v1h-2zM1486 301h1v1h-1zM1487 300h1v1h-1zM1488 299h1v1h-1zM1489 298h2v1h-2zM1491 297h1v1h-1zM1492 296h1v1h-1zM1493 295h1v1h-1zM1494 294h2v1h-2zM1496 293h1v1h-1zM1497 292h1v1h-1zM1498 291h1v1h-1zM1499 290h2v1h-2zM1501 289h1v1h-1zM1502 288h1v1h-1zM1503 287h1v1h-1zM1504 286h2v1h-2zM1506 285h1v1h-1zM1507 284h1v1h-1zM1508 283h1v1h-1zM1509 282h2v1h-2zM1511 281h1v1h-1zM1512 280h1v1h-1zM1513 279h1v1h-1zM1514 278h2v1h-2zM1516 277h1v1h-1zM1517 276h1v1h-1zM1518 275h1v1h-1zM1519 274h2v1h-2zM1521 273h1v1h-1zM1522 272h1v1h-1zM1523 271h1v1h-1zM1524 270h2v1h-2zM1526 269h1v1h-1zM1527 268h1v1h-1zM1528 267h1v1h-1zM1529 266h2v1h-2zM1531 265h1v1h-1zM1532 264h1v1h-1zM1533 263h1v1h-1zM1534 262h2v1h-2zM1536 261h1v1h-1zM1537 260h1v1h-1zM1538 259h1v1h-1zM1539 258h2v1h-2zM1541 257h1v1h-1zM1542 256h1v1h-1zM1543 255h2v1h-2zM1545 254h1v1h-1zM1546 253h1v1h-1zM1547 252h1v1h-1zM1548 251h2v1h-2zM1550 250h1v1h-1zM1551 249h1v1h-1zM1552 248h1v1h-1zM1553 247h2v1h-2zM1555 246h1v1h-1zM1556 245h1v1h-1zM1557 244h1v1h-1zM1558 243h2v1h-2zM1560 242h1v1h-1zM1561 241h1v1h-1zM1562 240h1v1h-1zM1563 239h2v1h-2zM1565 238h1v1h-1zM1566 237h1v1h-1zM1567 236h1v1h-1zM1568 235h2v1h-2zM1570 234h1v1h-1zM1571 233h1v1h-1zM1572 232h1v1h-1zM1573 231h2v1h-2zM1575 230h1v1h-1zM1576 229h1v1h-1zM1577 228h1v1h-1zM1578 227h2v1h-2zM1580 226h1v1h-1zM1581 225h1v1h-1zM1582 224h1v1h-1zM1583 223h2v1h-2zM1585 222h1v1h-1zM1586 221h1v1h-1zM1587 220h1v1h-1zM1588 219h2v1h-2zM1590 218h1v1h-1zM1591 217h1v1h-1zM1592 216h1v1h-1zM1593 215h2v1h-2zM1595 214h1v1h-1zM1596 213h1v1h-1zM1597 212h1v1h-1zM1598 211h2v1h-2zM1600 210h1v1h-1zM1601 209h1v1h-1zM1602 208h1v1h-1zM1603 207h2v1h-2zM1605 206h1v1h-1zM1606 205h1v1h-1zM1607 204h1v1h-1zM1608 203h2v1h-2zM1610 202h1v1h-1zM1611 201h1v1h-1z" fill="#9122C8"/>
</g>
<g clip-path="url(#c1)">
<line x1="2" y1="817.5" x2="1683" y2="817.5" stroke="#C0C0C0" stroke-width="1" stroke-dasharray="3 3"/>
<line x1="2" y1="852.5" x2="1683" y2="852.5" stroke="#C0C0C0" stroke-width="1" stroke-dasharray="3 3"/>
</g>
<g clip-path="url(#c1)">
<line x1="42.5" y1="2" x2="42.5" y2="878" stroke="#000" stroke-width="1" stroke-dasharray="3 3"/>
<line x1="218.5" y1="2" x2="218.5" y2="878" stroke="#000" stroke-width="1" stroke-dasharray="3 3"/>
<line x1="402.5" y1="2" x2="402.5" y2="878" stroke="#000" stroke-width="1" stroke-dasharray="3 3"/>
<line x1="562.5" y1="2" x2="562.5" y2="878" stroke="#000" stroke-width="1" stroke-dasharray="3 3"/>
<line x1="738.5" y1="2" x2="738.5" y2="878" stroke="#000" stroke-width="1" stroke-dasharray="3 3"/>
<line x1="906.5" y1="2" x2="906.5" y2="878" stroke="#000" stroke-width="1" stroke-dasharray="3 3"/>
<line x1="1066.5" y1="2" x2="1066.5" y2="878" stroke="#000" stroke-width="1" stroke-dasharray="3 3"/>
<line x1="1242.5" y1="2" x2="1242.5" y2="878" stroke="#000" stroke-width="1" stroke-dasharray="3 3"/>
<line x1="1410.5" y1="2" x2="1410.5" y2="878" stroke="#000" stroke-width="1" stroke-dasharray="3 3"/>
</g>
<g clip-path="url(#c1)">
<path d="M2 832h1v1h-1zM41 832h3v1h-3zM53 832h1v1h-1zM128 832h2v1h-2zM132 832h4v1h-4zM173 832h2v1h-2zM198 832h1v1h-1zM344 832h1v1h-1zM363 832h2v1h-2zM449 832h1v1h-1zM451 832h1v1h-1zM768 832h1v1h-1zM992 832h2v1h-2zM995 832h1v1h-1zM1272 832h1v1h-1zM1346 832h5v1h-5zM3 833h1v1h-1zM39 833h2v1h-2zM54 833h2v1h-2zM126 833h2v1h-2zM136 833h4v1h-4zM171 833h2v1h-2zM198 833h1v1h-1zM343 833h1v1h-1zM365 833h1v1h-1zM393 833h13v1h-13zM447 833h2v1h-2zM452 833h1v1h-1zM489 833h2v1h-2zM591 833h4v1h-4zM768 833h1v1h-1zM994 833h1v1h-1zM1273 833h1v1h-1zM1344 833h2v1h-2zM4 834h2v1h-2zM23 834h7v1h-7zM36 834h3v1h-3zM56 834h1v1h-1zM98 834h1v1h-1zM124 834h2v1h-2zM140 834h4v1h-4zM170 834h1v1h-1zM199 834h1v1h-1zM342 834h1v1h-1zM366 834h2v1h-2zM377 834h5v1h-5zM389 834h4v1h-4zM406 834h5v1h-5zM446 834h1v1h-1zM452 834h1v1h-1zM487 834h2v1h-2zM491 834h2v1h-2zM585 834h6v1h-6zM595 834h1v1h-1zM689 834h5v1h-5zM746 834h1v1h-1zM767 834h1v1h-1zM1273 834h1v1h-1zM1279 834h5v1h-5zM1297 834h3v1h-3zM1321 834h2v1h-2zM1343 834h1v1h-1zM6 835h1v1h-1zM17 835h6v1h-6zM30 835h6v1h-6zM57 835h1v1h-1zM96 835h2v1h-2zM99 835h2v1h-2zM121 835h3v1h-3zM144 835h4v1h-4zM168 835h2v1h-2zM200 835h1v1h-1zM342 835h1v1h-1zM368 835h2v1h-2zM373 835h4v1h-4zM382 835h7v1h-7zM411 835h2v1h-2zM445 835h1v1h-1zM453 835h1v1h-1zM474 835h4v1h-4zM484 835h3v1h-3zM493 835h2v1h-2zM562 835h1v1h-1zM583 835h2v1h-2zM596 835h2v1h-2zM685 835h4v1h-4zM694 835h5v1h-5zM744 835h2v1h-2zM747 835h2v1h-2zM766 835h1v1h-1zM1274 835h5v1h-5zM1284 835h2v1h-2zM1295 835h2v1h-2zM1300 835h2v1h-2zM1319 835h2v1h-2zM1323 835h1v1h-1zM1341 835h2v1h-2zM7 836h1v1h-1zM15 836h2v1h-2zM58 836h2v1h-2zM95 836h1v1h-1zM101 836h1v1h-1zM117 836h4v1h-4zM148 836h2v1h-2zM167 836h1v1h-1zM201 836h1v1h-1zM341 836h1v1h-1zM370 836h3v1h-3zM413 836h2v1h-2zM443 836h2v1h-2zM454 836h1v1h-1zM472 836h2v1h-2zM478 836h6v1h-6zM495 836h2v1h-2zM560 836h2v1h-2zM563 836h2v1h-2zM580 836h3v1h-3zM598 836h1v1h-1zM682 836h3v1h-3zM699 836h2v1h-2zM719 836h5v1h-5zM743 836h1v1h-1zM749 836h1v1h-1zM765 836h1v1h-1zM1286 836h3v1h-3zM1292 836h3v1h-3zM1302 836h3v1h-3zM1316 836h3v1h-3zM1324 836h2v1h-2zM1339 836h2v1h-2zM8 837h2v1h-2zM12 837h3v1h-3zM60 837h4v1h-4zM93 837h2v1h-2zM102 837h2v1h-2zM113 837h4v1h-4zM150 837h3v1h-3zM165 837h2v1h-2zM202 837h2v1h-2zM340 837h1v1h-1zM415 837h2v1h-2zM439 837h4v1h-4zM455 837h1v1h-1zM471 837h1v1h-1zM497 837h3v1h-3zM545 837h3v1h-3zM558 837h2v1h-2zM565 837h2v1h-2zM577 837h3v1h-3zM599 837h1v1h-1zM617 837h2v1h-2zM680 837h2v1h-2zM701 837h1v1h-1zM713 837h6v1h-6zM724 837h4v1h-4zM741 837h2v1h-2zM750 837h2v1h-2zM764 837h1v1h-1zM1289 837h3v1h-3zM1305 837h11v1h-11zM1326 837h1v1h-1zM1337 837h2v1h-2zM10 838h2v1h-2zM64 838h3v1h-3zM91 838h2v1h-2zM104 838h2v1h-2zM109 838h4v1h-4zM153 838h5v1h-5zM163 838h2v1h-2zM204 838h2v1h-2zM255 838h5v1h-5zM339 838h1v1h-1zM417 838h5v1h-5zM431 838h8v1h-8zM456 838h1v1h-1zM469 838h2v1h-2zM500 838h4v1h-4zM522 838h2v1h-2zM541 838h4v1h-4zM548 838h4v1h-4zM556 838h2v1h-2zM567 838h2v1h-2zM573 838h4v1h-4zM600 838h2v1h-2zM615 838h2v1h-2zM619 838h2v1h-2zM679 838h1v1h-1zM702 838h2v1h-2zM711 838h2v1h-2zM728 838h6v1h-6zM739 838h2v1h-2zM752 838h2v1h-2zM764 838h1v1h-1zM1327 838h1v1h-1zM1335 838h2v1h-2zM44 831h3v1h-3zM52 831h1v1h-1zM130 831h2v1h-2zM175 831h1v1h-1zM197 831h1v1h-1zM345 831h1v1h-1zM350 831h13v1h-13zM450 831h1v1h-1zM769 831h1v1h-1zM970 831h10v1h-10zM990 831h2v1h-2zM996 831h1v1h-1zM1271 831h1v1h-1zM1351 831h5v1h-5zM47 830h2v1h-2zM51 830h1v1h-1zM176 830h2v1h-2zM196 830h1v1h-1zM346 830h4v1h-4zM770 830h5v1h-5zM810 830h13v1h-13zM830 830h5v1h-5zM850 830h1v1h-1zM969 830h1v1h-1zM980 830h3v1h-3zM989 830h1v1h-1zM997 830h2v1h-2zM1270 830h1v1h-1zM1356 830h3v1h-3zM49 829h2v1h-2zM178 829h5v1h-5zM195 829h1v1h-1zM775 829h5v1h-5zM809 829h1v1h-1zM823 829h7v1h-7zM835 829h2v1h-2zM848 829h2v1h-2zM851 829h2v1h-2zM906 829h2v1h-2zM930 829h3v1h-3zM968 829h1v1h-1zM983 829h2v1h-2zM987 829h2v1h-2zM999 829h1v1h-1zM1270 829h1v1h-1zM1359 829h2v1h-2zM67 839h2v1h-2zM87 839h4v1h-4zM106 839h3v1h-3zM158 839h5v1h-5zM206 839h3v1h-3zM247 839h8v1h-8zM260 839h2v1h-2zM338 839h1v1h-1zM422 839h9v1h-9zM456 839h1v1h-1zM467 839h2v1h-2zM504 839h4v1h-4zM520 839h2v1h-2zM524 839h2v1h-2zM537 839h4v1h-4zM552 839h4v1h-4zM569 839h4v1h-4zM602 839h4v1h-4zM612 839h3v1h-3zM621 839h1v1h-1zM677 839h2v1h-2zM704 839h2v1h-2zM708 839h3v1h-3zM734 839h5v1h-5zM754 839h4v1h-4zM763 839h1v1h-1zM1328 839h2v1h-2zM1332 839h3v1h-3zM69 840h1v1h-1zM81 840h6v1h-6zM209 840h3v1h-3zM242 840h5v1h-5zM262 840h3v1h-3zM337 840h1v1h-1zM457 840h1v1h-1zM463 840h4v1h-4zM508 840h2v1h-2zM518 840h2v1h-2zM526 840h3v1h-3zM533 840h4v1h-4zM606 840h6v1h-6zM622 840h2v1h-2zM675 840h2v1h-2zM706 840h2v1h-2zM758 840h5v1h-5zM1330 840h2v1h-2zM70 841h2v1h-2zM79 841h2v1h-2zM212 841h4v1h-4zM240 841h2v1h-2zM265 841h2v1h-2zM336 841h1v1h-1zM458 841h5v1h-5zM510 841h3v1h-3zM516 841h2v1h-2zM529 841h4v1h-4zM624 841h2v1h-2zM674 841h1v1h-1zM72 842h2v1h-2zM76 842h3v1h-3zM216 842h3v1h-3zM239 842h1v1h-1zM267 842h1v1h-1zM335 842h1v1h-1zM513 842h3v1h-3zM626 842h4v1h-4zM658 842h2v1h-2zM672 842h2v1h-2zM74 843h2v1h-2zM219 843h2v1h-2zM237 843h2v1h-2zM268 843h1v1h-1zM334 843h1v1h-1zM630 843h5v1h-5zM657 843h1v1h-1zM660 843h2v1h-2zM670 843h2v1h-2zM183 828h12v1h-12zM780 828h3v1h-3zM808 828h1v1h-1zM837 828h2v1h-2zM846 828h2v1h-2zM853 828h1v1h-1zM905 828h1v1h-1zM908 828h2v1h-2zM928 828h2v1h-2zM933 828h4v1h-4zM967 828h1v1h-1zM985 828h2v1h-2zM1000 828h1v1h-1zM1269 828h1v1h-1zM1361 828h12v1h-12zM221 844h2v1h-2zM235 844h2v1h-2zM269 844h1v1h-1zM333 844h1v1h-1zM635 844h2v1h-2zM656 844h1v1h-1zM662 844h3v1h-3zM668 844h2v1h-2zM223 845h2v1h-2zM231 845h4v1h-4zM270 845h1v1h-1zM282 845h2v1h-2zM332 845h1v1h-1zM637 845h2v1h-2zM655 845h1v1h-1zM665 845h3v1h-3zM225 846h6v1h-6zM270 846h1v1h-1zM280 846h2v1h-2zM284 846h2v1h-2zM331 846h1v1h-1zM639 846h2v1h-2zM654 846h1v1h-1zM271 847h1v1h-1zM279 847h1v1h-1zM286 847h3v1h-3zM295 847h4v1h-4zM329 847h2v1h-2zM641 847h2v1h-2zM654 847h1v1h-1zM272 848h1v1h-1zM277 848h2v1h-2zM289 848h6v1h-6zM299 848h2v1h-2zM327 848h2v1h-2zM643 848h2v1h-2zM653 848h1v1h-1zM273 849h1v1h-1zM275 849h2v1h-2zM301 849h2v1h-2zM313 849h5v1h-5zM324 849h3v1h-3zM645 849h2v1h-2zM652 849h1v1h-1zM274 850h1v1h-1zM303 850h2v1h-2zM309 850h4v1h-4zM318 850h6v1h-6zM647 850h2v1h-2zM651 850h1v1h-1zM305 851h4v1h-4zM649 851h2v1h-2zM783 827h2v1h-2zM807 827h1v1h-1zM839 827h1v1h-1zM845 827h1v1h-1zM854 827h1v1h-1zM865 827h2v1h-2zM905 827h1v1h-1zM910 827h2v1h-2zM926 827h2v1h-2zM937 827h3v1h-3zM966 827h1v1h-1zM1001 827h1v1h-1zM1241 827h2v1h-2zM1268 827h1v1h-1zM1373 827h4v1h-4zM785 826h3v1h-3zM806 826h1v1h-1zM840 826h2v1h-2zM843 826h2v1h-2zM855 826h2v1h-2zM862 826h3v1h-3zM867 826h2v1h-2zM904 826h1v1h-1zM912 826h2v1h-2zM925 826h1v1h-1zM940 826h3v1h-3zM965 826h1v1h-1zM1002 826h2v1h-2zM1239 826h2v1h-2zM1243 826h2v1h-2zM1267 826h1v1h-1zM1377 826h4v1h-4zM788 825h2v1h-2zM805 825h1v1h-1zM842 825h1v1h-1zM857 825h1v1h-1zM860 825h2v1h-2zM869 825h2v1h-2zM904 825h1v1h-1zM914 825h5v1h-5zM923 825h2v1h-2zM943 825h2v1h-2zM950 825h7v1h-7zM964 825h1v1h-1zM1004 825h2v1h-2zM1038 825h9v1h-9zM1186 825h13v1h-13zM1237 825h2v1h-2zM1245 825h2v1h-2zM1267 825h1v1h-1zM1381 825h4v1h-4zM790 824h2v1h-2zM804 824h1v1h-1zM858 824h2v1h-2zM871 824h1v1h-1zM903 824h1v1h-1zM919 824h4v1h-4zM945 824h5v1h-5zM957 824h4v1h-4zM963 824h1v1h-1zM1006 824h2v1h-2zM1022 824h16v1h-16zM1047 824h4v1h-4zM1186 824h1v1h-1zM1199 824h5v1h-5zM1235 824h2v1h-2zM1247 824h1v1h-1zM1265 824h2v1h-2zM1385 824h3v1h-3zM792 823h2v1h-2zM803 823h1v1h-1zM872 823h2v1h-2zM903 823h1v1h-1zM961 823h2v1h-2zM1008 823h2v1h-2zM1014 823h8v1h-8zM1051 823h2v1h-2zM1185 823h1v1h-1zM1204 823h3v1h-3zM1234 823h1v1h-1zM1248 823h2v1h-2zM1262 823h3v1h-3zM1388 823h2v1h-2zM794 822h9v1h-9zM874 822h2v1h-2zM902 822h1v1h-1zM1010 822h4v1h-4zM1053 822h2v1h-2zM1185 822h1v1h-1zM1207 822h2v1h-2zM1232 822h2v1h-2zM1250 822h5v1h-5zM1260 822h2v1h-2zM1390 822h2v1h-2zM876 821h3v1h-3zM901 821h1v1h-1zM1055 821h1v1h-1zM1184 821h1v1h-1zM1209 821h3v1h-3zM1231 821h1v1h-1zM1255 821h5v1h-5zM1392 821h2v1h-2zM879 820h2v1h-2zM901 820h1v1h-1zM1056 820h2v1h-2zM1184 820h1v1h-1zM1212 820h3v1h-3zM1230 820h1v1h-1zM1394 820h1v1h-1zM881 819h3v1h-3zM900 819h1v1h-1zM1058 819h1v1h-1zM1183 819h1v1h-1zM1215 819h2v1h-2zM1228 819h2v1h-2zM884 818h2v1h-2zM900 818h1v1h-1zM1059 818h2v1h-2zM1183 818h1v1h-1zM1217 818h6v1h-6zM1227 818h1v1h-1zM886 817h2v1h-2zM899 817h1v1h-1zM1061 817h1v1h-1zM1182 817h1v1h-1zM1223 817h4v1h-4zM888 816h2v1h-2zM899 816h1v1h-1zM1062 816h1v1h-1zM1182 816h1v1h-1zM890 815h9v1h-9zM1063 815h2v1h-2zM1181 815h1v1h-1zM1065 814h1v1h-1zM1181 814h1v1h-1zM1066 813h1v1h-1zM1180 813h1v1h-1zM1067 812h2v1h-2zM1180 812h1v1h-1zM1069 811h1v1h-1zM1179 811h1v1h-1zM1070 810h1v1h-1zM1106 810h5v1h-5zM1170 810h3v1h-3zM1179 810h1v1h-1zM1071 809h2v1h-2zM1105 809h1v1h-1zM1111 809h8v1h-8zM1146 809h5v1h-5zM1168 809h2v1h-2zM1173 809h4v1h-4zM1178 809h1v1h-1zM1073 808h1v1h-1zM1104 808h1v1h-1zM1119 808h4v1h-4zM1144 808h2v1h-2zM1151 808h5v1h-5zM1166 808h2v1h-2zM1177 808h2v1h-2zM1074 807h11v1h-11zM1103 807h1v1h-1zM1123 807h2v1h-2zM1143 807h1v1h-1zM1156 807h3v1h-3zM1165 807h1v1h-1zM1085 806h4v1h-4zM1102 806h1v1h-1zM1125 806h2v1h-2zM1142 806h1v1h-1zM1159 806h2v1h-2zM1163 806h2v1h-2zM1089 805h3v1h-3zM1102 805h1v1h-1zM1127 805h1v1h-1zM1140 805h2v1h-2zM1161 805h2v1h-2zM1092 804h2v1h-2zM1101 804h1v1h-1zM1128 804h2v1h-2zM1139 804h1v1h-1zM1094 803h2v1h-2zM1100 803h1v1h-1zM1130 803h9v1h-9zM1096 802h2v1h-2zM1099 802h1v1h-1zM1098 801h1v1h-1z" fill="#1E90FF"/>
</g>
<g clip-path="url(#c2)">
<line x1="42.5" y1="2" x2="42.5" y2="957" stroke="#000" stroke-width="1" stroke-dasharray="3 3"/>
<line x1="218.5" y1="2" x2="218.5" y2="957" stroke="#000" stroke-width="1" stroke-dasharray="3 3"/>
<line x1="402.5" y1="2" x2="402.5" y2="957" stroke="#000" stroke-width="1" stroke-dasharray="3 3"/>
<line x1="562.5" y1="2" x2="562.5" y2="957" stroke="#000" stroke-width="1" stroke-dasharray="3 3"/>
<line x1="738.5" y1="2" x2="738.5" y2="957" stroke="#000" stroke-width="1" stroke-dasharray="3 3"/>
<line x1="906.5" y1="2" x2="906.5" y2="957" stroke="#000" stroke-width="1" stroke-dasharray="3 3"/>
<line x1="1066.5" y1="2" x2="1066.5" y2="957" stroke="#000" stroke-width="1" stroke-dasharray="3 3"/>
<line x1="1242.5" y1="2" x2="1242.5" y2="957" stroke="#000" stroke-width="1" stroke-dasharray="3 3"/>
<line x1="1410.5" y1="2" x2="1410.5" y2="957" stroke="#000" stroke-width="1" stroke-dasharray="3 3"/>
</g>
<g clip-path="url(#c2)">
<rect x="2" y="942" width="1" height="4" fill="#C0C0C0"/>
<rect x="10" y="942" width="1" height="4" fill="#C0C0C0"/>
<rect x="18" y="942" width="1" height="3" fill="#C0C0C0"/>
<rect x="26" y="942" width="1" height="2" fill="#C0C0C0"/>
<rect x="34" y="942" width="1" height="2" fill="#C0C0C0"/>
<rect x="42" y="942" width="1" height="2" fill="#C0C0C0"/>
<rect x="50" y="942" width="1" height="2" fill="#C0C0C0"/>
<rect x="58" y="942" width="1" height="3" fill="#C0C0C0"/>
<rect x="66" y="942" width="1" height="3" fill="#C0C0C0"/>
<rect x="74" y="942" width="1" height="3" fill="#C0C0C0"/>
<rect x="82" y="942" width="1" height="3" fill="#C0C0C0"/>
<rect x="90" y="942" width="1" height="3" fill="#C0C0C0"/>
<rect x="98" y="942" width="1" height="3" fill="#C0C0C0"/>
<rect x="106" y="942" width="1" height="3" fill="#C0C0C0"/>
<rect x="114" y="942" width="1" height="3" fill="#C0C0C0"/>
<rect x="122" y="942" width="1" height="3" fill="#C0C0C0"/>
<rect x="130" y="942" width="1" height="2" fill="#C0C0C0"/>
<rect x="138" y="942" width="1" height="2" fill="#C0C0C0"/>
<rect x="146" y="942" width="1" height="2" fill="#C0C0C0"/>
<rect x="154" y="942" width="1" height="2" fill="#C0C0C0"/>
<rect x="210" y="942" width="1" height="2" fill="#C0C0C0"/>
<rect x="218" y="942" width="1" height="2" fill="#C0C0C0"/>
<rect x="226" y="942" width="1" height="3" fill="#C0C0C0"/>
<rect x="234" y="942" width="1" height="4" fill="#C0C0C0"/>
<rect x="242" y="942" width="1" height="5" fill="#C0C0C0"/>
<rect x="250" y="942" width="1" height="5" fill="#C0C0C0"/>
<rect x="258" y="942" width="1" height="6" fill="#C0C0C0"/>
<rect x="266" y="942" width="1" height="7" fill="#C0C0C0"/>
<rect x="274" y="942" width="1" height="7" fill="#C0C0C0"/>
<rect x="282" y="942" width="1" height="8" fill="#C0C0C0"/>
<rect x="290" y="942" width="1" height="8" fill="#C0C0C0"/>
<rect x="298" y="942" width="1" height="9" fill="#C0C0C0"/>
<rect x="306" y="942" width="1" height="9" fill="#C0C0C0"/>
<rect x="314" y="942" width="1" height="9" fill="#C0C0C0"/>
<rect x="322" y="942" width="1" height="9" fill="#C0C0C0"/>
<rect x="330" y="942" width="1" height="8" fill="#C0C0C0"/>
<rect x="338" y="942" width="1" height="7" fill="#C0C0C0"/>
<rect x="346" y="942" width="1" height="7" fill="#C0C0C0"/>
<rect x="354" y="942" width="1" height="5" fill="#C0C0C0"/>
<rect x="362" y="942" width="1" height="4" fill="#C0C0C0"/>
<rect x="370" y="942" width="1" height="3" fill="#C0C0C0"/>
<rect x="378" y="942" width="1" height="2" fill="#C0C0C0"/>
<rect x="386" y="942" width="1" height="2" fill="#C0C0C0"/>
<rect x="394" y="942" width="1" height="2" fill="#C0C0C0"/>
<rect x="402" y="942" width="1" height="2" fill="#C0C0C0"/>
<rect x="410" y="942" width="1" height="2" fill="#C0C0C0"/>
<rect x="418" y="942" width="1" height="2" fill="#C0C0C0"/>
<rect x="426" y="942" width="1" height="2" fill="#C0C0C0"/>
<rect x="434" y="942" width="1" height="2" fill="#C0C0C0"/>
<rect x="442" y="942" width="1" height="3" fill="#C0C0C0"/>
<rect x="450" y="942" width="1" height="3" fill="#C0C0C0"/>
<rect x="458" y="942" width="1" height="3" fill="#C0C0C0"/>
<rect x="466" y="942" width="1" height="3" fill="#C0C0C0"/>
<rect x="474" y="942" width="1" height="3" fill="#C0C0C0"/>
<rect x="482" y="942" width="1" height="3" fill="#C0C0C0"/>
<rect x="490" y="942" width="1" height="3" fill="#C0C0C0"/>
<rect x="498" y="942" width="1" height="3" fill="#C0C0C0"/>
<rect x="506" y="942" width="1" height="3" fill="#C0C0C0"/>
<rect x="514" y="942" width="1" height="3" fill="#C0C0C0"/>
<rect x="522" y="942" width="1" height="3" fill="#C0C0C0"/>
<rect x="530" y="942" width="1" height="3" fill="#C0C0C0"/>
<rect x="538" y="942" width="1" height="3" fill="#C0C0C0"/>
<rect x="546" y="942" width="1" height="3" fill="#C0C0C0"/>
<rect x="554" y="942" width="1" height="3" fill="#C0C0C0"/>
<rect x="562" y="942" width="1" height="3" fill="#C0C0C0"/>
<rect x="570" y="942" width="1" height="3" fill="#C0C0C0"/>
<rect x="578" y="942" width="1" height="3" fill="#C0C0C0"/>
<rect x="586" y="942" width="1" height="3" fill="#C0C0C0"/>
<rect x="594" y="942" width="1" height="3" fill="#C0C0C0"/>
<rect x="602" y="942" width="1" height="3" fill="#C0C0C0"/>
<rect x="610" y="942" width="1" height="3" fill="#C0C0C0"/>
<rect x="618" y="942" width="1" height="3" fill="#C0C0C0"/>
<rect x="626" y="942" width="1" height="4" fill="#C0C0C0"/>
<rect x="634" y="942" width="1" height="6" fill="#C0C0C0"/>
<rect x="642" y="942" width="1" height="6" fill="#C0C0C0"/>
<rect x="650" y="942" width="1" height="6" fill="#C0C0C0"/>
<rect x="658" y="942" width="1" height="6" fill="#C0C0C0"/>
<rect x="666" y="942" width="1" height="5" fill="#C0C0C0"/>
<rect x="674" y="942" width="1" height="5" fill="#C0C0C0"/>
<rect x="682" y="942" width="1" height="5" fill="#C0C0C0"/>
<rect x="690" y="942" width="1" height="5" fill="#C0C0C0"/>
<rect x="698" y="942" width="1" height="5" fill="#C0C0C0"/>
<rect x="706" y="942" width="1" height="5" fill="#C0C0C0"/>
<rect x="714" y="942" width="1" height="5" fill="#C0C0C0"/>
<rect x="722" y="942" width="1" height="4" fill="#C0C0C0"/>
<rect x="730" y="942" width="1" height="4" fill="#C0C0C0"/>
<rect x="738" y="942" width="1" height="3" fill="#C0C0C0"/>
<rect x="746" y="942" width="1" height="3" fill="#C0C0C0"/>
<rect x="754" y="942" width="1" height="2" fill="#C0C0C0"/>
<rect x="770" y="941" width="1" height="1" fill="#C0C0C0"/>
<rect x="778" y="940" width="1" height="2" fill="#C0C0C0"/>
<rect x="786" y="939" width="1" height="3" fill="#C0C0C0"/>
<rect x="794" y="939" width="1" height="3" fill="#C0C0C0"/>
<rect x="802" y="939" width="1" height="3" fill="#C0C0C0"/>
<rect x="810" y="939" width="1" height="3" fill="#C0C0C0"/>
<rect x="818" y="938" width="1" height="4" fill="#C0C0C0"/>
<rect x="826" y="938" width="1" height="4" fill="#C0C0C0"/>
<rect x="834" y="937" width="1" height="5" fill="#C0C0C0"/>
<rect x="842" y="937" width="1" height="5" fill="#C0C0C0"/>
<rect x="850" y="936" width="1" height="6" fill="#C0C0C0"/>
<rect x="858" y="936" width="1" height="6" fill="#C0C0C0"/>
<rect x="866" y="938" width="1" height="4" fill="#C0C0C0"/>
<rect x="874" y="937" width="1" height="5" fill="#C0C0C0"/>
<rect x="882" y="935" width="1" height="7" fill="#C0C0C0"/>
<rect x="890" y="934" width="1" height="8" fill="#C0C0C0"/>
<rect x="898" y="933" width="1" height="9" fill="#C0C0C0"/>
<rect x="906" y="932" width="1" height="10" fill="#C0C0C0"/>
<rect x="914" y="933" width="1" height="9" fill="#C0C0C0"/>
<rect x="922" y="933" width="1" height="9" fill="#C0C0C0"/>
<rect x="930" y="934" width="1" height="8" fill="#C0C0C0"/>
<rect x="938" y="934" width="1" height="8" fill="#C0C0C0"/>
<rect x="946" y="934" width="1" height="8" fill="#C0C0C0"/>
<rect x="954" y="934" width="1" height="8" fill="#C0C0C0"/>
<rect x="962" y="934" width="1" height="8" fill="#C0C0C0"/>
<rect x="970" y="935" width="1" height="7" fill="#C0C0C0"/>
<rect x="978" y="935" width="1" height="7" fill="#C0C0C0"/>
<rect x="986" y="935" width="1" height="7" fill="#C0C0C0"/>
<rect x="994" y="936" width="1" height="6" fill="#C0C0C0"/>
<rect x="1002" y="936" width="1" height="6" fill="#C0C0C0"/>
<rect x="1010" y="935" width="1" height="7" fill="#C0C0C0"/>
<rect x="1018" y="934" width="1" height="8" fill="#C0C0C0"/>
<rect x="1026" y="934" width="1" height="8" fill="#C0C0C0"/>
<rect x="1034" y="934" width="1" height="8" fill="#C0C0C0"/>
<rect x="1042" y="934" width="1" height="8" fill="#C0C0C0"/>
<rect x="1050" y="934" width="1" height="8" fill="#C0C0C0"/>
<rect x="1058" y="933" width="1" height="9" fill="#C0C0C0"/>
<rect x="1066" y="932" width="1" height="10" fill="#C0C0C0"/>
<rect x="1074" y="927" width="1" height="15" fill="#C0C0C0"/>
<rect x="1082" y="924" width="1" height="18" fill="#C0C0C0"/>
<rect x="1090" y="921" width="1" height="21" fill="#C0C0C0"/>
<rect x="1098" y="916" width="1" height="26" fill="#C0C0C0"/>
<rect x="1106" y="913" width="1" height="29" fill="#C0C0C0"/>
<rect x="1114" y="911" width="1" height="31" fill="#C0C0C0"/>
<rect x="1122" y="908" width="1" height="34" fill="#C0C0C0"/>
<rect x="1130" y="903" width="1" height="39" fill="#C0C0C0"/>
<rect x="1138" y="899" width="1" height="43" fill="#C0C0C0"/>
<rect x="1146" y="897" width="1" height="45" fill="#C0C0C0"/>
<rect x="1154" y="895" width="1" height="47" fill="#C0C0C0"/>
<rect x="1162" y="891" width="1" height="51" fill="#C0C0C0"/>
<rect x="1170" y="889" width="1" height="53" fill="#C0C0C0"/>
<rect x="1178" y="887" width="1" height="55" fill="#C0C0C0"/>
<rect x="1186" y="891" width="1" height="51" fill="#C0C0C0"/>
<rect x="1194" y="894" width="1" height="48" fill="#C0C0C0"/>
<rect x="1202" y="897" width="1" height="45" fill="#C0C0C0"/>
<rect x="1210" y="898" width="1" height="44" fill="#C0C0C0"/>
<rect x="1218" y="897" width="1" height="45" fill="#C0C0C0"/>
<rect x="1226" y="897" width="1" height="45" fill="#C0C0C0"/>
<rect x="1234" y="898" width="1" height="44" fill="#C0C0C0"/>
<rect x="1242" y="902" width="1" height="40" fill="#C0C0C0"/>
<rect x="1250" y="902" width="1" height="40" fill="#C0C0C0"/>
<rect x="1258" y="902" width="1" height="40" fill="#C0C0C0"/>
<rect x="1266" y="903" width="1" height="39" fill="#C0C0C0"/>
<rect x="1274" y="910" width="1" height="32" fill="#C0C0C0"/>
<rect x="1282" y="915" width="1" height="27" fill="#C0C0C0"/>
<rect x="1290" y="920" width="1" height="22" fill="#C0C0C0"/>
<rect x="1298" y="924" width="1" height="18" fill="#C0C0C0"/>
<rect x="1306" y="928" width="1" height="14" fill="#C0C0C0"/>
<rect x="1314" y="931" width="1" height="11" fill="#C0C0C0"/>
<rect x="1322" y="933" width="1" height="9" fill="#C0C0C0"/>
<rect x="1330" y="937" width="1" height="5" fill="#C0C0C0"/>
<rect x="1338" y="939" width="1" height="3" fill="#C0C0C0"/>
<rect x="1346" y="938" width="1" height="4" fill="#C0C0C0"/>
<rect x="1354" y="937" width="1" height="5" fill="#C0C0C0"/>
<rect x="1362" y="935" width="1" height="7" fill="#C0C0C0"/>
<rect x="1370" y="933" width="1" height="9" fill="#C0C0C0"/>
<rect x="1378" y="931" width="1" height="11" fill="#C0C0C0"/>
<rect x="1386" y="928" width="1" height="14" fill="#C0C0C0"/>
<rect x="1394" y="925" width="1" height="17" fill="#C0C0C0"/>
<path d="M2 946h3v1h-3zM296 946h3v1h-3zM302 946h3v1h-3zM308 946h2v1h-2zM392 946h3v1h-3zM398 946h1v1h-1zM664 946h1v1h-1zM668 946h3v1h-3zM674 946h3v1h-3zM680 946h3v1h-3zM686 946h3v1h-3zM692 946h3v1h-3zM698 946h3v1h-3zM704 946h3v1h-3zM710 946h3v1h-3zM716 946h3v1h-3zM722 946h3v1h-3zM728 946h3v1h-3zM734 946h1v1h-1zM8 945h3v1h-3zM14 945h3v1h-3zM20 945h3v1h-3zM26 945h3v1h-3zM32 945h3v1h-3zM38 945h3v1h-3zM44 945h3v1h-3zM278 945h3v1h-3zM284 945h3v1h-3zM290 945h3v1h-3zM399 945h2v1h-2zM404 945h3v1h-3zM410 945h3v1h-3zM662 945h2v1h-2zM735 945h2v1h-2zM740 945h3v1h-3zM746 945h3v1h-3zM752 945h3v1h-3zM758 945h3v1h-3zM764 945h3v1h-3zM50 944h3v1h-3zM272 944h3v1h-3zM416 944h3v1h-3zM422 944h3v1h-3zM428 944h3v1h-3zM434 944h3v1h-3zM560 944h3v1h-3zM566 944h3v1h-3zM572 944h3v1h-3zM578 944h3v1h-3zM584 944h3v1h-3zM590 944h3v1h-3zM596 944h3v1h-3zM602 944h3v1h-3zM608 944h3v1h-3zM614 944h3v1h-3zM620 944h3v1h-3zM626 944h3v1h-3zM632 944h3v1h-3zM638 944h3v1h-3zM644 944h3v1h-3zM650 944h3v1h-3zM656 944h3v1h-3zM770 944h3v1h-3zM776 944h3v1h-3zM782 944h3v1h-3zM788 944h3v1h-3zM56 943h3v1h-3zM62 943h3v1h-3zM68 943h3v1h-3zM74 943h3v1h-3zM80 943h3v1h-3zM86 943h3v1h-3zM92 943h3v1h-3zM98 943h3v1h-3zM104 943h3v1h-3zM110 943h3v1h-3zM116 943h3v1h-3zM122 943h3v1h-3zM128 943h3v1h-3zM134 943h3v1h-3zM140 943h3v1h-3zM146 943h3v1h-3zM152 943h3v1h-3zM158 943h3v1h-3zM164 943h3v1h-3zM170 943h3v1h-3zM176 943h3v1h-3zM182 943h1v1h-1zM248 943h3v1h-3zM254 943h3v1h-3zM260 943h3v1h-3zM266 943h3v1h-3zM440 943h3v1h-3zM446 943h3v1h-3zM452 943h3v1h-3zM458 943h3v1h-3zM464 943h3v1h-3zM470 943h3v1h-3zM476 943h3v1h-3zM482 943h3v1h-3zM488 943h3v1h-3zM494 943h3v1h-3zM500 943h3v1h-3zM506 943h3v1h-3zM512 943h3v1h-3zM518 943h3v1h-3zM524 943h3v1h-3zM530 943h3v1h-3zM536 943h3v1h-3zM542 943h3v1h-3zM548 943h3v1h-3zM554 943h3v1h-3zM794 943h3v1h-3zM183 942h2v1h-2zM188 942h3v1h-3zM194 942h3v1h-3zM200 942h3v1h-3zM206 942h3v1h-3zM212 942h3v1h-3zM218 942h3v1h-3zM224 942h3v1h-3zM230 942h3v1h-3zM236 942h3v1h-3zM242 942h3v1h-3zM800 942h3v1h-3zM806 942h1v1h-1zM310 947h1v1h-1zM314 947h3v1h-3zM320 947h3v1h-3zM386 947h3v1h-3zM326 948h3v1h-3zM332 948h3v1h-3zM338 948h3v1h-3zM344 948h3v1h-3zM362 948h3v1h-3zM368 948h3v1h-3zM374 948h3v1h-3zM380 948h3v1h-3zM350 949h3v1h-3zM356 949h3v1h-3zM807 941h2v1h-2zM812 941h3v1h-3zM818 941h3v1h-3zM824 940h3v1h-3zM830 940h3v1h-3zM836 940h3v1h-3zM842 939h3v1h-3zM848 939h3v1h-3zM854 939h1v1h-1zM855 938h2v1h-2zM860 938h3v1h-3zM866 938h3v1h-3zM872 938h3v1h-3zM878 938h1v1h-1zM879 937h2v1h-2zM884 937h3v1h-3zM890 937h3v1h-3zM896 936h3v1h-3zM902 936h3v1h-3zM908 936h3v1h-3zM914 935h3v1h-3zM920 935h3v1h-3zM926 935h1v1h-1zM1006 935h1v1h-1zM1010 935h3v1h-3zM1016 935h3v1h-3zM1022 935h3v1h-3zM1028 935h3v1h-3zM1034 935h3v1h-3zM1040 935h3v1h-3zM1046 935h1v1h-1zM1366 935h1v1h-1zM1370 935h3v1h-3zM1376 935h3v1h-3zM1382 935h3v1h-3zM1388 935h1v1h-1zM927 934h2v1h-2zM932 934h3v1h-3zM938 934h3v1h-3zM974 934h3v1h-3zM980 934h3v1h-3zM986 934h3v1h-3zM992 934h3v1h-3zM998 934h3v1h-3zM1004 934h2v1h-2zM1047 934h2v1h-2zM1052 934h3v1h-3zM1058 934h3v1h-3zM1064 934h3v1h-3zM1360 934h1v1h-1zM1364 934h2v1h-2zM1389 934h2v1h-2zM944 933h3v1h-3zM950 933h3v1h-3zM956 933h3v1h-3zM962 933h3v1h-3zM968 933h3v1h-3zM1070 933h3v1h-3zM1358 933h2v1h-2zM1394 933h1v1h-1zM1076 932h3v1h-3zM1352 932h3v1h-3zM1082 931h3v1h-3zM1348 931h1v1h-1zM1088 930h3v1h-3zM1346 930h2v1h-2zM1094 929h3v1h-3zM1100 928h1v1h-1zM1341 928h2v1h-2zM1101 927h2v1h-2zM1340 927h1v1h-1zM1106 926h2v1h-2zM1108 925h1v1h-1zM1335 925h2v1h-2zM1112 923h2v1h-2zM1114 922h1v1h-1zM1329 922h2v1h-2zM1118 921h3v1h-3zM1328 921h1v1h-1zM1124 919h3v1h-3zM1323 919h2v1h-2zM1130 917h2v1h-2zM1318 917h1v1h-1zM1132 916h1v1h-1zM1316 916h2v1h-2zM1136 915h1v1h-1zM1137 914h2v1h-2zM1311 914h2v1h-2zM1142 912h2v1h-2zM1144 911h1v1h-1zM1305 911h2v1h-2zM1148 909h3v1h-3zM1154 907h2v1h-2zM1298 907h1v1h-1zM1156 906h1v1h-1zM1292 906h3v1h-3zM1160 905h1v1h-1zM1288 905h1v1h-1zM1161 904h2v1h-2zM1286 904h2v1h-2zM1166 903h3v1h-3zM1280 903h3v1h-3zM1172 901h3v1h-3zM1270 901h1v1h-1zM1274 901h2v1h-2zM1178 899h2v1h-2zM1256 899h3v1h-3zM1180 898h1v1h-1zM1252 898h1v1h-1zM1184 896h2v1h-2zM1244 896h3v1h-3zM1186 895h1v1h-1zM1190 895h1v1h-1zM1238 895h3v1h-3zM1191 894h2v1h-2zM1196 894h3v1h-3zM1232 894h3v1h-3zM1202 893h3v1h-3zM1208 893h3v1h-3zM1214 893h3v1h-3zM1220 893h3v1h-3zM1226 893h3v1h-3zM1250 897h2v1h-2zM1262 900h3v1h-3zM1268 900h2v1h-2zM1276 902h1v1h-1zM1299 908h2v1h-2zM1304 910h1v1h-1zM1310 913h1v1h-1zM1322 918h1v1h-1zM1334 924h1v1h-1z" fill="#FF0000"/>
</g>
<g clip-path="url(#c3)">
<line x1="2" y1="975.5" x2="1683" y2="975.5" stroke="#C0C0C0" stroke-width="1" stroke-dasharray="3 3"/>
<line x1="2" y1="1024.5" x2="1683" y2="1024.5" stroke="#C0C0C0" stroke-width="1" stroke-dasharray="3 3"/>
</g>
<g clip-path="url(#c3)">
<line x1="42.5" y1="2" x2="42.5" y2="1040" stroke="#000" stroke-width="1" stroke-dasharray="3 3"/>
<line x1="218.5" y1="2" x2="218.5" y2="1040" stroke="#000" stroke-width="1" stroke-dasharray="3 3"/>
<line x1="402.5" y1="2" x2="402.5" y2="1040" stroke="#000" stroke-width="1" stroke-dasharray="3 3"/>
<line x1="562.5" y1="2" x2="562.5" y2="1040" stroke="#000" stroke-width="1" stroke-dasharray="3 3"/>
<line x1="738.5" y1="2" x2="738.5" y2="1040" stroke="#000" stroke-width="1" stroke-dasharray="3 3"/>
<line x1="906.5" y1="2" x2="906.5" y2="1040" stroke="#000" stroke-width="1" stroke-dasharray="3 3"/>
<line x1="1066.5" y1="2" x2="1066.5" y2="1040" stroke="#000" stroke-width="1" stroke-dasharray="3 3"/>
<line x1="1242.5" y1="2" x2="1242.5" y2="1040" stroke="#000" stroke-width="1" stroke-dasharray="3 3"/>
<line x1="1410.5" y1="2" x2="1410.5" y2="1040" stroke="#000" stroke-width="1" stroke-dasharray="3 3"/>
</g>
<g clip-path="url(#c3)">
<path d="M2 967h1v1h-1zM694 967h1v1h-1zM700 967h1v1h-1zM791 967h7v1h-7zM874 967h5v1h-5zM897 967h2v1h-2zM1018 967h4v1h-4zM1359 967h1v1h-1zM3 968h1v1h-1zM354 968h4v1h-4zM693 968h1v1h-1zM700 968h1v1h-1zM786 968h5v1h-5zM798 968h5v1h-5zM873 968h1v1h-1zM899 968h1v1h-1zM1018 968h1v1h-1zM1022 968h5v1h-5zM1358 968h1v1h-1zM3 969h1v1h-1zM186 969h9v1h-9zM353 969h1v1h-1zM358 969h5v1h-5zM691 969h2v1h-2zM701 969h1v1h-1zM786 969h1v1h-1zM803 969h1v1h-1zM873 969h1v1h-1zM899 969h1v1h-1zM1017 969h1v1h-1zM1027 969h2v1h-2zM1097 969h2v1h-2zM1357 969h1v1h-1zM4 970h1v1h-1zM186 970h1v1h-1zM194 970h1v1h-1zM351 970h2v1h-2zM363 970h1v1h-1zM690 970h1v1h-1zM702 970h1v1h-1zM785 970h1v1h-1zM803 970h1v1h-1zM872 970h1v1h-1zM900 970h1v1h-1zM1017 970h1v1h-1zM1029 970h2v1h-2zM1095 970h2v1h-2zM1098 970h1v1h-1zM1356 970h1v1h-1zM5 971h1v1h-1zM185 971h1v1h-1zM195 971h1v1h-1zM350 971h1v1h-1zM364 971h1v1h-1zM690 971h1v1h-1zM702 971h1v1h-1zM785 971h1v1h-1zM804 971h1v1h-1zM871 971h1v1h-1zM900 971h1v1h-1zM1016 971h1v1h-1zM1031 971h2v1h-2zM1092 971h3v1h-3zM1099 971h1v1h-1zM1162 971h1v1h-1zM1355 971h1v1h-1zM5 972h1v1h-1zM185 972h1v1h-1zM195 972h1v1h-1zM349 972h1v1h-1zM365 972h1v1h-1zM689 972h1v1h-1zM703 972h1v1h-1zM784 972h1v1h-1zM804 972h1v1h-1zM871 972h1v1h-1zM901 972h1v1h-1zM1016 972h1v1h-1zM1033 972h2v1h-2zM1090 972h2v1h-2zM1099 972h1v1h-1zM1161 972h1v1h-1zM1163 972h1v1h-1zM1354 972h1v1h-1zM6 973h1v1h-1zM184 973h1v1h-1zM196 973h1v1h-1zM347 973h2v1h-2zM366 973h1v1h-1zM689 973h1v1h-1zM704 973h1v1h-1zM784 973h1v1h-1zM805 973h1v1h-1zM870 973h1v1h-1zM901 973h1v1h-1zM1015 973h1v1h-1zM1035 973h1v1h-1zM1088 973h2v1h-2zM1099 973h1v1h-1zM1160 973h1v1h-1zM1164 973h1v1h-1zM1354 973h1v1h-1zM7 974h1v1h-1zM184 974h1v1h-1zM196 974h1v1h-1zM346 974h1v1h-1zM366 974h1v1h-1zM688 974h1v1h-1zM704 974h1v1h-1zM783 974h1v1h-1zM806 974h1v1h-1zM858 974h1v1h-1zM869 974h1v1h-1zM902 974h1v1h-1zM1015 974h1v1h-1zM1036 974h1v1h-1zM1086 974h2v1h-2zM1100 974h1v1h-1zM1160 974h1v1h-1zM1165 974h1v1h-1zM1353 974h1v1h-1zM7 975h1v1h-1zM184 975h1v1h-1zM197 975h1v1h-1zM346 975h1v1h-1zM367 975h1v1h-1zM688 975h1v1h-1zM705 975h1v1h-1zM783 975h1v1h-1zM806 975h1v1h-1zM858 975h3v1h-3zM869 975h1v1h-1zM903 975h1v1h-1zM1014 975h1v1h-1zM1037 975h1v1h-1zM1084 975h2v1h-2zM1100 975h1v1h-1zM1159 975h1v1h-1zM1166 975h1v1h-1zM1234 975h1v1h-1zM1353 975h1v1h-1zM8 976h1v1h-1zM138 976h2v1h-2zM183 976h1v1h-1zM197 976h1v1h-1zM345 976h1v1h-1zM368 976h1v1h-1zM687 976h1v1h-1zM705 976h1v1h-1zM782 976h1v1h-1zM807 976h1v1h-1zM857 976h1v1h-1zM861 976h1v1h-1zM868 976h1v1h-1zM903 976h1v1h-1zM1014 976h1v1h-1zM1038 976h1v1h-1zM1081 976h3v1h-3zM1100 976h1v1h-1zM1158 976h1v1h-1zM1166 976h1v1h-1zM1232 976h2v1h-2zM1235 976h1v1h-1zM1353 976h1v1h-1zM9 977h1v1h-1zM136 977h2v1h-2zM140 977h2v1h-2zM183 977h1v1h-1zM198 977h1v1h-1zM345 977h1v1h-1zM369 977h1v1h-1zM687 977h1v1h-1zM706 977h1v1h-1zM782 977h1v1h-1zM808 977h1v1h-1zM857 977h1v1h-1zM862 977h2v1h-2zM867 977h1v1h-1zM904 977h1v1h-1zM962 977h1v1h-1zM1013 977h1v1h-1zM1039 977h1v1h-1zM1077 977h4v1h-4zM1101 977h1v1h-1zM1157 977h1v1h-1zM1167 977h1v1h-1zM1231 977h1v1h-1zM1235 977h1v1h-1zM1352 977h1v1h-1zM9 978h1v1h-1zM50 978h1v1h-1zM135 978h1v1h-1zM142 978h3v1h-3zM183 978h1v1h-1zM198 978h1v1h-1zM345 978h1v1h-1zM370 978h1v1h-1zM562 978h1v1h-1zM686 978h1v1h-1zM707 978h1v1h-1zM781 978h1v1h-1zM808 978h1v1h-1zM857 978h1v1h-1zM864 978h2v1h-2zM867 978h1v1h-1zM904 978h1v1h-1zM960 978h2v1h-2zM963 978h1v1h-1zM1013 978h1v1h-1zM1040 978h1v1h-1zM1074 978h3v1h-3zM1101 978h1v1h-1zM1156 978h1v1h-1zM1168 978h1v1h-1zM1229 978h2v1h-2zM1236 978h1v1h-1zM1266 978h1v1h-1zM1352 978h1v1h-1zM10 979h1v1h-1zM49 979h1v1h-1zM51 979h1v1h-1zM133 979h2v1h-2zM145 979h2v1h-2zM182 979h1v1h-1zM198 979h1v1h-1zM344 979h1v1h-1zM371 979h1v1h-1zM561 979h1v1h-1zM563 979h1v1h-1zM686 979h1v1h-1zM707 979h1v1h-1zM781 979h1v1h-1zM809 979h1v1h-1zM857 979h1v1h-1zM866 979h1v1h-1zM905 979h1v1h-1zM959 979h1v1h-1zM963 979h1v1h-1zM1012 979h1v1h-1zM1041 979h1v1h-1zM1072 979h2v1h-2zM1101 979h1v1h-1zM1156 979h1v1h-1zM1169 979h1v1h-1zM1227 979h2v1h-2zM1236 979h1v1h-1zM1265 979h2v1h-2zM1351 979h1v1h-1zM11 980h1v1h-1zM48 980h1v1h-1zM52 980h1v1h-1zM131 980h2v1h-2zM146 980h1v1h-1zM182 980h1v1h-1zM199 980h1v1h-1zM344 980h1v1h-1zM372 980h1v1h-1zM560 980h1v1h-1zM563 980h1v1h-1zM685 980h1v1h-1zM708 980h1v1h-1zM780 980h1v1h-1zM809 980h1v1h-1zM856 980h1v1h-1zM905 980h1v1h-1zM957 980h2v1h-2zM964 980h1v1h-1zM1012 980h1v1h-1zM1042 980h1v1h-1zM1071 980h1v1h-1zM1102 980h1v1h-1zM1155 980h1v1h-1zM1170 980h1v1h-1zM1226 980h1v1h-1zM1237 980h1v1h-1zM1264 980h1v1h-1zM1267 980h1v1h-1zM1351 980h1v1h-1zM11 981h1v1h-1zM47 981h1v1h-1zM52 981h1v1h-1zM130 981h1v1h-1zM147 981h1v1h-1zM181 981h1v1h-1zM199 981h1v1h-1zM344 981h1v1h-1zM372 981h1v1h-1zM559 981h1v1h-1zM564 981h1v1h-1zM685 981h1v1h-1zM709 981h1v1h-1zM780 981h1v1h-1zM810 981h1v1h-1zM856 981h1v1h-1zM906 981h1v1h-1zM955 981h2v1h-2zM964 981h1v1h-1zM1011 981h1v1h-1zM1043 981h1v1h-1zM1069 981h2v1h-2zM1102 981h1v1h-1zM1154 981h1v1h-1zM1171 981h2v1h-2zM1226 981h1v1h-1zM1238 981h1v1h-1zM1263 981h1v1h-1zM1267 981h1v1h-1zM1351 981h1v1h-1zM12 982h1v1h-1zM46 982h1v1h-1zM53 982h1v1h-1zM130 982h1v1h-1zM147 982h1v1h-1zM181 982h1v1h-1zM200 982h1v1h-1zM343 982h1v1h-1zM373 982h1v1h-1zM558 982h1v1h-1zM564 982h1v1h-1zM684 982h1v1h-1zM710 982h1v1h-1zM779 982h1v1h-1zM810 982h1v1h-1zM856 982h1v1h-1zM907 982h1v1h-1zM954 982h1v1h-1zM965 982h1v1h-1zM1011 982h1v1h-1zM1044 982h1v1h-1zM1067 982h2v1h-2zM1102 982h1v1h-1zM1153 982h1v1h-1zM1173 982h1v1h-1zM1225 982h1v1h-1zM1238 982h1v1h-1zM1262 982h1v1h-1zM1268 982h1v1h-1zM1350 982h1v1h-1zM13 983h1v1h-1zM46 983h1v1h-1zM54 983h1v1h-1zM129 983h1v1h-1zM148 983h1v1h-1zM181 983h1v1h-1zM200 983h1v1h-1zM343 983h1v1h-1zM374 983h1v1h-1zM558 983h1v1h-1zM565 983h1v1h-1zM684 983h1v1h-1zM710 983h1v1h-1zM779 983h1v1h-1zM811 983h1v1h-1zM855 983h1v1h-1zM907 983h1v1h-1zM953 983h1v1h-1zM965 983h1v1h-1zM1010 983h1v1h-1zM1045 983h1v1h-1zM1063 983h4v1h-4zM1102 983h1v1h-1zM1152 983h1v1h-1zM1174 983h2v1h-2zM1225 983h1v1h-1zM1239 983h1v1h-1zM1262 983h1v1h-1zM1268 983h1v1h-1zM1350 983h1v1h-1zM14 984h1v1h-1zM45 984h1v1h-1zM55 984h1v1h-1zM129 984h1v1h-1zM148 984h1v1h-1zM180 984h1v1h-1zM201 984h1v1h-1zM343 984h1v1h-1zM375 984h1v1h-1zM557 984h1v1h-1zM565 984h1v1h-1zM683 984h1v1h-1zM711 984h1v1h-1zM778 984h1v1h-1zM811 984h1v1h-1zM855 984h1v1h-1zM908 984h1v1h-1zM952 984h1v1h-1zM966 984h1v1h-1zM1010 984h1v1h-1zM1046 984h1v1h-1zM1058 984h5v1h-5zM1103 984h1v1h-1zM1151 984h1v1h-1zM1176 984h2v1h-2zM1224 984h1v1h-1zM1240 984h1v1h-1zM1261 984h1v1h-1zM1268 984h1v1h-1zM1350 984h1v1h-1zM14 985h1v1h-1zM44 985h1v1h-1zM56 985h1v1h-1zM128 985h1v1h-1zM149 985h1v1h-1zM180 985h1v1h-1zM201 985h1v1h-1zM342 985h1v1h-1zM376 985h1v1h-1zM556 985h1v1h-1zM566 985h1v1h-1zM683 985h1v1h-1zM712 985h1v1h-1zM777 985h1v1h-1zM812 985h1v1h-1zM855 985h1v1h-1zM909 985h1v1h-1zM951 985h1v1h-1zM966 985h1v1h-1zM1009 985h1v1h-1zM1047 985h1v1h-1zM1056 985h2v1h-2zM1103 985h1v1h-1zM1150 985h1v1h-1zM1178 985h1v1h-1zM1224 985h1v1h-1zM1240 985h1v1h-1zM1260 985h1v1h-1zM1269 985h1v1h-1zM1349 985h1v1h-1zM15 986h1v1h-1zM43 986h1v1h-1zM56 986h1v1h-1zM128 986h1v1h-1zM149 986h1v1h-1zM180 986h1v1h-1zM202 986h1v1h-1zM342 986h1v1h-1zM376 986h1v1h-1zM555 986h1v1h-1zM567 986h1v1h-1zM682 986h1v1h-1zM713 986h1v1h-1zM777 986h1v1h-1zM812 986h1v1h-1zM854 986h1v1h-1zM910 986h1v1h-1zM950 986h1v1h-1zM967 986h1v1h-1zM1009 986h1v1h-1zM1048 986h1v1h-1zM1054 986h2v1h-2zM1103 986h1v1h-1zM1150 986h1v1h-1zM1178 986h1v1h-1zM1223 986h1v1h-1zM1241 986h1v1h-1zM1259 986h1v1h-1zM1269 986h1v1h-1zM1349 986h1v1h-1zM16 987h1v1h-1zM42 987h1v1h-1zM57 987h1v1h-1zM127 987h1v1h-1zM150 987h1v1h-1zM179 987h1v1h-1zM202 987h1v1h-1zM341 987h1v1h-1zM377 987h1v1h-1zM490 987h2v1h-2zM554 987h1v1h-1zM567 987h1v1h-1zM682 987h1v1h-1zM713 987h1v1h-1zM776 987h1v1h-1zM813 987h1v1h-1zM854 987h1v1h-1zM910 987h1v1h-1zM950 987h1v1h-1zM967 987h1v1h-1zM1008 987h1v1h-1zM1049 987h1v1h-1zM1052 987h2v1h-2zM1104 987h1v1h-1zM1149 987h1v1h-1zM1179 987h1v1h-1zM1223 987h1v1h-1zM1241 987h1v1h-1zM1258 987h1v1h-1zM1269 987h1v1h-1zM1349 987h1v1h-1zM17 988h1v1h-1zM41 988h1v1h-1zM58 988h1v1h-1zM127 988h1v1h-1zM150 988h1v1h-1zM179 988h1v1h-1zM202 988h1v1h-1zM341 988h1v1h-1zM378 988h1v1h-1zM489 988h1v1h-1zM492 988h2v1h-2zM553 988h1v1h-1zM568 988h1v1h-1zM682 988h1v1h-1zM714 988h1v1h-1zM776 988h1v1h-1zM813 988h1v1h-1zM854 988h1v1h-1zM911 988h1v1h-1zM949 988h1v1h-1zM968 988h1v1h-1zM1008 988h1v1h-1zM1050 988h2v1h-2zM1104 988h1v1h-1zM1148 988h1v1h-1zM1179 988h1v1h-1zM1222 988h1v1h-1zM1242 988h1v1h-1zM1257 988h1v1h-1zM1270 988h1v1h-1zM1348 988h1v1h-1zM17 989h1v1h-1zM41 989h1v1h-1zM58 989h1v1h-1zM126 989h1v1h-1zM150 989h1v1h-1zM178 989h1v1h-1zM203 989h1v1h-1zM258 989h2v1h-2zM341 989h1v1h-1zM378 989h1v1h-1zM489 989h1v1h-1zM494 989h3v1h-3zM552 989h1v1h-1zM568 989h1v1h-1zM594 989h1v1h-1zM681 989h1v1h-1zM715 989h1v1h-1zM775 989h1v1h-1zM814 989h1v1h-1zM854 989h1v1h-1zM912 989h1v1h-1zM948 989h1v1h-1zM968 989h1v1h-1zM1007 989h1v1h-1zM1104 989h1v1h-1zM1147 989h1v1h-1zM1180 989h1v1h-1zM1222 989h1v1h-1zM1243 989h2v1h-2zM1255 989h2v1h-2zM1270 989h1v1h-1zM1348 989h1v1h-1zM18 990h1v1h-1zM40 990h1v1h-1zM59 990h1v1h-1zM114 990h1v1h-1zM126 990h1v1h-1zM151 990h1v1h-1zM178 990h1v1h-1zM203 990h1v1h-1zM258 990h1v1h-1zM260 990h4v1h-4zM340 990h1v1h-1zM379 990h1v1h-1zM488 990h1v1h-1zM497 990h2v1h-2zM552 990h1v1h-1zM569 990h1v1h-1zM593 990h1v1h-1zM595 990h1v1h-1zM681 990h1v1h-1zM715 990h1v1h-1zM775 990h1v1h-1zM814 990h1v1h-1zM853 990h1v1h-1zM913 990h1v1h-1zM947 990h1v1h-1zM969 990h1v1h-1zM1007 990h1v1h-1zM1105 990h1v1h-1zM1146 990h1v1h-1zM1180 990h1v1h-1zM1222 990h1v1h-1zM1245 990h1v1h-1zM1254 990h1v1h-1zM1271 990h1v1h-1zM1347 990h1v1h-1zM19 991h1v1h-1zM40 991h1v1h-1zM59 991h1v1h-1zM113 991h1v1h-1zM115 991h1v1h-1zM125 991h1v1h-1zM151 991h1v1h-1zM178 991h1v1h-1zM204 991h1v1h-1zM257 991h1v1h-1zM264 991h3v1h-3zM340 991h1v1h-1zM379 991h1v1h-1zM488 991h1v1h-1zM499 991h1v1h-1zM551 991h1v1h-1zM569 991h1v1h-1zM593 991h1v1h-1zM596 991h1v1h-1zM680 991h1v1h-1zM716 991h1v1h-1zM774 991h1v1h-1zM815 991h1v1h-1zM853 991h1v1h-1zM913 991h1v1h-1zM946 991h1v1h-1zM969 991h1v1h-1zM1006 991h1v1h-1zM1105 991h1v1h-1zM1145 991h1v1h-1zM1180 991h1v1h-1zM1221 991h1v1h-1zM1246 991h2v1h-2zM1253 991h1v1h-1zM1271 991h1v1h-1zM1347 991h1v1h-1zM19 992h1v1h-1zM39 992h1v1h-1zM60 992h1v1h-1zM112 992h1v1h-1zM116 992h1v1h-1zM125 992h1v1h-1zM152 992h1v1h-1zM177 992h1v1h-1zM204 992h1v1h-1zM257 992h1v1h-1zM266 992h1v1h-1zM340 992h1v1h-1zM380 992h1v1h-1zM487 992h1v1h-1zM500 992h1v1h-1zM550 992h1v1h-1zM570 992h1v1h-1zM592 992h1v1h-1zM597 992h1v1h-1zM680 992h1v1h-1zM717 992h1v1h-1zM774 992h1v1h-1zM815 992h1v1h-1zM853 992h1v1h-1zM914 992h1v1h-1zM944 992h2v1h-2zM970 992h1v1h-1zM1006 992h1v1h-1zM1105 992h1v1h-1zM1145 992h1v1h-1zM1181 992h1v1h-1zM1221 992h1v1h-1zM1248 992h2v1h-2zM1251 992h2v1h-2zM1271 992h1v1h-1zM1347 992h1v1h-1zM20 993h1v1h-1zM38 993h1v1h-1zM60 993h1v1h-1zM111 993h1v1h-1zM117 993h1v1h-1zM124 993h1v1h-1zM152 993h1v1h-1zM177 993h1v1h-1zM204 993h1v1h-1zM257 993h1v1h-1zM267 993h1v1h-1zM339 993h1v1h-1zM380 993h1v1h-1zM450 993h1v1h-1zM487 993h1v1h-1zM500 993h1v1h-1zM549 993h1v1h-1zM571 993h2v1h-2zM592 993h1v1h-1zM598 993h2v1h-2zM679 993h1v1h-1zM717 993h1v1h-1zM773 993h1v1h-1zM816 993h1v1h-1zM852 993h1v1h-1zM915 993h1v1h-1zM942 993h2v1h-2zM970 993h1v1h-1zM1005 993h1v1h-1zM1106 993h1v1h-1zM1144 993h1v1h-1zM1181 993h1v1h-1zM1220 993h1v1h-1zM1250 993h1v1h-1zM1272 993h1v1h-1zM1346 993h1v1h-1zM21 994h1v1h-1zM38 994h1v1h-1zM61 994h1v1h-1zM110 994h1v1h-1zM118 994h2v1h-2zM124 994h1v1h-1zM153 994h1v1h-1zM177 994h1v1h-1zM205 994h1v1h-1zM256 994h1v1h-1zM267 994h1v1h-1zM339 994h1v1h-1zM381 994h1v1h-1zM450 994h2v1h-2zM486 994h1v1h-1zM501 994h1v1h-1zM548 994h1v1h-1zM573 994h2v1h-2zM591 994h1v1h-1zM600 994h1v1h-1zM679 994h1v1h-1zM718 994h1v1h-1zM773 994h1v1h-1zM816 994h1v1h-1zM852 994h1v1h-1zM916 994h1v1h-1zM940 994h2v1h-2zM971 994h1v1h-1zM1005 994h1v1h-1zM1106 994h1v1h-1zM1143 994h1v1h-1zM1181 994h1v1h-1zM1220 994h1v1h-1zM1272 994h1v1h-1zM1346 994h1v1h-1zM21 995h1v1h-1zM37 995h1v1h-1zM61 995h1v1h-1zM110 995h1v1h-1zM120 995h1v1h-1zM123 995h1v1h-1zM153 995h1v1h-1zM176 995h1v1h-1zM205 995h1v1h-1zM256 995h1v1h-1zM267 995h1v1h-1zM339 995h1v1h-1zM381 995h1v1h-1zM449 995h1v1h-1zM452 995h1v1h-1zM486 995h1v1h-1zM502 995h1v1h-1zM548 995h1v1h-1zM575 995h2v1h-2zM591 995h1v1h-1zM601 995h1v1h-1zM678 995h1v1h-1zM719 995h1v1h-1zM772 995h1v1h-1zM817 995h1v1h-1zM852 995h1v1h-1zM917 995h1v1h-1zM935 995h5v1h-5zM971 995h1v1h-1zM1004 995h1v1h-1zM1107 995h1v1h-1zM1143 995h1v1h-1zM1182 995h1v1h-1zM1219 995h1v1h-1zM1272 995h1v1h-1zM1345 995h1v1h-1zM22 996h1v1h-1zM36 996h1v1h-1zM62 996h1v1h-1zM109 996h1v1h-1zM121 996h1v1h-1zM123 996h1v1h-1zM154 996h1v1h-1zM176 996h1v1h-1zM205 996h1v1h-1zM256 996h1v1h-1zM268 996h1v1h-1zM338 996h1v1h-1zM381 996h1v1h-1zM410 996h1v1h-1zM449 996h1v1h-1zM452 996h1v1h-1zM485 996h1v1h-1zM503 996h1v1h-1zM547 996h1v1h-1zM577 996h2v1h-2zM590 996h1v1h-1zM602 996h1v1h-1zM678 996h1v1h-1zM719 996h1v1h-1zM746 996h2v1h-2zM772 996h1v1h-1zM817 996h1v1h-1zM851 996h1v1h-1zM918 996h1v1h-1zM930 996h5v1h-5zM972 996h1v1h-1zM1004 996h1v1h-1zM1107 996h1v1h-1zM1142 996h1v1h-1zM1182 996h1v1h-1zM1219 996h1v1h-1zM1273 996h1v1h-1zM1345 996h1v1h-1zM23 997h1v1h-1zM36 997h1v1h-1zM62 997h1v1h-1zM108 997h1v1h-1zM122 997h1v1h-1zM154 997h1v1h-1zM175 997h1v1h-1zM206 997h1v1h-1zM255 997h1v1h-1zM268 997h1v1h-1zM338 997h1v1h-1zM382 997h1v1h-1zM409 997h1v1h-1zM411 997h1v1h-1zM448 997h1v1h-1zM453 997h1v1h-1zM485 997h1v1h-1zM504 997h1v1h-1zM546 997h1v1h-1zM579 997h1v1h-1zM590 997h1v1h-1zM602 997h1v1h-1zM677 997h1v1h-1zM720 997h1v1h-1zM745 997h1v1h-1zM748 997h2v1h-2zM771 997h1v1h-1zM818 997h1v1h-1zM851 997h1v1h-1zM919 997h1v1h-1zM928 997h2v1h-2zM972 997h1v1h-1zM1003 997h1v1h-1zM1108 997h1v1h-1zM1141 997h1v1h-1zM1183 997h1v1h-1zM1218 997h1v1h-1zM1273 997h1v1h-1zM1344 997h1v1h-1zM23 998h1v1h-1zM35 998h1v1h-1zM62 998h1v1h-1zM107 998h1v1h-1zM154 998h1v1h-1zM175 998h1v1h-1zM206 998h1v1h-1zM255 998h1v1h-1zM269 998h1v1h-1zM338 998h1v1h-1zM382 998h1v1h-1zM408 998h1v1h-1zM411 998h1v1h-1zM448 998h1v1h-1zM454 998h1v1h-1zM484 998h1v1h-1zM504 998h1v1h-1zM545 998h1v1h-1zM580 998h1v1h-1zM589 998h1v1h-1zM603 998h1v1h-1zM677 998h1v1h-1zM721 998h1v1h-1zM744 998h1v1h-1zM750 998h3v1h-3zM771 998h1v1h-1zM818 998h1v1h-1zM851 998h1v1h-1zM920 998h1v1h-1zM926 998h2v1h-2zM973 998h1v1h-1zM1003 998h1v1h-1zM1108 998h1v1h-1zM1141 998h1v1h-1zM1183 998h1v1h-1zM1218 998h1v1h-1zM1274 998h1v1h-1zM1344 998h1v1h-1zM24 999h1v1h-1zM35 999h1v1h-1zM63 999h1v1h-1zM106 999h1v1h-1zM155 999h1v1h-1zM175 999h1v1h-1zM207 999h1v1h-1zM255 999h1v1h-1zM269 999h1v1h-1zM337 999h1v1h-1zM383 999h1v1h-1zM407 999h1v1h-1zM412 999h1v1h-1zM448 999h1v1h-1zM455 999h1v1h-1zM484 999h1v1h-1zM505 999h1v1h-1zM544 999h1v1h-1zM581 999h1v1h-1zM589 999h1v1h-1zM603 999h1v1h-1zM676 999h1v1h-1zM721 999h1v1h-1zM744 999h1v1h-1zM753 999h3v1h-3zM769 999h2v1h-2zM818 999h1v1h-1zM851 999h1v1h-1zM921 999h1v1h-1zM924 999h2v1h-2zM973 999h1v1h-1zM1002 999h1v1h-1zM1109 999h1v1h-1zM1140 999h1v1h-1zM1183 999h1v1h-1zM1218 999h1v1h-1zM1274 999h1v1h-1zM1343 999h1v1h-1zM25 1000h1v1h-1zM33 1000h2v1h-2zM63 1000h1v1h-1zM105 1000h1v1h-1zM155 1000h1v1h-1zM174 1000h1v1h-1zM207 1000h1v1h-1zM254 1000h1v1h-1zM269 1000h1v1h-1zM337 1000h1v1h-1zM383 1000h1v1h-1zM406 1000h1v1h-1zM413 1000h1v1h-1zM447 1000h1v1h-1zM456 1000h1v1h-1zM483 1000h1v1h-1zM506 1000h1v1h-1zM544 1000h1v1h-1zM582 1000h1v1h-1zM588 1000h1v1h-1zM604 1000h1v1h-1zM676 1000h1v1h-1zM722 1000h2v1h-2zM743 1000h1v1h-1zM756 1000h2v1h-2zM767 1000h2v1h-2zM819 1000h1v1h-1zM850 1000h1v1h-1zM922 1000h2v1h-2zM974 1000h1v1h-1zM1002 1000h1v1h-1zM1110 1000h1v1h-1zM1139 1000h1v1h-1zM1184 1000h1v1h-1zM1217 1000h1v1h-1zM1275 1000h1v1h-1zM1343 1000h1v1h-1zM25 1001h1v1h-1zM29 1001h4v1h-4zM64 1001h1v1h-1zM103 1001h2v1h-2zM156 1001h1v1h-1zM174 1001h1v1h-1zM207 1001h1v1h-1zM254 1001h1v1h-1zM270 1001h1v1h-1zM336 1001h1v1h-1zM383 1001h1v1h-1zM405 1001h1v1h-1zM414 1001h1v1h-1zM447 1001h1v1h-1zM456 1001h1v1h-1zM483 1001h1v1h-1zM506 1001h1v1h-1zM543 1001h1v1h-1zM583 1001h1v1h-1zM588 1001h1v1h-1zM604 1001h1v1h-1zM675 1001h1v1h-1zM724 1001h4v1h-4zM742 1001h1v1h-1zM758 1001h3v1h-3zM764 1001h3v1h-3zM819 1001h1v1h-1zM850 1001h1v1h-1zM974 1001h1v1h-1zM1002 1001h1v1h-1zM1110 1001h1v1h-1zM1139 1001h1v1h-1zM1184 1001h1v1h-1zM1217 1001h1v1h-1zM1275 1001h1v1h-1zM1342 1001h1v1h-1zM26 1002h3v1h-3zM64 1002h1v1h-1zM102 1002h1v1h-1zM156 1002h1v1h-1zM174 1002h1v1h-1zM208 1002h1v1h-1zM254 1002h1v1h-1zM270 1002h1v1h-1zM336 1002h1v1h-1zM384 1002h1v1h-1zM404 1002h1v1h-1zM414 1002h1v1h-1zM446 1002h1v1h-1zM457 1002h1v1h-1zM482 1002h1v1h-1zM507 1002h1v1h-1zM542 1002h1v1h-1zM584 1002h1v1h-1zM587 1002h1v1h-1zM605 1002h1v1h-1zM675 1002h1v1h-1zM728 1002h3v1h-3zM741 1002h1v1h-1zM761 1002h3v1h-3zM820 1002h1v1h-1zM849 1002h1v1h-1zM975 1002h1v1h-1zM1001 1002h1v1h-1zM1111 1002h1v1h-1zM1138 1002h1v1h-1zM1184 1002h1v1h-1zM1216 1002h1v1h-1zM1276 1002h1v1h-1zM1341 1002h1v1h-1zM65 1003h1v1h-1zM101 1003h1v1h-1zM157 1003h1v1h-1zM173 1003h1v1h-1zM208 1003h1v1h-1zM253 1003h1v1h-1zM270 1003h1v1h-1zM335 1003h1v1h-1zM384 1003h1v1h-1zM403 1003h1v1h-1zM415 1003h1v1h-1zM446 1003h1v1h-1zM458 1003h1v1h-1zM481 1003h1v1h-1zM507 1003h1v1h-1zM541 1003h1v1h-1zM585 1003h1v1h-1zM587 1003h1v1h-1zM605 1003h1v1h-1zM674 1003h1v1h-1zM731 1003h2v1h-2zM740 1003h1v1h-1zM820 1003h1v1h-1zM848 1003h1v1h-1zM975 1003h1v1h-1zM1001 1003h1v1h-1zM1112 1003h1v1h-1zM1137 1003h1v1h-1zM1185 1003h1v1h-1zM1216 1003h1v1h-1zM1277 1003h1v1h-1zM1341 1003h1v1h-1zM65 1004h1v1h-1zM99 1004h2v1h-2zM157 1004h1v1h-1zM173 1004h1v1h-1zM208 1004h1v1h-1zM253 1004h1v1h-1zM271 1004h1v1h-1zM335 1004h1v1h-1zM385 1004h1v1h-1zM402 1004h1v1h-1zM416 1004h1v1h-1zM446 1004h1v1h-1zM459 1004h1v1h-1zM481 1004h1v1h-1zM508 1004h1v1h-1zM540 1004h1v1h-1zM586 1004h1v1h-1zM606 1004h1v1h-1zM674 1004h1v1h-1zM733 1004h2v1h-2zM740 1004h1v1h-1zM821 1004h1v1h-1zM847 1004h1v1h-1zM976 1004h1v1h-1zM1000 1004h1v1h-1zM1112 1004h1v1h-1zM1136 1004h1v1h-1zM1185 1004h1v1h-1zM1215 1004h1v1h-1zM1278 1004h1v1h-1zM1340 1004h1v1h-1zM66 1005h1v1h-1zM98 1005h1v1h-1zM158 1005h1v1h-1zM173 1005h1v1h-1zM209 1005h1v1h-1zM253 1005h1v1h-1zM271 1005h1v1h-1zM334 1005h1v1h-1zM385 1005h1v1h-1zM401 1005h1v1h-1zM417 1005h1v1h-1zM445 1005h1v1h-1zM460 1005h1v1h-1zM480 1005h1v1h-1zM508 1005h1v1h-1zM540 1005h1v1h-1zM606 1005h1v1h-1zM673 1005h1v1h-1zM735 1005h2v1h-2zM739 1005h1v1h-1zM821 1005h1v1h-1zM846 1005h1v1h-1zM976 1005h1v1h-1zM1000 1005h1v1h-1zM1113 1005h1v1h-1zM1135 1005h1v1h-1zM1186 1005h1v1h-1zM1215 1005h1v1h-1zM1278 1005h1v1h-1zM1340 1005h1v1h-1zM66 1006h1v1h-1zM98 1006h1v1h-1zM158 1006h1v1h-1zM172 1006h1v1h-1zM209 1006h1v1h-1zM252 1006h1v1h-1zM271 1006h1v1h-1zM334 1006h1v1h-1zM386 1006h1v1h-1zM400 1006h1v1h-1zM417 1006h1v1h-1zM445 1006h1v1h-1zM461 1006h1v1h-1zM480 1006h1v1h-1zM508 1006h1v1h-1zM539 1006h1v1h-1zM607 1006h1v1h-1zM673 1006h1v1h-1zM737 1006h2v1h-2zM822 1006h1v1h-1zM846 1006h1v1h-1zM977 1006h1v1h-1zM1000 1006h1v1h-1zM1113 1006h1v1h-1zM1134 1006h1v1h-1zM1186 1006h1v1h-1zM1214 1006h1v1h-1zM1279 1006h1v1h-1zM1339 1006h1v1h-1zM66 1007h1v1h-1zM97 1007h1v1h-1zM159 1007h1v1h-1zM172 1007h1v1h-1zM210 1007h1v1h-1zM252 1007h1v1h-1zM272 1007h1v1h-1zM333 1007h1v1h-1zM386 1007h1v1h-1zM399 1007h1v1h-1zM418 1007h1v1h-1zM444 1007h1v1h-1zM462 1007h1v1h-1zM479 1007h1v1h-1zM509 1007h1v1h-1zM538 1007h1v1h-1zM607 1007h1v1h-1zM672 1007h1v1h-1zM822 1007h1v1h-1zM845 1007h1v1h-1zM977 1007h1v1h-1zM999 1007h1v1h-1zM1114 1007h1v1h-1zM1133 1007h1v1h-1zM1187 1007h1v1h-1zM1214 1007h1v1h-1zM1280 1007h1v1h-1zM1339 1007h1v1h-1zM67 1008h1v1h-1zM97 1008h1v1h-1zM159 1008h1v1h-1zM171 1008h1v1h-1zM210 1008h1v1h-1zM252 1008h1v1h-1zM272 1008h1v1h-1zM333 1008h1v1h-1zM387 1008h1v1h-1zM398 1008h1v1h-1zM419 1008h1v1h-1zM444 1008h1v1h-1zM463 1008h1v1h-1zM479 1008h1v1h-1zM509 1008h1v1h-1zM537 1008h1v1h-1zM608 1008h1v1h-1zM672 1008h1v1h-1zM822 1008h1v1h-1zM844 1008h1v1h-1zM978 1008h1v1h-1zM999 1008h1v1h-1zM1115 1008h1v1h-1zM1132 1008h1v1h-1zM1188 1008h1v1h-1zM1213 1008h1v1h-1zM1281 1008h1v1h-1zM1338 1008h1v1h-1zM67 1009h1v1h-1zM96 1009h1v1h-1zM160 1009h1v1h-1zM171 1009h1v1h-1zM210 1009h1v1h-1zM251 1009h1v1h-1zM273 1009h1v1h-1zM332 1009h1v1h-1zM388 1009h2v1h-2zM398 1009h1v1h-1zM419 1009h1v1h-1zM444 1009h1v1h-1zM464 1009h1v1h-1zM478 1009h1v1h-1zM510 1009h1v1h-1zM536 1009h1v1h-1zM608 1009h1v1h-1zM671 1009h1v1h-1zM823 1009h1v1h-1zM843 1009h1v1h-1zM978 1009h1v1h-1zM998 1009h1v1h-1zM1116 1009h1v1h-1zM1131 1009h1v1h-1zM1189 1009h1v1h-1zM1213 1009h1v1h-1zM1281 1009h1v1h-1zM1337 1009h1v1h-1zM67 1010h1v1h-1zM96 1010h1v1h-1zM160 1010h1v1h-1zM171 1010h1v1h-1zM211 1010h1v1h-1zM251 1010h1v1h-1zM273 1010h1v1h-1zM332 1010h1v1h-1zM390 1010h1v1h-1zM397 1010h1v1h-1zM420 1010h1v1h-1zM443 1010h1v1h-1zM465 1010h1v1h-1zM477 1010h1v1h-1zM510 1010h1v1h-1zM535 1010h1v1h-1zM609 1010h1v1h-1zM671 1010h1v1h-1zM823 1010h1v1h-1zM842 1010h1v1h-1zM979 1010h1v1h-1zM998 1010h1v1h-1zM1116 1010h1v1h-1zM1130 1010h1v1h-1zM1190 1010h1v1h-1zM1212 1010h1v1h-1zM1282 1010h1v1h-1zM1337 1010h1v1h-1zM68 1011h1v1h-1zM95 1011h1v1h-1zM161 1011h1v1h-1zM170 1011h1v1h-1zM211 1011h1v1h-1zM251 1011h1v1h-1zM273 1011h1v1h-1zM331 1011h1v1h-1zM391 1011h1v1h-1zM396 1011h1v1h-1zM420 1011h1v1h-1zM443 1011h1v1h-1zM466 1011h1v1h-1zM477 1011h1v1h-1zM510 1011h1v1h-1zM534 1011h1v1h-1zM609 1011h1v1h-1zM670 1011h1v1h-1zM824 1011h1v1h-1zM841 1011h1v1h-1zM980 1011h1v1h-1zM998 1011h1v1h-1zM1117 1011h1v1h-1zM1129 1011h1v1h-1zM1191 1011h1v1h-1zM1212 1011h1v1h-1zM1283 1011h1v1h-1zM1336 1011h1v1h-1zM68 1012h1v1h-1zM95 1012h1v1h-1zM161 1012h1v1h-1zM169 1012h2v1h-2zM212 1012h1v1h-1zM250 1012h1v1h-1zM274 1012h1v1h-1zM331 1012h1v1h-1zM392 1012h2v1h-2zM395 1012h1v1h-1zM421 1012h1v1h-1zM442 1012h1v1h-1zM467 1012h2v1h-2zM476 1012h1v1h-1zM511 1012h1v1h-1zM533 1012h1v1h-1zM610 1012h1v1h-1zM670 1012h1v1h-1zM824 1012h1v1h-1zM841 1012h1v1h-1zM981 1012h1v1h-1zM997 1012h1v1h-1zM1118 1012h1v1h-1zM1128 1012h1v1h-1zM1192 1012h1v1h-1zM1211 1012h1v1h-1zM1284 1012h1v1h-1zM1335 1012h1v1h-1zM69 1013h1v1h-1zM94 1013h1v1h-1zM162 1013h1v1h-1zM165 1013h4v1h-4zM212 1013h1v1h-1zM250 1013h1v1h-1zM274 1013h1v1h-1zM330 1013h1v1h-1zM394 1013h1v1h-1zM422 1013h1v1h-1zM442 1013h1v1h-1zM469 1013h1v1h-1zM476 1013h1v1h-1zM511 1013h1v1h-1zM532 1013h1v1h-1zM610 1013h1v1h-1zM669 1013h1v1h-1zM825 1013h1v1h-1zM840 1013h1v1h-1zM982 1013h1v1h-1zM997 1013h1v1h-1zM1119 1013h1v1h-1zM1127 1013h1v1h-1zM1193 1013h1v1h-1zM1211 1013h1v1h-1zM1285 1013h1v1h-1zM1335 1013h1v1h-1zM69 1014h1v1h-1zM94 1014h1v1h-1zM162 1014h3v1h-3zM212 1014h1v1h-1zM249 1014h1v1h-1zM275 1014h1v1h-1zM329 1014h1v1h-1zM422 1014h1v1h-1zM441 1014h1v1h-1zM470 1014h2v1h-2zM475 1014h1v1h-1zM512 1014h1v1h-1zM531 1014h1v1h-1zM611 1014h1v1h-1zM669 1014h1v1h-1zM825 1014h1v1h-1zM839 1014h1v1h-1zM983 1014h1v1h-1zM996 1014h1v1h-1zM1120 1014h1v1h-1zM1125 1014h2v1h-2zM1194 1014h1v1h-1zM1210 1014h1v1h-1zM1286 1014h1v1h-1zM1334 1014h1v1h-1zM69 1015h1v1h-1zM93 1015h1v1h-1zM213 1015h1v1h-1zM249 1015h1v1h-1zM275 1015h1v1h-1zM329 1015h1v1h-1zM423 1015h1v1h-1zM440 1015h1v1h-1zM472 1015h2v1h-2zM475 1015h1v1h-1zM512 1015h1v1h-1zM530 1015h1v1h-1zM612 1015h2v1h-2zM668 1015h1v1h-1zM826 1015h1v1h-1zM838 1015h1v1h-1zM984 1015h1v1h-1zM996 1015h1v1h-1zM1120 1015h1v1h-1zM1124 1015h1v1h-1zM1195 1015h1v1h-1zM1210 1015h1v1h-1zM1286 1015h1v1h-1zM1333 1015h1v1h-1zM70 1016h1v1h-1zM93 1016h1v1h-1zM213 1016h1v1h-1zM248 1016h1v1h-1zM276 1016h1v1h-1zM328 1016h1v1h-1zM424 1016h1v1h-1zM439 1016h1v1h-1zM474 1016h1v1h-1zM512 1016h1v1h-1zM528 1016h2v1h-2zM614 1016h1v1h-1zM668 1016h1v1h-1zM826 1016h1v1h-1zM838 1016h1v1h-1zM985 1016h1v1h-1zM996 1016h1v1h-1zM1121 1016h1v1h-1zM1123 1016h1v1h-1zM1196 1016h1v1h-1zM1209 1016h1v1h-1zM1287 1016h1v1h-1zM1333 1016h1v1h-1zM70 1017h1v1h-1zM92 1017h1v1h-1zM214 1017h1v1h-1zM248 1017h1v1h-1zM277 1017h1v1h-1zM327 1017h1v1h-1zM424 1017h1v1h-1zM438 1017h1v1h-1zM513 1017h1v1h-1zM526 1017h2v1h-2zM615 1017h1v1h-1zM625 1017h5v1h-5zM667 1017h1v1h-1zM827 1017h2v1h-2zM837 1017h1v1h-1zM986 1017h2v1h-2zM995 1017h1v1h-1zM1122 1017h1v1h-1zM1196 1017h1v1h-1zM1208 1017h1v1h-1zM1288 1017h1v1h-1zM1332 1017h1v1h-1zM70 1018h1v1h-1zM92 1018h1v1h-1zM214 1018h1v1h-1zM247 1018h1v1h-1zM278 1018h1v1h-1zM326 1018h1v1h-1zM425 1018h1v1h-1zM438 1018h1v1h-1zM513 1018h1v1h-1zM524 1018h2v1h-2zM616 1018h2v1h-2zM621 1018h4v1h-4zM630 1018h5v1h-5zM667 1018h1v1h-1zM829 1018h1v1h-1zM836 1018h1v1h-1zM988 1018h2v1h-2zM995 1018h1v1h-1zM1197 1018h1v1h-1zM1207 1018h1v1h-1zM1289 1018h1v1h-1zM1295 1018h29v1h-29zM1331 1018h1v1h-1zM71 1019h1v1h-1zM91 1019h1v1h-1zM214 1019h1v1h-1zM247 1019h1v1h-1zM278 1019h1v1h-1zM326 1019h1v1h-1zM425 1019h1v1h-1zM437 1019h1v1h-1zM514 1019h1v1h-1zM519 1019h5v1h-5zM618 1019h3v1h-3zM635 1019h1v1h-1zM666 1019h1v1h-1zM830 1019h2v1h-2zM835 1019h1v1h-1zM990 1019h3v1h-3zM994 1019h1v1h-1zM1198 1019h1v1h-1zM1206 1019h1v1h-1zM1290 1019h5v1h-5zM1324 1019h4v1h-4zM1331 1019h1v1h-1zM71 1020h1v1h-1zM91 1020h1v1h-1zM215 1020h1v1h-1zM246 1020h1v1h-1zM279 1020h1v1h-1zM325 1020h1v1h-1zM426 1020h2v1h-2zM436 1020h1v1h-1zM514 1020h5v1h-5zM636 1020h1v1h-1zM664 1020h2v1h-2zM832 1020h2v1h-2zM835 1020h1v1h-1zM993 1020h2v1h-2zM1199 1020h1v1h-1zM1206 1020h1v1h-1zM1328 1020h3v1h-3zM71 1021h1v1h-1zM90 1021h1v1h-1zM215 1021h1v1h-1zM246 1021h1v1h-1zM280 1021h1v1h-1zM324 1021h1v1h-1zM428 1021h4v1h-4zM435 1021h1v1h-1zM637 1021h1v1h-1zM662 1021h2v1h-2zM834 1021h1v1h-1zM1200 1021h1v1h-1zM1205 1021h1v1h-1zM72 1022h1v1h-1zM90 1022h1v1h-1zM216 1022h1v1h-1zM245 1022h1v1h-1zM281 1022h1v1h-1zM323 1022h1v1h-1zM432 1022h3v1h-3zM638 1022h1v1h-1zM660 1022h2v1h-2zM1200 1022h1v1h-1zM1204 1022h1v1h-1zM72 1023h1v1h-1zM88 1023h2v1h-2zM216 1023h1v1h-1zM245 1023h1v1h-1zM281 1023h1v1h-1zM323 1023h1v1h-1zM639 1023h1v1h-1zM658 1023h2v1h-2zM1201 1023h1v1h-1zM1203 1023h1v1h-1zM73 1024h1v1h-1zM86 1024h2v1h-2zM216 1024h1v1h-1zM244 1024h1v1h-1zM282 1024h1v1h-1zM321 1024h2v1h-2zM640 1024h1v1h-1zM657 1024h1v1h-1zM1202 1024h1v1h-1zM73 1025h1v1h-1zM84 1025h2v1h-2zM217 1025h1v1h-1zM244 1025h1v1h-1zM283 1025h2v1h-2zM298 1025h1v1h-1zM317 1025h4v1h-4zM641 1025h1v1h-1zM656 1025h1v1h-1zM73 1026h1v1h-1zM81 1026h3v1h-3zM217 1026h1v1h-1zM243 1026h1v1h-1zM285 1026h1v1h-1zM296 1026h2v1h-2zM299 1026h2v1h-2zM314 1026h3v1h-3zM642 1026h1v1h-1zM656 1026h1v1h-1zM74 1027h1v1h-1zM77 1027h4v1h-4zM218 1027h1v1h-1zM243 1027h1v1h-1zM286 1027h2v1h-2zM294 1027h2v1h-2zM301 1027h1v1h-1zM312 1027h2v1h-2zM643 1027h1v1h-1zM655 1027h1v1h-1zM74 1028h3v1h-3zM218 1028h1v1h-1zM242 1028h1v1h-1zM288 1028h2v1h-2zM292 1028h2v1h-2zM302 1028h2v1h-2zM310 1028h2v1h-2zM644 1028h1v1h-1zM654 1028h1v1h-1zM219 1029h1v1h-1zM241 1029h1v1h-1zM290 1029h2v1h-2zM304 1029h2v1h-2zM308 1029h2v1h-2zM645 1029h1v1h-1zM653 1029h1v1h-1zM220 1030h2v1h-2zM240 1030h1v1h-1zM306 1030h2v1h-2zM646 1030h2v1h-2zM652 1030h1v1h-1zM222 1031h1v1h-1zM239 1031h1v1h-1zM648 1031h1v1h-1zM652 1031h1v1h-1zM223 1032h1v1h-1zM237 1032h2v1h-2zM649 1032h1v1h-1zM651 1032h1v1h-1zM224 1033h2v1h-2zM236 1033h1v1h-1zM650 1033h1v1h-1zM226 1034h4v1h-4zM235 1034h1v1h-1zM230 1035h5v1h-5zM695 966h2v1h-2zM699 966h1v1h-1zM879 966h6v1h-6zM894 966h3v1h-3zM1360 966h1v1h-1zM1368 966h20v1h-20zM697 965h1v1h-1zM699 965h1v1h-1zM885 965h4v1h-4zM892 965h2v1h-2zM1361 965h1v1h-1zM1364 965h4v1h-4zM1388 965h3v1h-3zM698 964h1v1h-1zM889 964h3v1h-3zM1362 964h2v1h-2zM1391 964h2v1h-2zM1393 963h2v1h-2z" fill="#20B2AA"/>
<path d="M2 971h2v1h-2zM364 971h1v1h-1zM704 971h1v1h-1zM807 971h2v1h-2zM879 971h2v1h-2zM1030 971h1v1h-1zM4 972h1v1h-1zM368 972h3v1h-3zM700 972h1v1h-1zM795 972h2v1h-2zM878 972h1v1h-1zM1028 972h2v1h-2zM1040 972h1v1h-1zM8 973h1v1h-1zM698 973h2v1h-2zM710 973h1v1h-1zM794 973h1v1h-1zM874 973h1v1h-1zM1041 973h2v1h-2zM1096 973h1v1h-1zM9 974h2v1h-2zM359 974h1v1h-1zM697 974h1v1h-1zM711 974h1v1h-1zM793 974h1v1h-1zM812 974h1v1h-1zM873 974h1v1h-1zM909 974h1v1h-1zM1025 974h1v1h-1zM1094 974h2v1h-2zM1100 974h2v1h-2zM1364 974h1v1h-1zM14 976h1v1h-1zM194 976h3v1h-3zM203 976h1v1h-1zM357 976h1v1h-1zM375 976h1v1h-1zM696 976h1v1h-1zM714 976h1v1h-1zM792 976h1v1h-1zM813 976h1v1h-1zM872 976h1v1h-1zM910 976h1v1h-1zM1024 976h1v1h-1zM1089 976h2v1h-2zM1363 976h1v1h-1zM15 977h2v1h-2zM376 977h1v1h-1zM1046 977h2v1h-2zM1088 977h1v1h-1zM19 980h1v1h-1zM147 980h2v1h-2zM192 980h1v1h-1zM205 980h1v1h-1zM354 980h1v1h-1zM379 980h1v1h-1zM694 980h1v1h-1zM716 980h1v1h-1zM789 980h1v1h-1zM816 980h1v1h-1zM869 980h1v1h-1zM914 980h1v1h-1zM1020 980h1v1h-1zM1107 980h1v1h-1zM1179 980h1v1h-1zM1360 980h1v1h-1zM20 981h1v1h-1zM191 981h1v1h-1zM206 981h1v1h-1zM353 981h1v1h-1zM380 981h1v1h-1zM693 981h1v1h-1zM717 981h1v1h-1zM788 981h1v1h-1zM817 981h1v1h-1zM869 981h1v1h-1zM915 981h1v1h-1zM1020 981h1v1h-1zM1052 981h1v1h-1zM1076 981h3v1h-3zM1108 981h1v1h-1zM1162 981h1v1h-1zM1179 981h1v1h-1zM1360 981h1v1h-1zM21 982h1v1h-1zM142 982h1v1h-1zM191 982h1v1h-1zM206 982h1v1h-1zM353 982h1v1h-1zM380 982h1v1h-1zM692 982h1v1h-1zM718 982h1v1h-1zM787 982h1v1h-1zM818 982h1v1h-1zM868 982h1v1h-1zM915 982h1v1h-1zM1019 982h1v1h-1zM1053 982h2v1h-2zM1109 982h1v1h-1zM1161 982h1v1h-1zM1180 982h1v1h-1zM1239 982h2v1h-2zM1244 982h1v1h-1zM1359 982h1v1h-1zM23 986h1v1h-1zM136 986h1v1h-1zM155 986h1v1h-1zM188 986h1v1h-1zM209 986h1v1h-1zM351 986h1v1h-1zM383 986h1v1h-1zM567 986h2v1h-2zM690 986h1v1h-1zM720 986h1v1h-1zM785 986h1v1h-1zM820 986h1v1h-1zM865 986h1v1h-1zM918 986h1v1h-1zM958 986h1v1h-1zM972 986h1v1h-1zM1017 986h1v1h-1zM1111 986h1v1h-1zM1158 986h1v1h-1zM1183 986h1v1h-1zM1233 986h1v1h-1zM1251 986h2v1h-2zM1357 986h1v1h-1zM24 987h1v1h-1zM52 987h1v1h-1zM134 987h2v1h-2zM156 987h1v1h-1zM188 987h1v1h-1zM209 987h1v1h-1zM350 987h1v1h-1zM384 987h1v1h-1zM562 987h1v1h-1zM566 987h1v1h-1zM572 987h2v1h-2zM690 987h1v1h-1zM721 987h1v1h-1zM784 987h1v1h-1zM821 987h1v1h-1zM864 987h1v1h-1zM919 987h1v1h-1zM957 987h1v1h-1zM973 987h1v1h-1zM1016 987h1v1h-1zM1112 987h1v1h-1zM1157 987h1v1h-1zM1184 987h1v1h-1zM1232 987h1v1h-1zM1263 987h2v1h-2zM1268 987h3v1h-3zM1356 987h1v1h-1zM25 988h1v1h-1zM50 988h2v1h-2zM62 988h2v1h-2zM156 988h1v1h-1zM187 988h1v1h-1zM210 988h1v1h-1zM350 988h1v1h-1zM384 988h1v1h-1zM561 988h1v1h-1zM574 988h1v1h-1zM689 988h1v1h-1zM721 988h1v1h-1zM783 988h1v1h-1zM821 988h1v1h-1zM864 988h1v1h-1zM920 988h1v1h-1zM956 988h1v1h-1zM974 988h1v1h-1zM1016 988h1v1h-1zM1113 988h1v1h-1zM1156 988h1v1h-1zM1185 988h1v1h-1zM1232 988h1v1h-1zM1256 988h1v1h-1zM1262 988h1v1h-1zM1274 988h1v1h-1zM1356 988h1v1h-1zM26 990h1v1h-1zM129 990h1v1h-1zM579 990h1v1h-1zM723 990h1v1h-1zM952 990h1v1h-1zM1276 990h1v1h-1zM27 991h1v1h-1zM128 991h1v1h-1zM580 991h1v1h-1zM724 991h1v1h-1zM922 991h1v1h-1zM951 991h1v1h-1zM28 992h1v1h-1zM46 992h1v1h-1zM67 992h1v1h-1zM159 992h1v1h-1zM185 992h1v1h-1zM212 992h1v1h-1zM348 992h1v1h-1zM387 992h1v1h-1zM506 992h1v1h-1zM558 992h1v1h-1zM687 992h1v1h-1zM780 992h1v1h-1zM823 992h1v1h-1zM860 992h1v1h-1zM950 992h1v1h-1zM977 992h1v1h-1zM1014 992h1v1h-1zM1115 992h1v1h-1zM1153 992h1v1h-1zM1187 992h1v1h-1zM1229 992h1v1h-1zM1354 992h1v1h-1zM32 995h1v1h-1zM122 995h1v1h-1zM496 995h1v1h-1zM584 995h1v1h-1zM728 995h1v1h-1zM778 995h1v1h-1zM928 995h1v1h-1zM944 995h1v1h-1zM1281 995h1v1h-1zM33 996h1v1h-1zM39 996h2v1h-2zM495 996h1v1h-1zM585 996h1v1h-1zM591 996h2v1h-2zM596 996h3v1h-3zM602 996h2v1h-2zM729 996h1v1h-1zM776 996h2v1h-2zM932 996h2v1h-2zM940 996h1v1h-1zM1282 996h1v1h-1zM34 997h1v1h-1zM38 997h1v1h-1zM116 997h3v1h-3zM494 997h1v1h-1zM586 997h1v1h-1zM590 997h1v1h-1zM604 997h1v1h-1zM730 997h1v1h-1zM934 997h1v1h-1zM938 997h2v1h-2zM44 994h1v1h-1zM68 994h1v1h-1zM123 994h2v1h-2zM160 994h1v1h-1zM184 994h1v1h-1zM212 994h1v1h-1zM347 994h1v1h-1zM388 994h1v1h-1zM507 994h1v1h-1zM556 994h1v1h-1zM686 994h1v1h-1zM779 994h1v1h-1zM824 994h1v1h-1zM859 994h1v1h-1zM926 994h2v1h-2zM945 994h2v1h-2zM979 994h1v1h-1zM1013 994h1v1h-1zM1116 994h1v1h-1zM1152 994h1v1h-1zM1189 994h1v1h-1zM1228 994h1v1h-1zM1280 994h1v1h-1zM1353 994h1v1h-1zM45 993h1v1h-1zM67 993h1v1h-1zM160 993h1v1h-1zM184 993h1v1h-1zM212 993h1v1h-1zM347 993h1v1h-1zM387 993h1v1h-1zM500 993h3v1h-3zM507 993h1v1h-1zM557 993h1v1h-1zM687 993h1v1h-1zM779 993h1v1h-1zM824 993h1v1h-1zM860 993h1v1h-1zM978 993h1v1h-1zM1014 993h1v1h-1zM1116 993h1v1h-1zM1152 993h1v1h-1zM1188 993h1v1h-1zM1229 993h1v1h-1zM1353 993h1v1h-1zM56 985h2v1h-2zM1064 985h3v1h-3zM1250 985h1v1h-1zM58 984h1v1h-1zM140 984h1v1h-1zM154 984h1v1h-1zM968 984h3v1h-3zM1058 984h3v1h-3zM1070 984h1v1h-1zM1234 984h1v1h-1zM64 989h1v1h-1zM130 989h1v1h-1zM578 989h1v1h-1zM722 989h1v1h-1zM1257 989h2v1h-2zM1275 989h1v1h-1zM70 998h1v1h-1zM114 998h1v1h-1zM163 998h1v1h-1zM182 998h1v1h-1zM214 998h1v1h-1zM266 998h3v1h-3zM272 998h3v1h-3zM345 998h1v1h-1zM391 998h1v1h-1zM510 998h1v1h-1zM553 998h1v1h-1zM608 998h1v1h-1zM684 998h1v1h-1zM826 998h1v1h-1zM857 998h1v1h-1zM981 998h1v1h-1zM1011 998h1v1h-1zM1118 998h1v1h-1zM1148 998h1v1h-1zM1191 998h1v1h-1zM1226 998h1v1h-1zM1283 998h1v1h-1zM1351 998h1v1h-1zM70 999h1v1h-1zM113 999h1v1h-1zM163 999h1v1h-1zM181 999h1v1h-1zM214 999h1v1h-1zM265 999h1v1h-1zM275 999h1v1h-1zM344 999h1v1h-1zM392 999h1v1h-1zM511 999h1v1h-1zM552 999h1v1h-1zM609 999h2v1h-2zM684 999h1v1h-1zM759 999h2v1h-2zM764 999h2v1h-2zM771 999h2v1h-2zM827 999h1v1h-1zM856 999h1v1h-1zM982 999h1v1h-1zM1011 999h1v1h-1zM1119 999h1v1h-1zM1148 999h1v1h-1zM1192 999h1v1h-1zM1225 999h1v1h-1zM1284 999h1v1h-1zM1350 999h1v1h-1zM71 1000h1v1h-1zM113 1000h1v1h-1zM164 1000h1v1h-1zM181 1000h1v1h-1zM215 1000h1v1h-1zM265 1000h1v1h-1zM275 1000h1v1h-1zM344 1000h1v1h-1zM393 1000h1v1h-1zM512 1000h1v1h-1zM551 1000h1v1h-1zM611 1000h1v1h-1zM683 1000h1v1h-1zM734 1000h1v1h-1zM752 1000h3v1h-3zM758 1000h1v1h-1zM766 1000h1v1h-1zM770 1000h1v1h-1zM827 1000h1v1h-1zM856 1000h1v1h-1zM982 1000h1v1h-1zM1010 1000h1v1h-1zM1119 1000h1v1h-1zM1147 1000h1v1h-1zM1193 1000h1v1h-1zM1225 1000h1v1h-1zM1284 1000h1v1h-1zM1350 1000h1v1h-1zM73 1004h1v1h-1zM110 1004h1v1h-1zM167 1004h1v1h-1zM179 1004h1v1h-1zM216 1004h1v1h-1zM262 1004h1v1h-1zM278 1004h1v1h-1zM342 1004h1v1h-1zM410 1004h3v1h-3zM515 1004h1v1h-1zM548 1004h1v1h-1zM614 1004h1v1h-1zM681 1004h1v1h-1zM830 1004h1v1h-1zM854 1004h1v1h-1zM985 1004h1v1h-1zM1008 1004h1v1h-1zM1121 1004h1v1h-1zM1143 1004h1v1h-1zM1195 1004h1v1h-1zM1223 1004h1v1h-1zM1287 1004h1v1h-1zM1348 1004h1v1h-1zM73 1005h1v1h-1zM109 1005h1v1h-1zM168 1005h1v1h-1zM177 1005h2v1h-2zM217 1005h1v1h-1zM261 1005h1v1h-1zM279 1005h1v1h-1zM341 1005h1v1h-1zM398 1005h1v1h-1zM422 1005h1v1h-1zM516 1005h1v1h-1zM547 1005h1v1h-1zM615 1005h1v1h-1zM681 1005h1v1h-1zM830 1005h1v1h-1zM853 1005h1v1h-1zM985 1005h1v1h-1zM1007 1005h1v1h-1zM1122 1005h1v1h-1zM1142 1005h1v1h-1zM1196 1005h1v1h-1zM1222 1005h1v1h-1zM1288 1005h1v1h-1zM1347 1005h1v1h-1zM74 1006h1v1h-1zM108 1006h1v1h-1zM169 1006h1v1h-1zM176 1006h1v1h-1zM217 1006h1v1h-1zM261 1006h1v1h-1zM280 1006h1v1h-1zM341 1006h1v1h-1zM399 1006h1v1h-1zM406 1006h1v1h-1zM423 1006h1v1h-1zM454 1006h1v1h-1zM470 1006h1v1h-1zM516 1006h1v1h-1zM546 1006h1v1h-1zM616 1006h1v1h-1zM680 1006h1v1h-1zM831 1006h1v1h-1zM853 1006h1v1h-1zM986 1006h1v1h-1zM1006 1006h1v1h-1zM1122 1006h1v1h-1zM1142 1006h1v1h-1zM1197 1006h1v1h-1zM1221 1006h1v1h-1zM1288 1006h1v1h-1zM1347 1006h1v1h-1zM76 1010h1v1h-1zM105 1010h1v1h-1zM219 1010h1v1h-1zM258 1010h1v1h-1zM283 1010h1v1h-1zM339 1010h1v1h-1zM428 1010h1v1h-1zM449 1010h1v1h-1zM476 1010h3v1h-3zM520 1010h1v1h-1zM542 1010h1v1h-1zM677 1010h1v1h-1zM833 1010h1v1h-1zM851 1010h1v1h-1zM990 1010h1v1h-1zM1003 1010h1v1h-1zM1136 1010h3v1h-3zM1199 1010h1v1h-1zM1219 1010h1v1h-1zM76 1011h1v1h-1zM104 1011h1v1h-1zM220 1011h1v1h-1zM257 1011h1v1h-1zM283 1011h1v1h-1zM338 1011h1v1h-1zM429 1011h1v1h-1zM448 1011h1v1h-1zM520 1011h1v1h-1zM620 1011h1v1h-1zM677 1011h1v1h-1zM834 1011h1v1h-1zM850 1011h1v1h-1zM990 1011h1v1h-1zM1003 1011h1v1h-1zM1130 1011h3v1h-3zM1200 1011h1v1h-1zM1219 1011h1v1h-1zM1292 1011h1v1h-1zM77 1012h1v1h-1zM103 1012h1v1h-1zM220 1012h1v1h-1zM257 1012h1v1h-1zM284 1012h1v1h-1zM338 1012h1v1h-1zM430 1012h1v1h-1zM447 1012h1v1h-1zM521 1012h1v1h-1zM621 1012h1v1h-1zM676 1012h1v1h-1zM836 1012h1v1h-1zM848 1012h2v1h-2zM991 1012h1v1h-1zM1002 1012h1v1h-1zM1201 1012h1v1h-1zM1218 1012h1v1h-1zM1293 1012h1v1h-1zM1341 1012h2v1h-2zM80 1016h1v1h-1zM100 1016h1v1h-1zM222 1016h1v1h-1zM255 1016h1v1h-1zM286 1016h1v1h-1zM334 1016h1v1h-1zM434 1016h2v1h-2zM444 1016h1v1h-1zM526 1016h1v1h-1zM626 1016h2v1h-2zM673 1016h1v1h-1zM1298 1016h2v1h-2zM1336 1016h1v1h-1zM80 1017h1v1h-1zM99 1017h1v1h-1zM223 1017h1v1h-1zM254 1017h1v1h-1zM287 1017h1v1h-1zM334 1017h1v1h-1zM436 1017h1v1h-1zM443 1017h1v1h-1zM531 1017h2v1h-2zM628 1017h1v1h-1zM672 1017h1v1h-1zM1208 1017h1v1h-1zM1300 1017h1v1h-1zM1334 1017h2v1h-2zM81 1018h1v1h-1zM98 1018h1v1h-1zM223 1018h1v1h-1zM254 1018h1v1h-1zM288 1018h1v1h-1zM333 1018h1v1h-1zM440 1018h3v1h-3zM530 1018h1v1h-1zM632 1018h3v1h-3zM672 1018h1v1h-1zM1209 1018h2v1h-2zM1304 1018h3v1h-3zM1310 1018h3v1h-3zM1316 1018h3v1h-3zM1322 1018h3v1h-3zM82 1020h1v1h-1zM640 1020h1v1h-1zM86 1023h2v1h-2zM92 1023h1v1h-1zM226 1023h1v1h-1zM251 1023h1v1h-1zM291 1023h2v1h-2zM327 1023h1v1h-1zM646 1023h1v1h-1zM668 1023h1v1h-1zM88 1024h1v1h-1zM227 1024h1v1h-1zM251 1024h1v1h-1zM326 1024h1v1h-1zM667 1024h1v1h-1zM93 1022h2v1h-2zM225 1022h1v1h-1zM252 1022h1v1h-1zM290 1022h1v1h-1zM328 1022h1v1h-1zM644 1022h2v1h-2zM668 1022h1v1h-1zM141 983h1v1h-1zM152 983h2v1h-2zM962 983h3v1h-3zM1071 983h2v1h-2zM1238 983h1v1h-1zM1245 983h2v1h-2zM146 979h1v1h-1zM1082 979h2v1h-2zM1166 979h2v1h-2zM1178 979h1v1h-1zM170 1008h2v1h-2zM452 1008h1v1h-1zM472 1008h1v1h-1zM483 1008h1v1h-1zM544 1008h1v1h-1zM1125 1008h1v1h-1zM1346 1008h1v1h-1zM172 1007h1v1h-1zM400 1007h1v1h-1zM404 1007h2v1h-2zM424 1007h1v1h-1zM453 1007h1v1h-1zM471 1007h1v1h-1zM484 1007h1v1h-1zM1124 1007h1v1h-1zM200 975h3v1h-3zM358 975h1v1h-1zM374 975h1v1h-1zM697 975h1v1h-1zM712 975h1v1h-1zM793 975h1v1h-1zM812 975h1v1h-1zM873 975h1v1h-1zM910 975h1v1h-1zM1024 975h1v1h-1zM1102 975h1v1h-1zM1364 975h1v1h-1zM230 1028h1v1h-1zM304 1028h1v1h-1zM308 1028h3v1h-3zM231 1029h1v1h-1zM232 1030h1v1h-1zM244 1030h1v1h-1zM236 1032h3v1h-3zM242 1032h1v1h-1zM243 1031h1v1h-1zM248 1027h1v1h-1zM302 1027h2v1h-2zM314 1027h3v1h-3zM656 1027h3v1h-3zM249 1026h1v1h-1zM297 1026h2v1h-2zM320 1026h3v1h-3zM650 1026h3v1h-3zM662 1026h3v1h-3zM250 1025h1v1h-1zM296 1025h1v1h-1zM362 970h2v1h-2zM705 970h2v1h-2zM806 970h1v1h-1zM904 970h1v1h-1zM1035 970h2v1h-2zM1368 970h1v1h-1zM394 1002h1v1h-1zM417 1002h2v1h-2zM464 1002h3v1h-3zM489 1002h1v1h-1zM736 1002h1v1h-1zM741 1002h2v1h-2zM416 1003h1v1h-1zM458 1003h3v1h-3zM488 1003h1v1h-1zM740 1003h1v1h-1zM482 1009h1v1h-1zM543 1009h1v1h-1zM1126 1009h1v1h-1zM490 1001h1v1h-1zM735 1001h1v1h-1zM746 1001h3v1h-3zM524 1014h1v1h-1zM536 1014h2v1h-2zM844 1014h1v1h-1zM998 1014h1v1h-1zM1202 1014h1v1h-1zM1215 1014h2v1h-2zM525 1015h1v1h-1zM842 1015h2v1h-2zM994 1015h1v1h-1zM1203 1015h2v1h-2zM1214 1015h1v1h-1zM538 1013h1v1h-1zM622 1013h1v1h-1zM837 1013h2v1h-2zM999 1013h2v1h-2zM1294 1013h1v1h-1zM1340 1013h1v1h-1zM638 1019h2v1h-2zM1328 1019h3v1h-3zM800 969h2v1h-2zM884 969h2v1h-2zM903 969h1v1h-1zM1034 969h1v1h-1zM1368 969h1v1h-1zM802 968h1v1h-1zM886 968h1v1h-1zM902 968h1v1h-1zM1369 968h1v1h-1zM890 966h3v1h-3zM1376 966h1v1h-1zM1382 966h3v1h-3zM1388 966h3v1h-3zM896 965h3v1h-3zM1377 965h2v1h-2zM1394 965h1v1h-1zM1048 978h1v1h-1zM1084 978h1v1h-1zM1106 978h1v1h-1zM1168 978h1v1h-1zM1172 978h3v1h-3zM1370 967h3v1h-3z" fill="#FF0000"/>
</g>
<rect x="2" y="2" width="1682" height="1" fill="#000"/>
<rect x="2" y="789" width="1682" height="1" fill="#000"/>
<rect x="2" y="2" width="1" height="788" fill="#000"/>
<rect x="2" y="791" width="1682" height="1" fill="#000"/>
<rect x="2" y="878" width="1682" height="1" fill="#000"/>
<rect x="2" y="791" width="1" height="88" fill="#000"/>
<rect x="2" y="880" width="1682" height="1" fill="#000"/>
<rect x="2" y="957" width="1682" height="1" fill="#000"/>
<rect x="2" y="880" width="1" height="78" fill="#000"/>
<rect x="2" y="959" width="1682" height="1" fill="#000"/>
<rect x="2" y="1040" width="1682" height="1" fill="#000"/>
<rect x="2" y="959" width="1" height="82" fill="#000"/>
<rect x="1683" y="2" width="1" height="1039" fill="#000"/>
<g font-family="Liberation Sans, Arial, sans-serif" font-size="9px" font-kerning="none" style="font-kerning:none" text-rendering="geometricPrecision">
<rect x="1684" y="21" width="4" height="1" fill="#000"/>
<text x="1689" y="24.7" fill="#000" stroke="#000" stroke-width="0.15" >119.13</text>
<rect x="1684" y="53" width="4" height="1" fill="#000"/>
<text x="1689" y="56.7" fill="#000" stroke="#000" stroke-width="0.15" >116.60</text>
<rect x="1684" y="85" width="4" height="1" fill="#000"/>
<text x="1689" y="88.7" fill="#000" stroke="#000" stroke-width="0.15" >114.07</text>
<rect x="1684" y="117" width="4" height="1" fill="#000"/>
<text x="1689" y="120.7" fill="#000" stroke="#000" stroke-width="0.15" >111.54</text>
<rect x="1684" y="149" width="4" height="1" fill="#000"/>
<text x="1689" y="152.7" fill="#000" stroke="#000" stroke-width="0.15" >109.01</text>
<rect x="1684" y="181" width="4" height="1" fill="#000"/>
<text x="1689" y="184.7" fill="#000" stroke="#000" stroke-width="0.15" >106.48</text>
<rect x="1684" y="213" width="4" height="1" fill="#000"/>
<text x="1689" y="216.7" fill="#000" stroke="#000" stroke-width="0.15" >103.95</text>
<rect x="1684" y="245" width="4" height="1" fill="#000"/>
<text x="1689" y="248.7" fill="#000" stroke="#000" stroke-width="0.15" >101.42</text>
<rect x="1684" y="277" width="4" height="1" fill="#000"/>
<text x="1689" y="280.7" fill="#000" stroke="#000" stroke-width="0.15" >98.89</text>
<rect x="1684" y="309" width="4" height="1" fill="#000"/>
<text x="1689" y="312.7" fill="#000" stroke="#000" stroke-width="0.15" >96.36</text>
<rect x="1684" y="341" width="4" height="1" fill="#000"/>
<text x="1689" y="344.7" fill="#000" stroke="#000" stroke-width="0.15" >93.83</text>
<rect x="1684" y="373" width="4" height="1" fill="#000"/>
<text x="1689" y="376.7" fill="#000" stroke="#000" stroke-width="0.15" >91.30</text>
<rect x="1684" y="405" width="4" height="1" fill="#000"/>
<text x="1689" y="408.7" fill="#000" stroke="#000" stroke-width="0.15" >88.77</text>
<rect x="1684" y="437" width="4" height="1" fill="#000"/>
<text x="1689" y="440.7" fill="#000" stroke="#000" stroke-width="0.15" >86.24</text>
<rect x="1684" y="469" width="4" height="1" fill="#000"/>
<text x="1689" y="472.7" fill="#000" stroke="#000" stroke-width="0.15" >83.71</text>
<rect x="1684" y="501" width="4" height="1" fill="#000"/>
<text x="1689" y="504.7" fill="#000" stroke="#000" stroke-width="0.15" >81.18</text>
<rect x="1684" y="533" width="4" height="1" fill="#000"/>
<text x="1689" y="536.7" fill="#000" stroke="#000" stroke-width="0.15" >78.65</text>
<rect x="1684" y="565" width="4" height="1" fill="#000"/>
<text x="1689" y="568.7" fill="#000" stroke="#000" stroke-width="0.15" >76.12</text>
<rect x="1684" y="597" width="4" height="1" fill="#000"/>
<text x="1689" y="600.7" fill="#000" stroke="#000" stroke-width="0.15" >73.59</text>
<rect x="1684" y="629" width="4" height="1" fill="#000"/>
<text x="1689" y="632.7" fill="#000" stroke="#000" stroke-width="0.15" >71.06</text>
<rect x="1684" y="661" width="4" height="1" fill="#000"/>
<text x="1689" y="664.7" fill="#000" stroke="#000" stroke-width="0.15" >68.53</text>
<rect x="1684" y="693" width="4" height="1" fill="#000"/>
<text x="1689" y="696.7" fill="#000" stroke="#000" stroke-width="0.15" >66.00</text>
<rect x="1684" y="725" width="4" height="1" fill="#000"/>
<text x="1689" y="728.7" fill="#000" stroke="#000" stroke-width="0.15" >63.47</text>
<rect x="1684" y="757" width="4" height="1" fill="#000"/>
<text x="1689" y="760.7" fill="#000" stroke="#000" stroke-width="0.15" >60.94</text>
<rect x="1686" y="69" width="34" height="11" fill="#708090"/><text x="1689" y="77.7" fill="#FFFFFF" stroke="#FFFFFF" stroke-width="0.15" >114.90</text>
<rect x="1686" y="11" width="34" height="11" fill="#1E90FF"/><text x="1689" y="19.7" fill="#FFFFFF" stroke="#FFFFFF" stroke-width="0.15" >119.50</text>
<rect x="1686" y="225" width="34" height="11" fill="#1E90FF"/><text x="1689" y="233.7" fill="#FFFFFF" stroke="#FFFFFF" stroke-width="0.15" >102.59</text>
<rect x="1686" y="325" width="29" height="11" fill="#1E90FF"/><text x="1689" y="333.7" fill="#FFFFFF" stroke="#FFFFFF" stroke-width="0.15" >94.69</text>
<rect x="1686" y="450" width="29" height="11" fill="#1E90FF"/><text x="1689" y="458.7" fill="#FFFFFF" stroke="#FFFFFF" stroke-width="0.15" >84.79</text>
<rect x="1686" y="689" width="29" height="11" fill="#1E90FF"/><text x="1689" y="697.7" fill="#FFFFFF" stroke="#FFFFFF" stroke-width="0.15" >65.88</text>
<rect x="1684" y="792" width="4" height="1" fill="#000"/>
<text x="1689" y="799.7" fill="#000" stroke="#000" stroke-width="0.15" >100.00</text>
<rect x="1684" y="817" width="4" height="1" fill="#000"/>
<text x="1689" y="820.7" fill="#000" stroke="#000" stroke-width="0.15" >70.00</text>
<rect x="1684" y="852" width="4" height="1" fill="#000"/>
<text x="1689" y="855.7" fill="#000" stroke="#000" stroke-width="0.15" >30.00</text>
<rect x="1684" y="877" width="4" height="1" fill="#000"/>
<text x="1689" y="875.7" fill="#000" stroke="#000" stroke-width="0.15" >0.00</text>
<rect x="1684" y="881" width="4" height="1" fill="#000"/>
<text x="1689" y="888.7" fill="#000" stroke="#000" stroke-width="0.15" >11.494</text>
<text x="1689" y="944.7" fill="#000" stroke="#000" stroke-width="0.15" >0.000</text>
<rect x="1684" y="956" width="4" height="1" fill="#000"/>
<text x="1689" y="954.7" fill="#000" stroke="#000" stroke-width="0.15" >-2.831</text>
<rect x="1684" y="960" width="4" height="1" fill="#000"/>
<text x="1689" y="967.7" fill="#000" stroke="#000" stroke-width="0.15" >100.00</text>
<rect x="1684" y="975" width="4" height="1" fill="#000"/>
<text x="1689" y="978.7" fill="#000" stroke="#000" stroke-width="0.15" >80.00</text>
<rect x="1684" y="1024" width="4" height="1" fill="#000"/>
<text x="1689" y="1027.7" fill="#000" stroke="#000" stroke-width="0.15" >20.00</text>
<rect x="1684" y="1039" width="4" height="1" fill="#000"/>
<text x="1689" y="1037.7" fill="#000" stroke="#000" stroke-width="0.15" >0.00</text>
<text x="7" y="12.7" fill="#000" stroke="#000" stroke-width="0.15" textLength="177.5" lengthAdjust="spacingAndGlyphs">#BRENT.z, Daily:  Brent Oil Spot Vs USD</text>
<text x="5.5" y="803.7" fill="#000" stroke="#000" stroke-width="0.15" textLength="58.2" lengthAdjust="spacingAndGlyphs">RSI(14) 65.01</text>
<text x="5.5" y="892.7" fill="#000" stroke="#000" stroke-width="0.15" textLength="118" lengthAdjust="spacingAndGlyphs">MACD(12,26,9) 3.215 1.488</text>
<text x="5.5" y="971.7" fill="#000" stroke="#000" stroke-width="0.15" textLength="102" lengthAdjust="spacingAndGlyphs">Stoch(5,3,3) 94.98 92.71</text>
<rect x="2" y="1041" width="1" height="3" fill="#000"/>
<text x="2" y="1052.7" fill="#000" stroke="#000" stroke-width="0.15" textLength="52.5" lengthAdjust="spacingAndGlyphs">25 Aug 2025</text>
<rect x="66" y="1041" width="1" height="3" fill="#000"/>
<text x="66" y="1052.7" fill="#000" stroke="#000" stroke-width="0.15" textLength="46.3" lengthAdjust="spacingAndGlyphs">4 Sep 2025</text>
<rect x="130" y="1041" width="1" height="3" fill="#000"/>
<text x="130" y="1052.7" fill="#000" stroke="#000" stroke-width="0.15" textLength="51.3" lengthAdjust="spacingAndGlyphs">16 Sep 2025</text>
<rect x="194" y="1041" width="1" height="3" fill="#000"/>
<text x="194" y="1052.7" fill="#000" stroke="#000" stroke-width="0.15" textLength="51.3" lengthAdjust="spacingAndGlyphs">26 Sep 2025</text>
<rect x="258" y="1041" width="1" height="3" fill="#000"/>
<text x="258" y="1052.7" fill="#000" stroke="#000" stroke-width="0.15" textLength="45.3" lengthAdjust="spacingAndGlyphs">8 Oct 2025</text>
<rect x="322" y="1041" width="1" height="3" fill="#000"/>
<text x="322" y="1052.7" fill="#000" stroke="#000" stroke-width="0.15" textLength="50.2" lengthAdjust="spacingAndGlyphs">20 Oct 2025</text>
<rect x="386" y="1041" width="1" height="3" fill="#000"/>
<text x="386" y="1052.7" fill="#000" stroke="#000" stroke-width="0.15" textLength="50.4" lengthAdjust="spacingAndGlyphs">30 Oct 2025</text>
<rect x="450" y="1041" width="1" height="3" fill="#000"/>
<text x="450" y="1052.7" fill="#000" stroke="#000" stroke-width="0.15" textLength="53" lengthAdjust="spacingAndGlyphs">11 Nov 2025</text>
<rect x="514" y="1041" width="1" height="3" fill="#000"/>
<text x="514" y="1052.7" fill="#000" stroke="#000" stroke-width="0.15" textLength="53.2" lengthAdjust="spacingAndGlyphs">21 Nov 2025</text>
<rect x="578" y="1041" width="1" height="3" fill="#000"/>
<text x="578" y="1052.7" fill="#000" stroke="#000" stroke-width="0.15" textLength="46.5" lengthAdjust="spacingAndGlyphs">3 Dec 2025</text>
<rect x="642" y="1041" width="1" height="3" fill="#000"/>
<text x="642" y="1052.7" fill="#000" stroke="#000" stroke-width="0.15" textLength="50.9" lengthAdjust="spacingAndGlyphs">15 Dec 2025</text>
<rect x="706" y="1041" width="1" height="3" fill="#000"/>
<text x="706" y="1052.7" fill="#000" stroke="#000" stroke-width="0.15" textLength="51.3" lengthAdjust="spacingAndGlyphs">26 Dec 2025</text>
<rect x="770" y="1041" width="1" height="3" fill="#000"/>
<text x="770" y="1052.7" fill="#000" stroke="#000" stroke-width="0.15" textLength="44.2" lengthAdjust="spacingAndGlyphs">8 Jan 2026</text>
<rect x="834" y="1041" width="1" height="3" fill="#000"/>
<text x="834" y="1052.7" fill="#000" stroke="#000" stroke-width="0.15" textLength="49.8" lengthAdjust="spacingAndGlyphs">20 Jan 2026</text>
<rect x="898" y="1041" width="1" height="3" fill="#000"/>
<text x="898" y="1052.7" fill="#000" stroke="#000" stroke-width="0.15" textLength="49.4" lengthAdjust="spacingAndGlyphs">30 Jan 2026</text>
<rect x="962" y="1041" width="1" height="3" fill="#000"/>
<text x="962" y="1052.7" fill="#000" stroke="#000" stroke-width="0.15" textLength="51.3" lengthAdjust="spacingAndGlyphs">11 Feb 2026</text>
<rect x="1026" y="1041" width="1" height="3" fill="#000"/>
<text x="1026" y="1052.7" fill="#000" stroke="#000" stroke-width="0.15" textLength="50.8" lengthAdjust="spacingAndGlyphs">23 Feb 2026</text>
<rect x="1090" y="1041" width="1" height="3" fill="#000"/>
<text x="1090" y="1052.7" fill="#000" stroke="#000" stroke-width="0.15" textLength="45.9" lengthAdjust="spacingAndGlyphs">5 Mar 2026</text>
<rect x="1154" y="1041" width="1" height="3" fill="#000"/>
<text x="1154" y="1052.7" fill="#000" stroke="#000" stroke-width="0.15" textLength="50.4" lengthAdjust="spacingAndGlyphs">17 Mar 2026</text>
<rect x="1218" y="1041" width="1" height="3" fill="#000"/>
<text x="1218" y="1052.7" fill="#000" stroke="#000" stroke-width="0.15" textLength="51.1" lengthAdjust="spacingAndGlyphs">27 Mar 2026</text>
<rect x="1282" y="1041" width="1" height="3" fill="#000"/>
<text x="1282" y="1052.7" fill="#000" stroke="#000" stroke-width="0.15" textLength="45" lengthAdjust="spacingAndGlyphs">9 Apr 2026</text>
<rect x="1346" y="1041" width="1" height="3" fill="#000"/>
<text x="1346" y="1052.7" fill="#000" stroke="#000" stroke-width="0.15" textLength="49.9" lengthAdjust="spacingAndGlyphs">21 Apr 2026</text>
</g>
</svg></body></html>
